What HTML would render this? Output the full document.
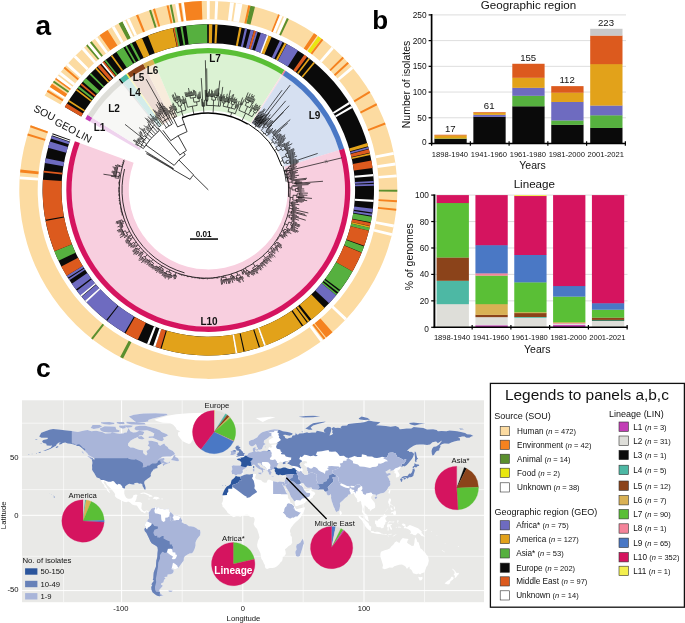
<!DOCTYPE html>
<html><head><meta charset="utf-8"><title>Figure</title>
<style>
html,body{margin:0;padding:0;background:#fff;}
svg{display:block;font-family:"Liberation Sans",sans-serif;will-change:transform;transform:translateZ(0);}
</style></head><body>
<svg width="685" height="623" viewBox="0 0 685 623">
<rect width="685" height="623" fill="#ffffff"/>
<g id="panel_a"><path d="M89.65,121.4A137,137 0 0 1 91.99,117.51L140.81,147.89A79.5,79.5 0 0 0 139.45,150.15Z" fill="#efd3ee" />
<path d="M91.93,117.61A137,137 0 0 1 122.08,83.43L158.27,128.12A79.5,79.5 0 0 0 140.77,147.95Z" fill="#f7f7f5" />
<path d="M121.99,83.51A137,137 0 0 1 123.23,82.51L158.94,127.58A79.5,79.5 0 0 0 158.22,128.16Z" fill="#e6e6e6" />
<path d="M123.14,82.58A137,137 0 0 1 129.13,78.09L162.36,125.02A79.5,79.5 0 0 0 158.88,127.62Z" fill="#d3ecea" />
<path d="M129.03,78.16A137,137 0 0 1 130.34,77.25L163.06,124.53A79.5,79.5 0 0 0 162.3,125.06Z" fill="#fbf9c4" />
<path d="M130.24,77.32A137,137 0 0 1 145.48,68.15L171.85,119.25A79.5,79.5 0 0 0 163,124.57Z" fill="#ecdcd5" />
<path d="M145.38,68.21A137,137 0 0 1 154.82,63.77L177.26,116.71A79.5,79.5 0 0 0 171.79,119.28Z" fill="#f8ecdc" />
<path d="M154.71,63.82A137,137 0 0 1 281.87,74.33L250.99,122.84A79.5,79.5 0 0 0 177.2,116.74Z" fill="#dbf2d3" />
<path d="M281.77,74.26A137,137 0 0 1 283.11,75.13L251.71,123.3A79.5,79.5 0 0 0 250.93,122.8Z" fill="#fbe0e4" />
<path d="M283.01,75.06A137,137 0 0 1 339.42,150.18L284.39,166.85A79.5,79.5 0 0 0 251.65,123.26Z" fill="#d6e0f1" />
<path d="M339.38,150.07A137,137 0 1 1 79.6,142.93L133.62,162.64A79.5,79.5 0 1 0 284.37,166.79Z" fill="#f8cfdf" />
<path d="M85.32,118.9A142,142 0 0 1 87.74,114.86L92.24,117.67A136.7,136.7 0 0 0 89.91,121.55Z" fill="#c23db5" />
<path d="M87.68,114.97A142,142 0 0 1 118.94,79.54L122.27,83.66A136.7,136.7 0 0 0 92.18,117.77Z" fill="#deded9" />
<path d="M118.84,79.62A142,142 0 0 1 120.13,78.59L123.42,82.74A136.7,136.7 0 0 0 122.18,83.74Z" fill="#0a0a0a" />
<path d="M120.03,78.67A142,142 0 0 1 126.24,74.01L129.3,78.34A136.7,136.7 0 0 0 123.33,82.82Z" fill="#4db8a4" />
<path d="M126.14,74.08A142,142 0 0 1 127.49,73.14L130.51,77.49A136.7,136.7 0 0 0 129.21,78.41Z" fill="#f3ef4e" />
<path d="M127.39,73.21A142,142 0 0 1 143.19,63.71L145.62,68.42A136.7,136.7 0 0 0 130.41,77.56Z" fill="#8b431a" />
<path d="M143.08,63.76A142,142 0 0 1 152.87,59.17L154.94,64.05A136.7,136.7 0 0 0 145.51,68.47Z" fill="#d9b154" />
<path d="M152.75,59.22A142,142 0 0 1 284.55,70.11L281.71,74.58A136.7,136.7 0 0 0 154.83,64.09Z" fill="#5abf36" />
<path d="M284.45,70.04A142,142 0 0 1 285.84,70.94L282.94,75.38A136.7,136.7 0 0 0 281.61,74.52Z" fill="#f4849a" />
<path d="M285.73,70.87A142,142 0 0 1 344.2,148.74L339.13,150.27A136.7,136.7 0 0 0 282.84,75.31Z" fill="#4a78c5" />
<path d="M344.17,148.62A142,142 0 1 1 74.91,141.22L79.88,143.03A136.7,136.7 0 1 0 339.1,150.16Z" fill="#d5145f" />
<path d="M64.8,107.05A165.7,165.7 0 1 1 52.59,133.23L70.35,139.69A146.8,146.8 0 1 0 81.17,116.5Z" fill="#0a0a0a" /><path d="M64.8,107.05A165.7,165.7 0 0 1 66.87,103.57L83,113.42A146.8,146.8 0 0 0 81.17,116.5Z" fill="#dc5a1e" /><path d="M68.15,101.5A165.7,165.7 0 0 1 69.11,99.99L84.99,110.25A146.8,146.8 0 0 0 84.13,111.59Z" fill="#e2a21a" /><path d="M75.86,90.32A165.7,165.7 0 0 1 76.95,88.89L91.93,100.41A146.8,146.8 0 0 0 90.97,101.68Z" fill="#e2a21a" /><path d="M77.73,87.88A165.7,165.7 0 0 1 78.98,86.3L93.73,98.11A146.8,146.8 0 0 0 92.62,99.52Z" fill="#56b03f" /><path d="M80.33,84.64A165.7,165.7 0 0 1 81.48,83.26L95.94,95.42A146.8,146.8 0 0 0 94.93,96.64Z" fill="#dc5a1e" /><path d="M82.87,81.63A165.7,165.7 0 0 1 85.94,78.17L99.89,90.91A146.8,146.8 0 0 0 97.17,93.98Z" fill="#56b03f" /><path d="M89.49,74.4A165.7,165.7 0 0 1 90.74,73.12L104.15,86.44A146.8,146.8 0 0 0 103.04,87.57Z" fill="#56b03f" /><path d="M95.17,68.83A165.7,165.7 0 0 1 96.48,67.62L109.24,81.56A146.8,146.8 0 0 0 108.07,82.64Z" fill="#e2a21a" /><path d="M97.43,66.76A165.7,165.7 0 0 1 100.03,64.47L112.38,78.77A146.8,146.8 0 0 0 110.07,80.81Z" fill="#dc5a1e" /><path d="M101.15,63.51A165.7,165.7 0 0 1 102.88,62.06L114.9,76.64A146.8,146.8 0 0 0 113.37,77.92Z" fill="#ffffff" /><path d="M102.55,62.34A165.7,165.7 0 0 1 103.93,61.2L115.84,75.88A146.8,146.8 0 0 0 114.61,76.89Z" fill="#dc5a1e" /><path d="M104.45,60.78A165.7,165.7 0 0 1 105.85,59.67L117.54,74.52A146.8,146.8 0 0 0 116.29,75.51Z" fill="#56b03f" /><path d="M110.76,55.95A165.7,165.7 0 0 1 112.22,54.9L123.18,70.3A146.8,146.8 0 0 0 121.89,71.23Z" fill="#e2a21a" /><path d="M116.36,52.05A165.7,165.7 0 0 1 123.45,47.57L133.13,63.8A146.8,146.8 0 0 0 126.85,67.77Z" fill="#56b03f" /><path d="M125.17,46.56A165.7,165.7 0 0 1 126.73,45.67L136.03,62.12A146.8,146.8 0 0 0 134.66,62.91Z" fill="#56b03f" /><path d="M129.74,44A165.7,165.7 0 0 1 131.79,42.92L140.52,59.69A146.8,146.8 0 0 0 138.7,60.65Z" fill="#56b03f" /><path d="M135.4,41.1A165.7,165.7 0 0 1 141.96,38.06L149.53,55.38A146.8,146.8 0 0 0 143.72,58.07Z" fill="#e2a21a" /><path d="M147.84,35.62A165.7,165.7 0 0 1 172.72,28.07L176.78,46.52A146.8,146.8 0 0 0 154.74,53.22Z" fill="#e2a21a" /><path d="M173.11,27.98A165.7,165.7 0 0 1 174.87,27.61L178.68,46.12A146.8,146.8 0 0 0 177.13,46.45Z" fill="#dc5a1e" /><path d="M174.53,27.68A165.7,165.7 0 0 1 176.29,27.32L179.94,45.87A146.8,146.8 0 0 0 178.38,46.18Z" fill="#56b03f" /><path d="M180.38,26.57A165.7,165.7 0 0 1 182.38,26.24L185.34,44.91A146.8,146.8 0 0 0 183.57,45.2Z" fill="#56b03f" /><path d="M186.1,25.69A165.7,165.7 0 0 1 207.14,24.2L207.28,43.1A146.8,146.8 0 0 0 188.63,44.42Z" fill="#56b03f" /><path d="M208.88,24.2A165.7,165.7 0 0 1 212.35,24.25L211.89,43.14A146.8,146.8 0 0 0 208.81,43.1Z" fill="#e2a21a" /><path d="M215.24,24.35A165.7,165.7 0 0 1 217.55,24.46L216.49,43.33A146.8,146.8 0 0 0 214.45,43.23Z" fill="#e2a21a" /><path d="M239.35,27.14A165.7,165.7 0 0 1 241.62,27.58L237.82,46.1A146.8,146.8 0 0 0 235.81,45.7Z" fill="#e2a21a" /><path d="M245.01,28.32A165.7,165.7 0 0 1 247.26,28.85L242.82,47.22A146.8,146.8 0 0 0 240.82,46.75Z" fill="#6e6bc0" /><path d="M250.63,29.7A165.7,165.7 0 0 1 253.97,30.62L248.76,48.79A146.8,146.8 0 0 0 245.8,47.97Z" fill="#6e6bc0" /><path d="M253.97,30.62A165.7,165.7 0 0 1 256.19,31.27L250.73,49.37A146.8,146.8 0 0 0 248.76,48.79Z" fill="#dc5a1e" /><path d="M256.03,31.22A165.7,165.7 0 0 1 257.74,31.75L252.1,49.79A146.8,146.8 0 0 0 250.58,49.32Z" fill="#6e6bc0" /><path d="M260.88,32.76A165.7,165.7 0 0 1 267.68,35.21L260.91,52.85A146.8,146.8 0 0 0 254.88,50.69Z" fill="#6e6bc0" /><path d="M267.03,34.96A165.7,165.7 0 0 1 269.14,35.77L262.2,53.35A146.8,146.8 0 0 0 260.33,52.63Z" fill="#ffffff" /><path d="M268.49,35.52A165.7,165.7 0 0 1 271.71,36.81L264.48,54.27A146.8,146.8 0 0 0 261.63,53.13Z" fill="#e2a21a" /><path d="M279.9,40.47A165.7,165.7 0 0 1 282.75,41.87L274.26,58.75A146.8,146.8 0 0 0 271.73,57.51Z" fill="#6e6bc0" /><path d="M284.56,42.79A165.7,165.7 0 0 1 286.6,43.87L277.67,60.52A146.8,146.8 0 0 0 275.86,59.57Z" fill="#e2a21a" /><path d="M286.86,44A165.7,165.7 0 0 1 298.06,50.62L287.82,66.5A146.8,146.8 0 0 0 277.9,60.65Z" fill="#6e6bc0" /><path d="M304.29,54.83A165.7,165.7 0 0 1 307.09,56.87L295.83,72.05A146.8,146.8 0 0 0 293.34,70.24Z" fill="#dc5a1e" /><path d="M308.57,57.98A165.7,165.7 0 0 1 310,59.08L298.4,74A146.8,146.8 0 0 0 297.14,73.03Z" fill="#e2a21a" /><path d="M313.56,61.93A165.7,165.7 0 0 1 314.94,63.08L302.78,77.54A146.8,146.8 0 0 0 301.56,76.53Z" fill="#e2a21a" /><path d="M348.84,102.12A165.7,165.7 0 0 1 350.02,104.04L333.85,113.83A146.8,146.8 0 0 0 332.81,112.13Z" fill="#ffffff" /><path d="M351.23,106.08A165.7,165.7 0 0 1 352.36,108.03L335.93,117.37A146.8,146.8 0 0 0 334.93,115.64Z" fill="#ffffff" /><path d="M367.26,143.12A165.7,165.7 0 0 1 368.13,146.18L349.9,151.16A146.8,146.8 0 0 0 349.13,148.45Z" fill="#e2a21a" /><path d="M368.35,146.99A165.7,165.7 0 0 1 368.8,148.72L350.49,153.42A146.8,146.8 0 0 0 350.09,151.88Z" fill="#6e6bc0" /><path d="M368.94,149.25A165.7,165.7 0 0 1 369.75,152.63L351.34,156.88A146.8,146.8 0 0 0 350.61,153.89Z" fill="#dc5a1e" /><path d="M369.91,153.3A165.7,165.7 0 0 1 370.29,155.05L351.82,159.03A146.8,146.8 0 0 0 351.47,157.48Z" fill="#e2a21a" /><path d="M371.38,160.56A165.7,165.7 0 0 1 372.54,167.99L353.81,170.48A146.8,146.8 0 0 0 352.78,163.9Z" fill="#dc5a1e" /><path d="M373.23,173.9A165.7,165.7 0 0 1 373.43,176.15L354.59,177.72A146.8,146.8 0 0 0 354.41,175.73Z" fill="#ffffff" /><path d="M373.76,181.05A165.7,165.7 0 0 1 373.85,182.85L354.97,183.65A146.8,146.8 0 0 0 354.89,182.06Z" fill="#6e6bc0" /><path d="M373.89,183.94A165.7,165.7 0 0 1 373.95,185.74L355.05,186.21A146.8,146.8 0 0 0 355.01,184.62Z" fill="#6e6bc0" /><path d="M373.71,199.76A165.7,165.7 0 0 1 373.56,202.01L354.71,200.63A146.8,146.8 0 0 0 354.84,198.63Z" fill="#ffffff" /><path d="M372.93,208.66A165.7,165.7 0 0 1 372.47,212.39L353.74,209.82A146.8,146.8 0 0 0 354.16,206.52Z" fill="#6e6bc0" /><path d="M372.26,213.82A165.7,165.7 0 0 1 371.96,215.82L353.29,212.86A146.8,146.8 0 0 0 353.56,211.09Z" fill="#6e6bc0" /><path d="M371.82,216.68A165.7,165.7 0 0 1 370.79,222.37L352.25,218.66A146.8,146.8 0 0 0 353.17,213.62Z" fill="#56b03f" /><path d="M370.67,222.94A165.7,165.7 0 0 1 370.01,226.05L351.56,221.92A146.8,146.8 0 0 0 352.15,219.17Z" fill="#dc5a1e" /><path d="M369.98,226.16A165.7,165.7 0 0 1 369.58,227.91L351.19,223.57A146.8,146.8 0 0 0 351.54,222.02Z" fill="#e2a21a" /><path d="M369.62,227.74A165.7,165.7 0 0 1 368.87,230.83L350.55,226.16A146.8,146.8 0 0 0 351.22,223.42Z" fill="#56b03f" /><path d="M368.87,230.83A165.7,165.7 0 0 1 364.3,245.76L346.51,239.39A146.8,146.8 0 0 0 350.55,226.16Z" fill="#dc5a1e" /><path d="M364.01,246.57A165.7,165.7 0 0 1 361.72,252.51L344.22,245.37A146.8,146.8 0 0 0 346.25,240.11Z" fill="#56b03f" /><path d="M361.61,252.78A165.7,165.7 0 0 1 352.52,271.49L336.07,262.19A146.8,146.8 0 0 0 344.12,245.6Z" fill="#dc5a1e" /><path d="M352.52,271.49A165.7,165.7 0 0 1 340.29,290.08L325.23,278.66A146.8,146.8 0 0 0 336.07,262.19Z" fill="#56b03f" /><path d="M339.42,291.21A165.7,165.7 0 0 1 338.32,292.62L323.49,280.9A146.8,146.8 0 0 0 324.47,279.65Z" fill="#56b03f" /><path d="M337.27,293.93A165.7,165.7 0 0 1 336.14,295.32L321.56,283.3A146.8,146.8 0 0 0 322.56,282.07Z" fill="#56b03f" /><path d="M336.16,295.3A165.7,165.7 0 0 1 329.09,303.33L315.31,290.39A146.8,146.8 0 0 0 321.57,283.28Z" fill="#6e6bc0" /><path d="M324.65,307.88A165.7,165.7 0 0 1 311.45,319.58L299.69,304.79A146.8,146.8 0 0 0 311.38,294.43Z" fill="#e2a21a" /><path d="M309.63,321.01A165.7,165.7 0 0 1 308.02,322.23L296.65,307.14A146.8,146.8 0 0 0 298.07,306.05Z" fill="#e2a21a" /><path d="M307.09,322.93A165.7,165.7 0 0 1 303.34,325.63L292.5,310.15A146.8,146.8 0 0 0 295.83,307.75Z" fill="#e2a21a" /><path d="M302.15,326.46A165.7,165.7 0 0 1 265.52,345.41L258.99,327.67A146.8,146.8 0 0 0 291.45,310.88Z" fill="#e2a21a" /><path d="M265.9,345.27A165.7,165.7 0 0 1 263.78,346.04L257.45,328.23A146.8,146.8 0 0 0 259.33,327.55Z" fill="#ffffff" /><path d="M264.16,345.9A165.7,165.7 0 0 1 260.05,347.31L254.15,329.36A146.8,146.8 0 0 0 257.79,328.11Z" fill="#e2a21a" /><path d="M258.95,347.67A165.7,165.7 0 0 1 244.73,351.55L240.57,333.11A146.8,146.8 0 0 0 253.18,329.67Z" fill="#e2a21a" /><path d="M243.6,351.8A165.7,165.7 0 0 1 236.79,353.13L233.54,334.51A146.8,146.8 0 0 0 239.57,333.33Z" fill="#e2a21a" /><path d="M237.33,353.04A165.7,165.7 0 0 1 235.11,353.42L232.05,334.77A146.8,146.8 0 0 0 234.02,334.43Z" fill="#ffffff" /><path d="M235.65,353.33A165.7,165.7 0 0 1 161.52,348.86L166.85,330.73A146.8,146.8 0 0 0 232.53,334.69Z" fill="#e2a21a" /><path d="M160.41,348.53A165.7,165.7 0 0 1 155.17,346.85L161.23,328.95A146.8,146.8 0 0 0 165.87,330.43Z" fill="#dc5a1e" /><path d="M155.28,346.89A165.7,165.7 0 0 1 153.15,346.15L159.44,328.33A146.8,146.8 0 0 0 161.33,328.98Z" fill="#ffffff" /><path d="M149.16,344.69A165.7,165.7 0 0 1 147.06,343.87L154.04,326.31A146.8,146.8 0 0 0 155.91,327.03Z" fill="#ffffff" /><path d="M137.75,339.83A165.7,165.7 0 0 1 125.45,333.4L134.9,317.03A146.8,146.8 0 0 0 145.8,322.73Z" fill="#dc5a1e" /><path d="M124.45,332.82A165.7,165.7 0 0 1 106.97,321.01L118.53,306.05A146.8,146.8 0 0 0 134.01,316.52Z" fill="#6e6bc0" /><path d="M106.06,320.3A165.7,165.7 0 0 1 86.13,301.85L100.07,289.08A146.8,146.8 0 0 0 117.72,305.42Z" fill="#6e6bc0" /><path d="M86.41,302.14A165.7,165.7 0 0 1 84.89,300.47L98.97,287.86A146.8,146.8 0 0 0 100.31,289.34Z" fill="#ffffff" /><path d="M85.16,300.77A165.7,165.7 0 0 1 81.74,296.85L96.17,284.65A146.8,146.8 0 0 0 99.21,288.13Z" fill="#6e6bc0" /><path d="M81.44,296.5A165.7,165.7 0 0 1 80,294.76L94.64,282.8A146.8,146.8 0 0 0 95.91,284.34Z" fill="#ffffff" /><path d="M80.44,295.3A165.7,165.7 0 0 1 76.84,290.77L91.84,279.27A146.8,146.8 0 0 0 95.03,283.28Z" fill="#6e6bc0" /><path d="M75.97,289.62A165.7,165.7 0 0 1 71.74,283.75L87.32,273.05A146.8,146.8 0 0 0 91.06,278.25Z" fill="#6e6bc0" /><path d="M69.35,280.17A165.7,165.7 0 0 1 68.38,278.66L84.34,268.54A146.8,146.8 0 0 0 85.2,269.87Z" fill="#6e6bc0" /><path d="M67.78,277.71A165.7,165.7 0 0 1 66.57,275.74L82.73,265.95A146.8,146.8 0 0 0 83.81,267.69Z" fill="#6e6bc0" /><path d="M66.57,275.74A165.7,165.7 0 0 1 61.32,266.41L78.09,257.68A146.8,146.8 0 0 0 82.73,265.95Z" fill="#dc5a1e" /><path d="M58.49,260.71A165.7,165.7 0 0 1 54.34,251.17L71.9,244.18A146.8,146.8 0 0 0 75.58,252.64Z" fill="#56b03f" /><path d="M54.34,251.17A165.7,165.7 0 0 1 45.54,220.95L64.1,217.41A146.8,146.8 0 0 0 71.9,244.18Z" fill="#dc5a1e" /><path d="M45.32,219.81A165.7,165.7 0 0 1 42.91,179.78L61.77,180.94A146.8,146.8 0 0 0 63.91,216.4Z" fill="#dc5a1e" /><path d="M43.52,172.46A165.7,165.7 0 0 1 43.72,170.68L62.49,172.87A146.8,146.8 0 0 0 62.31,174.45Z" fill="#dc5a1e" /><path d="M44.78,163.12A165.7,165.7 0 0 1 45.64,158.28L64.2,161.89A146.8,146.8 0 0 0 63.43,166.18Z" fill="#6e6bc0" /><path d="M48.02,147.85A165.7,165.7 0 0 1 49.84,141.45L67.91,146.98A146.8,146.8 0 0 0 66.31,152.65Z" fill="#6e6bc0" /><path d="M50.8,138.42A165.7,165.7 0 0 1 51.63,135.95L69.5,142.11A146.8,146.8 0 0 0 68.76,144.29Z" fill="#6e6bc0" /><path d="M51.91,135.13A165.7,165.7 0 0 1 52.22,134.26L70.02,140.61A146.8,146.8 0 0 0 69.75,141.38Z" fill="#ffffff" />
<path d="M44.62,95.4A189,189 0 1 1 30.7,125.26L47.99,131.55A170.6,170.6 0 1 0 60.56,104.6Z" fill="#fcdba1" /><path d="M46.79,91.74A189,189 0 0 1 47.86,90L63.48,99.72A170.6,170.6 0 0 0 62.51,101.3Z" fill="#f5821f" /><path d="M48.55,88.91A189,189 0 0 1 50.15,86.41L65.55,96.49A170.6,170.6 0 0 0 64.1,98.74Z" fill="#ffffff" /><path d="M49.79,86.96A189,189 0 0 1 51.98,83.67L67.2,94.01A170.6,170.6 0 0 0 65.22,96.98Z" fill="#f5821f" /><path d="M52.9,82.33A189,189 0 0 1 54.07,80.66L69.08,91.29A170.6,170.6 0 0 0 68.03,92.81Z" fill="#5a8f2e" /><path d="M55.09,79.24A189,189 0 0 1 56.29,77.58L71.09,88.52A170.6,170.6 0 0 0 70,90.01Z" fill="#f5821f" /><path d="M56.08,77.88A189,189 0 0 1 57.86,75.5L72.5,86.64A170.6,170.6 0 0 0 70.9,88.78Z" fill="#ffffff" /><path d="M58.86,74.19A189,189 0 0 1 60.7,71.86L75.07,83.35A170.6,170.6 0 0 0 73.41,85.46Z" fill="#ffffff" /><path d="M63.6,68.31A189,189 0 0 1 64.93,66.75L78.88,78.74A170.6,170.6 0 0 0 77.69,80.15Z" fill="#f5821f" /><path d="M66.2,65.28A189,189 0 0 1 68.18,63.07L81.82,75.41A170.6,170.6 0 0 0 80.04,77.42Z" fill="#ffffff" /><path d="M73.61,57.31A189,189 0 0 1 75.71,55.21L88.62,68.32A170.6,170.6 0 0 0 86.72,70.22Z" fill="#ffffff" /><path d="M81.71,49.56A189,189 0 0 1 83.93,47.58L96.04,61.44A170.6,170.6 0 0 0 94.04,63.22Z" fill="#ffffff" /><path d="M86.16,45.67A189,189 0 0 1 87.73,44.36L99.46,58.53A170.6,170.6 0 0 0 98.05,59.71Z" fill="#5a8f2e" /><path d="M87.57,44.48A189,189 0 0 1 89.87,42.61L101.4,56.94A170.6,170.6 0 0 0 99.33,58.64Z" fill="#ffffff" /><path d="M89.97,42.52A189,189 0 0 1 91.58,41.25L102.94,55.72A170.6,170.6 0 0 0 101.49,56.87Z" fill="#5a8f2e" /><path d="M94.82,38.76A189,189 0 0 1 97.21,37L108.02,51.88A170.6,170.6 0 0 0 105.87,53.47Z" fill="#ffffff" /><path d="M99.62,35.27A189,189 0 0 1 107.59,29.97L117.39,45.54A170.6,170.6 0 0 0 110.2,50.32Z" fill="#f5821f" /><path d="M111.81,27.39A189,189 0 0 1 114.37,25.89L123.52,41.86A170.6,170.6 0 0 0 121.2,43.21Z" fill="#ffffff" /><path d="M118.7,23.49A189,189 0 0 1 122.5,21.5L130.85,37.89A170.6,170.6 0 0 0 127.42,39.69Z" fill="#5a8f2e" /><path d="M122.5,21.5A189,189 0 0 1 125.15,20.17L133.25,36.7A170.6,170.6 0 0 0 130.85,37.89Z" fill="#ffffff" /><path d="M126.64,19.45A189,189 0 0 1 129.32,18.19L137.01,34.91A170.6,170.6 0 0 0 134.59,36.05Z" fill="#ffffff" /><path d="M135.97,15.29A189,189 0 0 1 138.11,14.42L144.94,31.5A170.6,170.6 0 0 0 143.01,32.29Z" fill="#f5821f" /><path d="M149.08,10.42A189,189 0 0 1 151.03,9.79L156.6,27.32A170.6,170.6 0 0 0 154.85,27.89Z" fill="#5a8f2e" /><path d="M153.01,9.17A189,189 0 0 1 154.97,8.58L160.16,26.23A170.6,170.6 0 0 0 158.39,26.76Z" fill="#f5821f" /><path d="M166.56,5.57A189,189 0 0 1 168.55,5.13L172.42,23.12A170.6,170.6 0 0 0 170.62,23.51Z" fill="#f5821f" /><path d="M169.78,4.87A189,189 0 0 1 171.78,4.46L175.34,22.51A170.6,170.6 0 0 0 173.53,22.88Z" fill="#5a8f2e" /><path d="M175.16,3.83A189,189 0 0 1 178.08,3.33L181.02,21.49A170.6,170.6 0 0 0 178.38,21.94Z" fill="#ffffff" /><path d="M178.7,3.23A189,189 0 0 1 180.72,2.92L183.41,21.13A170.6,170.6 0 0 0 181.58,21.41Z" fill="#f5821f" /><path d="M181.67,2.79A189,189 0 0 1 184.61,2.39L186.92,20.65A170.6,170.6 0 0 0 184.26,21Z" fill="#ffffff" /><path d="M183.96,2.47A189,189 0 0 1 201.7,1.02L202.35,19.4A170.6,170.6 0 0 0 186.33,20.72Z" fill="#f5821f" /><path d="M206.82,0.91A189,189 0 0 1 209.78,0.91L209.64,19.31A170.6,170.6 0 0 0 206.96,19.31Z" fill="#ffffff" /><path d="M215.23,1.03A189,189 0 0 1 218.19,1.16L217.23,19.53A170.6,170.6 0 0 0 214.55,19.41Z" fill="#ffffff" /><path d="M230.02,2.15A189,189 0 0 1 233.95,2.65L231.45,20.88A170.6,170.6 0 0 0 227.91,20.43Z" fill="#ffffff" /><path d="M235.91,2.93A189,189 0 0 1 242.42,4L239.1,22.1A170.6,170.6 0 0 0 233.22,21.13Z" fill="#ffffff" /><path d="M248.24,5.17A189,189 0 0 1 250.49,5.67L246.39,23.61A170.6,170.6 0 0 0 244.35,23.15Z" fill="#f5821f" /><path d="M250.49,5.67A189,189 0 0 1 254.98,6.76L250.44,24.59A170.6,170.6 0 0 0 246.39,23.61Z" fill="#5a8f2e" /><path d="M278.18,14.29A189,189 0 0 1 280.32,15.16L273.31,32.17A170.6,170.6 0 0 0 271.38,31.39Z" fill="#f5821f" /><path d="M279.86,14.97A189,189 0 0 1 282.6,16.12L275.37,33.04A170.6,170.6 0 0 0 272.9,32Z" fill="#ffffff" /><path d="M283.97,16.71A189,189 0 0 1 286.68,17.92L279.05,34.66A170.6,170.6 0 0 0 276.6,33.57Z" fill="#ffffff" /><path d="M286.95,18.04A189,189 0 0 1 288.8,18.9L280.96,35.55A170.6,170.6 0 0 0 279.29,34.77Z" fill="#5a8f2e" /><path d="M313.99,33.21A189,189 0 0 1 317.25,35.46L306.64,50.5A170.6,170.6 0 0 0 303.7,48.47Z" fill="#f5821f" /><path d="M318.32,36.22A189,189 0 0 1 321.52,38.56L310.49,53.3A170.6,170.6 0 0 0 307.61,51.19Z" fill="#e9e70f" /><path d="M321.62,38.64A189,189 0 0 1 323.25,39.88L312.06,54.48A170.6,170.6 0 0 0 310.59,53.37Z" fill="#f5821f" /><path d="M331.67,46.72A189,189 0 0 1 333.91,48.68L321.68,62.42A170.6,170.6 0 0 0 319.66,60.66Z" fill="#ffffff" /><path d="M342.5,56.82A189,189 0 0 1 343.93,58.28L330.73,71.09A170.6,170.6 0 0 0 329.44,69.77Z" fill="#f5821f" /><path d="M347.51,62.07A189,189 0 0 1 348.89,63.58L335.2,75.88A170.6,170.6 0 0 0 333.96,74.51Z" fill="#f5821f" /><path d="M351.37,66.4A189,189 0 0 1 353.29,68.67L339.18,80.47A170.6,170.6 0 0 0 337.44,78.43Z" fill="#ffffff" /><path d="M369.35,90.98A189,189 0 0 1 370.41,92.73L354.62,102.19A170.6,170.6 0 0 0 353.67,100.61Z" fill="#f5821f" /><path d="M376.31,103.33A189,189 0 0 1 377.24,105.16L360.79,113.41A170.6,170.6 0 0 0 359.95,111.76Z" fill="#f5821f" /><path d="M384.91,122.6A189,189 0 0 1 385.63,124.51L368.37,130.88A170.6,170.6 0 0 0 367.72,129.15Z" fill="#f5821f" /><path d="M393.44,151.9A189,189 0 0 1 394.01,154.81L375.93,158.23A170.6,170.6 0 0 0 375.42,155.6Z" fill="#ffffff" /><path d="M395.32,162.62A189,189 0 0 1 395.73,165.56L377.48,167.93A170.6,170.6 0 0 0 377.11,165.27Z" fill="#ffffff" /><path d="M396.66,174.41A189,189 0 0 1 396.88,177.37L378.52,178.59A170.6,170.6 0 0 0 378.33,175.92Z" fill="#ffffff" /><path d="M397.3,189.7A189,189 0 0 1 397.29,191.75L378.89,191.57A170.6,170.6 0 0 0 378.9,189.72Z" fill="#5a8f2e" /><path d="M397.02,200.25A189,189 0 0 1 396.89,202.29L378.53,201.09A170.6,170.6 0 0 0 378.64,199.24Z" fill="#f5821f" /><path d="M396.35,208.8A189,189 0 0 1 396.14,210.84L377.85,208.8A170.6,170.6 0 0 0 378.04,206.96Z" fill="#f5821f" /><path d="M394.11,224.5A189,189 0 0 1 393.54,227.42L375.5,223.77A170.6,170.6 0 0 0 376.02,221.14Z" fill="#ffffff" /><path d="M392.27,233.22A189,189 0 0 1 391.57,236.1L373.72,231.61A170.6,170.6 0 0 0 374.36,229Z" fill="#ffffff" /><path d="M346.97,318.31A189,189 0 0 1 344.94,320.48L331.64,307.76A170.6,170.6 0 0 0 333.47,305.81Z" fill="#ffffff" /><path d="M332.54,332.32A189,189 0 0 1 326.21,337.61L314.73,323.23A170.6,170.6 0 0 0 320.45,318.46Z" fill="#f5821f" /><path d="M325.33,338.3A189,189 0 0 1 323.72,339.56L312.49,324.99A170.6,170.6 0 0 0 313.94,323.86Z" fill="#f5821f" /><path d="M322.96,340.14A189,189 0 0 1 320.59,341.93L309.66,327.13A170.6,170.6 0 0 0 311.8,325.52Z" fill="#ffffff" /><path d="M123.08,358.6A189,189 0 0 1 120.15,357.09L128.73,340.81A170.6,170.6 0 0 0 131.38,342.18Z" fill="#5a8f2e" /><path d="M92.75,339.46A189,189 0 0 1 91.14,338.2L102.54,323.76A170.6,170.6 0 0 0 104,324.9Z" fill="#5a8f2e" /><path d="M19.59,179.35A189,189 0 0 1 19.78,176.39L38.14,177.7A170.6,170.6 0 0 0 37.97,180.38Z" fill="#ffffff" /><path d="M20.11,172.44A189,189 0 0 1 20.41,169.49L38.7,171.48A170.6,170.6 0 0 0 38.43,174.14Z" fill="#f5821f" /><path d="M27.31,135.46A189,189 0 0 1 27.91,133.51L45.47,139A170.6,170.6 0 0 0 44.93,140.76Z" fill="#f5821f" /><path d="M30.02,127.15A189,189 0 0 1 30.71,125.23L48,131.52A170.6,170.6 0 0 0 47.38,133.26Z" fill="#f5821f" />
<path d="M172.69,169.59A41,41 0 0 1 173.36,168.45M172.9,169.21L146.19,153.59M173.13,168.83L147.47,153.46M173.36,168.45L145.31,151.24M137.62,145.46L135.18,143.93M138.1,144.71L135.99,143.35M137.62,145.46A83.49,83.49 0 0 1 138.1,144.71M140.7,146.9L137.86,145.08M136.9,142.84L133.03,140.29M137.41,142.07L133.93,139.73M136.9,142.84A85.52,85.52 0 0 1 137.41,142.07M139.07,143.74L137.15,142.46M139.83,142.62L136.57,140.38M139.07,143.74A83.21,83.21 0 0 1 139.83,142.62M141.69,144.7L139.45,143.18M139.65,141.4L137.16,139.65M140.18,140.67L137.6,138.81M139.65,141.4A84.05,84.05 0 0 1 140.18,140.67M141.66,142.29L139.91,141.04M139.76,139.24L138.28,138.14M140.31,138.5L139.27,137.72M139.76,139.24A85.23,85.23 0 0 1 140.31,138.5M140.67,139.35L140.03,138.87M141.49,138.26L140.46,137.46M140.67,139.35A84.44,84.44 0 0 1 141.49,138.26M141.85,139.39L141.08,138.8M142.82,138.15L139.92,135.86M141.85,139.39A83.46,83.46 0 0 1 142.82,138.15M143.57,139.72L142.33,138.77M141.66,142.29A81.9,81.9 0 0 1 143.57,139.72M143.17,141.42L142.6,141M141.14,135.64L139.57,134.38M141.09,134.4L138.75,132.47M140.68,132.82L139.83,132.1M141.3,132.1L140.03,131.01M140.68,132.82A88.49,88.49 0 0 1 141.3,132.1M142,133.32L140.99,132.46M141.09,134.4A87.16,87.16 0 0 1 142,133.32M142.18,134.39L141.54,133.86M141.14,135.64A86.33,86.33 0 0 1 142.18,134.39M143.82,136.79L141.66,135.01M145.64,134.66L143.45,132.73M143.82,136.79A83.54,83.54 0 0 1 145.64,134.66M145.86,136.69L144.72,135.72M144.87,132.76L139.04,127.5M144.01,130.72L141.61,128.51M144.02,129.44L143.37,128.82M144.68,128.75L143.99,128.09M144.02,129.44A88.25,88.25 0 0 1 144.68,128.75M144.98,129.69L144.35,129.09M144.01,130.72A87.38,87.38 0 0 1 144.98,129.69M145.96,131.58L144.49,130.2M144.87,132.76A85.37,85.37 0 0 1 145.96,131.58M147.36,133.95L145.41,132.16M148.41,131.08L146.12,128.84M149.04,130.44L144.02,125.4M148.41,131.08A83.94,83.94 0 0 1 149.04,130.44M149.25,131.29L148.72,130.76M148.31,128.39L146.28,126.31M148.97,127.75L147.53,126.25M148.31,128.39A85.92,85.92 0 0 1 148.97,127.75M149.65,129.12L148.64,128.07M149.39,126.85L147.76,125.1M150.07,126.22L148.07,124.02M149.39,126.85A86.29,86.29 0 0 1 150.07,126.22M150.97,127.88L149.73,126.53M149.65,129.12A84.46,84.46 0 0 1 150.97,127.88M150.86,129.08L150.31,128.5M149.94,124.68L147.44,121.89M149.04,122.22L145.11,117.73M149.77,121.58L147.07,118.43M149.04,122.22A89.96,89.96 0 0 1 149.77,121.58M151,123.75L149.4,121.9M149.94,124.68A87.52,87.52 0 0 1 151,123.75M152.66,126.7L150.47,124.21M152.58,123.44L150.15,120.53M153.3,122.84L148.11,116.51M152.58,123.44A86.73,86.73 0 0 1 153.3,122.84M154.31,124.79L152.94,123.14M143.33,148.57L140.7,146.9M144.58,146.66L141.69,144.7M146.53,143.92L143.17,141.42M149.69,139.96L145.86,136.69M151.58,137.83L147.36,133.95M153.65,135.65L149.25,131.29M155.43,133.92L150.86,129.08M157.42,132.11L152.66,126.7M159.15,130.63L154.31,124.79M145.43,140.43L125,124.35M152.88,120.83L150.86,118.31M153.63,120.24L151.82,117.93M152.88,120.83A88.55,88.55 0 0 1 153.63,120.24M154.01,121.48L153.25,120.53M155.12,120.61L150.05,114.01M154.01,121.48A87.35,87.35 0 0 1 155.12,120.61M156.62,123.68L154.56,121.04M156.09,120.34L152.82,115.99M156.45,119.25L154.86,117.09M157.21,118.7L155.06,115.7M156.45,119.25A87.63,87.63 0 0 1 157.21,118.7M157.22,119.51L156.83,118.98M156.09,120.34A86.97,86.97 0 0 1 157.22,119.51M158.42,122.32L156.65,119.92M159.08,126.83L156.62,123.68M160.79,125.53L158.42,122.32M162.36,124.4L155.47,114.58M159.96,119.37L153.05,109.3M158.89,116.13L155.04,110.38M159.69,115.6L157.48,112.23M158.89,116.13A88.79,88.79 0 0 1 159.69,115.6M161.1,118.6L159.29,115.86M159.96,119.37A85.5,85.5 0 0 1 161.1,118.6M162.49,121.89L160.53,118.99M160.23,114.67L157.97,111.14M161.04,114.16L158.34,109.83M160.23,114.67A89.28,89.28 0 0 1 161.04,114.16M162.82,117.88L160.63,114.41M161.97,113.84L156.14,104.27M162.79,113.35L159.15,107.22M161.97,113.84A89.05,89.05 0 0 1 162.79,113.35M164.38,116.92L162.38,113.6M162.82,117.88A85.18,85.18 0 0 1 164.38,116.92M165.27,120.1L163.6,117.4M163.02,111.83L157.3,101.97M163.86,111.35L159.17,103.05M163.02,111.83A90.25,90.25 0 0 1 163.86,111.35M165.67,115.48L163.44,111.59M166.87,114.8L161.92,105.81M165.67,115.48A85.77,85.77 0 0 1 166.87,114.8M168.12,118.42L166.27,115.14M168.68,116.22L161.35,102.58M169.48,115.79L164.36,106.02M168.68,116.22A83.66,83.66 0 0 1 169.48,115.79M169.86,117.47L169.08,116M166.4,127.7L162.49,121.89M168.94,126.06L165.27,120.1M171.55,124.52L168.12,118.42M173.14,123.65L169.86,117.47M167.19,116.65L146.15,79.15M168.86,112.6L166.46,107.9M169.69,112.18L168.63,110.05M168.86,112.6A86.78,86.78 0 0 1 169.69,112.18M169.99,113.82L169.27,112.39M171.22,113.21L169.69,110.03M169.99,113.82A85.18,85.18 0 0 1 171.22,113.21M171.13,114.57L170.61,113.51M171.41,111.44L169.22,106.79M171.37,109.12L170.41,107.02M172.24,108.73L170.69,105.24M171.37,109.12A88.82,88.82 0 0 1 172.24,108.73M172.68,110.86L171.81,108.93M171.41,111.44A86.7,86.7 0 0 1 172.68,110.86M173.17,113.6L172.04,111.15M175.03,112.77L172.01,105.77M172.9,118.16L171.13,114.57M174.84,117.23L173.17,113.6M176.61,116.44L175.03,112.77M174.99,110.35L172.46,104.31M175.85,110L172.9,102.73M176.71,109.66L175.28,106.02M174.99,110.35A86.24,86.24 0 0 1 176.71,109.66M177.04,112.94L175.85,110M174.44,101.11L172.18,95.17M175.4,100.75L172.97,94.17M176.36,100.4L175.29,97.4M174.44,101.11A95.03,95.03 0 0 1 176.36,100.4M176.15,102.78L175.4,100.75M177.3,99.98L174.73,92.52M178.27,99.65L176.93,95.64M177.3,99.98A95.12,95.12 0 0 1 178.27,99.65M178.51,101.95L177.78,99.81M176.15,102.78A92.86,92.86 0 0 1 178.51,101.95M178.75,106.39L177.33,102.36M180.02,101.77L178.11,95.82M180.97,101.47L179.28,96M180.02,101.77A92.55,92.55 0 0 1 180.97,101.47M181.69,105.41L180.5,101.62M178.75,106.39A88.58,88.58 0 0 1 181.69,105.41M181.97,111.12L180.22,105.89M182.67,103.68L181.37,99.33M183.6,103.41L182.46,99.42M184.53,103.15L182.57,96.01M185.46,102.9L184.52,99.32M182.67,103.68A89.95,89.95 0 0 1 185.46,102.9M185.91,109.91L184.06,103.28M177.04,112.94A83.07,83.07 0 0 1 185.91,109.91M183.3,116.75L181.44,111.3M187.55,107.26L185.12,97.57M185.95,96.65L184.92,92.36M186.96,96.41L185.96,92.06M187.96,96.19L187.16,92.49M188.97,95.98L188.1,91.75M189.98,95.77L188.48,88.06M191,95.58L190.23,91.43M192.01,95.4L191.24,90.92M193.03,95.23L192.55,92.26M194.05,95.07L193.25,89.76M185.95,96.65A95.89,95.89 0 0 1 194.05,95.07M190.46,98.23L189.98,95.77M195.17,95.62L194.4,90.15M196.18,95.49L195.63,91.2M195.17,95.62A95.19,95.19 0 0 1 196.18,95.49M195.91,97.34L195.67,95.55M190.46,98.23A93.39,93.39 0 0 1 195.91,97.34M193.91,102.21L193.18,97.75M197.56,98.47L197.19,95.28M198.54,98.36L198.07,93.86M199.53,98.26L198.97,92.36M200.52,98.17L199.94,91.44M197.56,98.47A92.06,92.06 0 0 1 200.52,98.17M199.36,101.49L199.04,98.31M193.91,102.21A88.86,88.86 0 0 1 199.36,101.49M197.11,105.43L196.63,101.81M187.55,107.26A85.21,85.21 0 0 1 197.11,105.43M193.79,113.97L192.3,106.21M202.11,106.25L201.56,98.87M203.01,106.19L202.71,101.57M203.91,106.14L203.71,102.39M204.81,106.09L204.55,99.88M202.11,106.25A83.88,83.88 0 0 1 204.81,106.09M203.84,112.73L203.46,106.16M205.53,100.37L205.21,89.98M206.42,96.3L206.29,89.83M207.42,96.28L207.39,93.13M208.43,96.28L208.44,91.48M209.44,96.29L209.52,89.11M206.42,96.3A93.62,93.62 0 0 1 209.44,96.29M207.94,100.33L207.93,96.28M205.53,100.37A89.57,89.57 0 0 1 207.94,100.33M206.83,105.44L206.74,100.34M210.44,96.47L210.51,93.45M211.44,96.5L211.67,89.76M212.45,96.54L212.7,90.87M213.45,96.59L213.64,93.26M210.44,96.47A93.46,93.46 0 0 1 213.45,96.59M211.81,99.98L211.95,96.52M214.41,97.36L214.87,90.43M215.54,95.59L216.02,89.36M216.56,95.67L217.19,88.47M217.57,95.77L218.31,88.25M218.58,95.87L218.93,92.66M215.54,95.59A94.59,94.59 0 0 1 218.58,95.87M216.89,97.55L217.07,95.72M214.41,97.36A92.74,92.74 0 0 1 216.89,97.55M215.43,100.2L215.65,97.45M211.81,99.98A89.99,89.99 0 0 1 215.43,100.2M213.3,105.57L213.62,100.07M218.39,106.03L219.56,96.31M220.02,100.58L220.86,94.17M220.98,100.71L221.49,97.08M221.94,100.86L222.76,95.49M220.02,100.58A90.08,90.08 0 0 1 221.94,100.86M220.19,106.26L220.98,100.71M206.83,105.44A84.48,84.48 0 0 1 220.19,106.26M213.08,112.75L213.52,105.59M222.61,102.71L224.03,94.09M223.83,101.26L224.76,95.98M224.78,101.43L225.4,98.11M225.73,101.62L227.28,93.79M226.68,101.81L227.69,96.98M223.83,101.26A89.99,89.99 0 0 1 226.68,101.81M224.95,103.12L225.26,101.52M222.61,102.71A88.36,88.36 0 0 1 224.95,103.12M223.19,106.25L223.78,102.91M227.58,102.24L228.3,98.95M228.52,102.45L230.04,95.89M229.46,102.68L230.59,98.01M227.58,102.24A89.75,89.75 0 0 1 229.46,102.68M227.44,107.12L228.52,102.45M230.87,101.04L232.48,94.72M231.83,101.28L233.75,94.05M232.78,101.54L233.61,98.53M230.87,101.04A91.69,91.69 0 0 1 232.78,101.54M231.1,104.02L231.83,101.28M233.56,102.38L235.02,97.33M234.5,102.66L235.57,99.11M235.44,102.94L236.8,98.57M233.56,102.38A91.09,91.09 0 0 1 235.44,102.94M233.86,104.8L234.5,102.66M231.1,104.02A88.86,88.86 0 0 1 233.86,104.8M231.42,108.15L232.48,104.4M235.1,107.17L237.18,100.74M235.99,107.46L237.13,104.05M235.1,107.17A86.97,86.97 0 0 1 235.99,107.46M234.92,109.22L235.54,107.31M223.19,106.25A84.96,84.96 0 0 1 234.92,109.22M228.09,111.56L229.11,107.53M236.77,108.06L239.24,100.97M237.65,108.37L239.29,103.8M236.77,108.06A86.65,86.65 0 0 1 237.65,108.37M235.26,113.73L237.21,108.22M228.09,111.56A80.8,80.8 0 0 1 235.26,113.73M230.68,115.91L231.7,112.56M240.15,104.32L242.69,97.5M241.07,104.67L242.24,101.62M241.98,105.02L244.26,99.28M240.15,104.32A91.32,91.32 0 0 1 241.98,105.02M238.91,110.29L241.07,104.67M245.57,98.86L248.19,92.45M246.54,99.27L247.77,96.37M245.57,98.86A98.37,98.37 0 0 1 246.54,99.27M245.04,101.52L246.06,99.06M247.29,100.2L250.24,93.43M248.26,100.62L249.9,96.96M249.21,101.06L252.42,94.09M250.17,101.5L252.77,96.01M251.12,101.96L254.33,95.35M247.29,100.2A97.81,97.81 0 0 1 251.12,101.96M248.34,102.96L249.21,101.06M245.04,101.52A95.71,95.71 0 0 1 248.34,102.96M245.28,105.46L246.69,102.23M251.66,103.23L254.23,98.08M252.59,103.7L254.91,99.18M251.66,103.23A96.91,96.91 0 0 1 252.59,103.7M249.98,107.68L252.12,103.46M245.28,105.46A92.18,92.18 0 0 1 249.98,107.68M244.71,112.77L247.64,106.54M249.97,110.9L253.09,104.98M250.81,111.35L253.21,106.93M249.97,110.9A89.32,89.32 0 0 1 250.81,111.35M248.5,114.67L250.39,111.12M253.24,108.95L256.26,103.52M254.11,109.44L256.83,104.66M254.97,109.94L257.87,104.97M255.83,110.45L258.23,106.44M253.24,108.95A92.59,92.59 0 0 1 255.83,110.45M253.37,111.73L254.54,109.69M257.17,110.18L260.16,105.28M258.02,110.71L260.08,107.42M257.17,110.18A93.51,93.51 0 0 1 258.02,110.71M255.86,113.23L257.59,110.44M253.37,111.73A90.23,90.23 0 0 1 255.86,113.23M252.09,116.7L254.62,112.47M238.91,110.29A85.29,85.29 0 0 1 252.09,116.7M242.14,120.4L245.64,113.21M206.39,105.92L205.36,60.23M207.15,101.91L206.71,68.41M203.03,106.07L201.27,78.12M217.71,100.39L219.8,80.5M220.83,100.78L222.77,86.91M227.78,102.03L230.38,90.32M254.91,119.09L256.63,116.48M255.67,119.59L258.63,115.2M256.42,120.1L258.84,116.6M257.17,120.63L261.5,114.49M257.91,121.16L261.69,115.93M254.91,119.09A84.78,84.78 0 0 1 257.91,121.16M255.34,121.67L256.42,120.1M257.52,123.23L262.89,115.95M255.34,121.67A82.87,82.87 0 0 1 257.52,123.23M254.83,124.7L256.44,122.44M259.3,122.35L261.44,119.51M260.02,122.9L263.27,118.7M260.74,123.46L264.21,119.07M261.45,124.03L266.41,117.89M259.3,122.35A84.64,84.64 0 0 1 261.45,124.03M257.59,126.76L260.38,123.18M254.83,124.7A80.1,80.1 0 0 1 257.59,126.76M254.84,127.56L256.22,125.72M263.04,123.54L266.44,119.41M263.75,124.13L268.87,118.05M264.45,124.73L270.22,118.04M265.15,125.34L267.56,122.6M263.04,123.54A86.02,86.02 0 0 1 265.15,125.34M263.13,125.57L264.1,124.43M266.54,125.18L271.28,119.9M267.23,125.81L272.19,120.41M267.92,126.44L273.11,120.91M268.6,127.09L289.13,105.7M266.54,125.18A87.07,87.07 0 0 1 268.6,127.09M265.84,127.99L267.57,126.12M263.13,125.57A84.52,84.52 0 0 1 265.84,127.99M261.24,130.43L264.5,126.76M265.94,131.13L271.91,125.05M266.57,131.76L269.98,128.35M267.19,132.39L270.42,129.23M267.81,133.02L273,128.05M265.94,131.13A82.32,82.32 0 0 1 267.81,133.02M264.96,133.97L266.88,132.07M268.06,134L272.55,129.8M268.66,134.64L272.59,131.05M268.06,134A81.83,81.83 0 0 1 268.66,134.64M266.74,135.82L268.36,134.32M261.24,130.43A79.62,79.62 0 0 1 266.74,135.82M262.78,134.36L264.05,133.06M272.18,132.67L275.83,129.4M272.79,133.36L276.14,130.43M273.39,134.06L290.27,119.58M273.99,134.76L287.69,123.26M274.58,135.47L281,130.2M275.16,136.19L277.88,134M275.74,136.91L280.1,133.48M276.3,137.64L281.03,134.01M272.18,132.67A85.76,85.76 0 0 1 276.3,137.64M272.7,136.43L274.29,135.12M275.21,139.61L281.7,134.74M272.7,136.43A83.71,83.71 0 0 1 275.21,139.61M271.7,139.8L273.98,138M277.44,139.09L282.3,135.52M277.98,139.84L285.14,134.69M278.52,140.59L285,136.04M277.44,139.09A85.8,85.8 0 0 1 278.52,140.59M275.56,141.57L277.98,139.84M278.19,141.93L284.42,137.65M278.7,142.69L285.94,137.84M278.19,141.93A84.77,84.77 0 0 1 278.7,142.69M276.84,143.4L278.45,142.31M275.56,141.57A82.82,82.82 0 0 1 276.84,143.4M274.55,143.64L276.21,142.48M271.7,139.8A80.8,80.8 0 0 1 274.55,143.64M270.74,143.49L273.15,141.7M277.91,144.29L284.99,139.66M278.4,145.04L283.93,141.5M278.88,145.8L281.7,144.04M279.35,146.56L284.96,143.14M277.91,144.29A83.22,83.22 0 0 1 279.35,146.56M275.72,147.27L278.64,145.42M282.36,145.81L289.56,141.52M282.83,146.61L289.22,142.9M282.36,145.81A86.18,86.18 0 0 1 282.83,146.61M280.62,147.37L282.59,146.21M284.22,146.89L288.55,144.43M284.68,147.71L292.22,143.54M285.13,148.53L287.94,147.02M285.57,149.36L290.24,146.91M286,150.19L290.45,147.92M286.43,151.03L289.13,149.69M284.22,146.89A87.26,87.26 0 0 1 286.43,151.03M282.38,150.52L285.35,148.94M280.62,147.37A83.9,83.9 0 0 1 282.38,150.52M277.91,150.95L281.52,148.94M275.72,147.27A79.77,79.77 0 0 1 277.91,150.95M275.15,150.1L276.84,149.1M286.9,151.84L293.75,148.52M287.31,152.69L294.38,149.35M287.7,153.54L294.28,150.53M288.09,154.4L293.8,151.86M286.9,151.84A87.33,87.33 0 0 1 288.09,154.4M285.46,154.07L287.51,153.11M288.36,155.3L295.18,152.36M288.73,156.16L294.99,153.54M289.09,157.03L295.34,154.49M289.44,157.9L294.32,155.97M289.78,158.78L297.08,155.99M288.36,155.3A87.22,87.22 0 0 1 289.78,158.78M287.1,157.84L289.09,157.03M285.46,154.07A85.07,85.07 0 0 1 287.1,157.84M281.81,157.9L286.3,155.94M285.93,161.2L293.74,158.31M289.45,160.89L295.76,158.63M289.76,161.76L296.65,159.38M290.05,162.64L317.67,153.43M290.34,163.52L298.43,160.92M290.62,164.4L298.89,161.84M289.45,160.89A86.18,86.18 0 0 1 290.62,164.4M286.81,163.72L290.05,162.64M285.93,161.2A82.76,82.76 0 0 1 286.81,163.72M283.94,163.31L286.38,162.46M281.81,157.9A80.18,80.18 0 0 1 283.94,163.31M280.71,161.45L282.93,160.58M252.28,123.08L259.78,111.69M253,123.55L261.56,110.84M253.71,124.04L264.33,108.65M254.42,124.53L265.18,109.27M255.12,125.03L263.72,113.11M255.81,125.54L263.98,114.47M256.5,126.05L265.55,114.07M257.19,126.57L266.63,114.34M257.86,127.1L269.32,112.58M258.54,127.64L266.88,117.3M259.2,128.18L270.41,114.59M258.78,125.28L290.18,85.09M257.08,123.98L282.06,90.22M262.1,128.01L285.71,100.84M266.65,129.48L283.32,112.21M290.15,165.51L297.53,163.31M290.4,166.39L296.24,164.72M290.65,167.28L294.47,166.23M290.15,165.51A85.4,85.4 0 0 1 290.65,167.28M288.56,166.92L290.4,166.39M291.25,168.07L296.95,166.57M291.48,168.96L295.33,167.99M291.25,168.07A85.78,85.78 0 0 1 291.48,168.96M289.14,169.09L291.37,168.51M288.56,166.92A83.48,83.48 0 0 1 289.14,169.09M286.84,168.55L288.86,168M287.44,170.88L292.49,169.67M286.84,168.55A81.39,81.39 0 0 1 287.44,170.88M284.31,170.44L287.15,169.71M289.63,171.28L293.33,170.43M289.83,172.15L297.98,170.38M290.01,173.03L296.11,171.77M290.19,173.91L297.61,172.46M289.63,171.28A83.43,83.43 0 0 1 290.19,173.91M288.03,172.99L289.92,172.59M288.45,175.14L295.25,173.89M288.03,172.99A81.5,81.5 0 0 1 288.45,175.14M286.05,174.5L288.25,174.07M290.59,175.66L294.94,174.91M290.74,176.55L299.08,175.2M290.59,175.66A83.52,83.52 0 0 1 290.74,176.55M288.73,176.43L290.67,176.11M290.58,177.48L295.04,176.81M290.71,178.37L296.81,177.51M290.83,179.25L294.4,178.79M290.94,180.14L307.01,178.24M290.58,177.48A83.21,83.21 0 0 1 290.94,180.14M289.12,179.03L290.77,178.81M288.73,176.43A81.55,81.55 0 0 1 289.12,179.03M287.46,177.95L288.94,177.73M291.96,180.93L306.08,179.42M295.6,181.49L299.75,181.09M295.69,182.43L301.74,181.91M295.76,183.37L302.36,182.88M295.83,184.31L310.26,183.39M295.6,181.49A87.71,87.71 0 0 1 295.83,184.31M292.17,183.19L295.73,182.9M291.96,180.93A84.14,84.14 0 0 1 292.17,183.19M288.8,182.36L292.07,182.06M293.51,185.38L308.61,184.58M293.55,186.3L302.03,185.94M293.51,185.38A85.33,85.33 0 0 1 293.55,186.3M291.92,185.91L293.53,185.84M297.87,187.08L301.98,186.95M297.9,188.04L302.12,187.95M297.91,189.01L304.2,188.94M297.92,189.97L301.53,189.97M297.87,187.08A89.62,89.62 0 0 1 297.92,189.97M295.55,188.56L297.91,188.52M297.66,190.93L304.49,191.01M297.64,191.89L301.62,191.98M297.66,190.93A89.36,89.36 0 0 1 297.64,191.89M295.55,191.37L297.65,191.41M295.55,188.56A87.26,87.26 0 0 1 295.55,191.37M292.01,189.96L295.56,189.97M291.92,185.91A83.71,83.71 0 0 1 292.01,189.96M290.07,187.98L291.99,187.94M299.64,192.92L307.94,193.19M299.61,193.9L302.71,194.04M299.56,194.88L307.36,195.31M299.64,192.92A91.39,91.39 0 0 1 299.56,194.88M297.12,193.79L299.61,193.9M298.79,195.82L304.21,196.17M298.72,196.79L304.31,197.22M298.64,197.76L302.31,198.08M298.55,198.73L304.99,199.36M298.79,195.82A90.68,90.68 0 0 1 298.55,198.73M296.91,197.13L298.68,197.28M297.12,193.79A88.9,88.9 0 0 1 296.91,197.13M293.15,195.22L297.03,195.46M296.23,199.46L307.17,200.65M296.13,200.41L303.91,201.34M296.01,201.35L302.39,202.18M296.23,199.46A88.45,88.45 0 0 1 296.01,201.35M292.72,200L296.13,200.41M293.15,195.22A85.02,85.02 0 0 1 292.72,200M290.31,197.37L292.97,197.61M291.85,201.72L297.92,202.58M291.72,202.62L295.33,203.17M291.58,203.52L299.3,204.78M291.42,204.41L295.55,205.13M291.85,201.72A84.38,84.38 0 0 1 291.42,204.41M289.96,202.8L291.65,203.07M291.89,205.42L295.15,206.03M291.72,206.32L296.95,207.35M291.89,205.42A85.02,85.02 0 0 1 291.72,206.32M289.64,205.46L291.81,205.87M292.59,207.43L299.17,208.8M292.39,208.34L296.47,209.23M292.19,209.24L308.34,212.97M291.98,210.14L295.81,211.07M292.59,207.43A86.09,86.09 0 0 1 291.98,210.14M289.23,208.1L292.29,208.79M291.62,211.01L305.13,214.43M291.38,211.9L306.72,215.96M291.14,212.79L294.71,213.78M290.89,213.68L296.95,215.43M291.62,211.01A85.95,85.95 0 0 1 290.89,213.68M288.55,211.61L291.26,212.35M292.31,215.07L298.97,217.07M292.04,215.98L305.72,220.24M292.31,215.07A87.7,87.7 0 0 1 292.04,215.98M289.72,214.78L292.17,215.53M291.9,216.92L296.1,218.28M291.61,217.82L298.89,220.26M291.3,218.72L295.15,220.05M290.99,219.61L294.41,220.84M291.9,216.92A87.86,87.86 0 0 1 290.99,219.61M288.88,217.39L291.45,218.27M289.72,214.78A85.14,85.14 0 0 1 288.88,217.39M287.63,215.54L289.31,216.09M292.21,221.07L296.77,222.77M293.39,222.56L300.23,225.18M293.04,223.47L300.02,226.24M292.67,224.38L299.07,226.99M292.3,225.28L295.2,226.51M291.91,226.18L298.04,228.85M291.52,227.08L294.86,228.57M291.11,227.97L298.67,231.45M290.7,228.86L297.81,232.23M293.39,222.56A91.14,91.14 0 0 1 290.7,228.86M290.61,225.09L292.1,225.73M292.21,221.07A89.52,89.52 0 0 1 290.61,225.09M288.86,222.06L291.44,223.09M286.31,227.82L295.79,232.43M288.86,222.06A86.74,86.74 0 0 1 286.31,227.82M284.89,223.75L287.64,224.97M287.54,229.48L290.19,230.8M287.11,230.33L289.34,231.47M286.67,231.17L291.29,233.61M287.54,229.48A88.58,88.58 0 0 1 286.67,231.17M284.63,229.05L287.11,230.33M285.11,231.41L288.43,233.2M284.66,232.24L286.52,233.27M284.2,233.05L286.43,234.32M283.73,233.87L287.51,236.07M283.25,234.68L285.48,236M285.11,231.41A87.31,87.31 0 0 1 283.25,234.68M282.87,232.3L284.2,233.05M284.63,229.05A85.78,85.78 0 0 1 282.87,232.3M282.33,229.91L283.77,230.69M281.25,234.55L285.52,237.16M280.76,235.33L283.8,237.24M280.27,236.11L283.98,238.49M281.25,234.55A85.53,85.53 0 0 1 280.27,236.11M279.81,234.74L280.76,235.33M279.01,236.38L279.75,236.87M278.5,237.14L279.03,237.49M277.99,237.89L278.88,238.5M277.47,238.63L277.87,238.92M276.94,239.38L277.99,240.13M276.41,240.11L277.08,240.61M278.16,242.58L281.84,245.35M277.59,243.32L281.45,246.3M278.16,242.58A87.49,87.49 0 0 1 277.59,243.32M276.8,242.13L277.88,242.95M277.74,244.64L282.01,248.01M277.15,245.38L280.51,248.09M276.55,246.12L278.09,247.39M275.94,246.85L277.87,248.47M275.32,247.57L277.98,249.87M274.7,248.29L278.55,251.68M277.74,244.64A88.42,88.42 0 0 1 274.7,248.29M274.49,245.03L276.24,246.49M276.8,242.13A86.14,86.14 0 0 1 274.49,245.03M274.72,242.84L275.66,243.59M272.51,247.6L275.67,250.44M273.14,249.45L275.2,251.33M272.5,250.14L275.46,252.92M271.85,250.83L274.87,253.72M271.19,251.51L272.96,253.24M273.14,249.45A88.04,88.04 0 0 1 271.19,251.51M270.93,249.31L272.18,250.49M272.51,247.6A86.32,86.32 0 0 1 270.93,249.31M270.91,247.7L271.72,248.46M270.17,251.83L275.35,257.01M270.76,253.78L272.81,255.87M270.07,254.45L273.02,257.52M269.37,255.11L271.58,257.46M268.67,255.76L271.07,258.38M270.76,253.78A89.34,89.34 0 0 1 268.67,255.76M268.48,253.47L269.72,254.78M270.17,251.83A87.54,87.54 0 0 1 268.48,253.47M267.85,251.13L269.33,252.65M267.74,256.16L269.88,258.55M267.89,257.79L271.32,261.69M267.16,258.43L269.86,261.57M266.42,259.06L268.15,261.12M265.67,259.68L268.1,262.62M264.92,260.29L267.59,263.62M264.16,260.9L266.72,264.15M263.39,261.49L264.75,263.25M262.62,262.08L265.91,266.46M261.84,262.66L264.02,265.62M261.05,263.23L262.99,265.92M260.26,263.8L263.25,268.04M267.89,257.79A90.34,90.34 0 0 1 260.26,263.8M263.34,259.86L264.16,260.9M267.74,256.16A89.02,89.02 0 0 1 263.34,259.86M263.48,255.55L265.57,258.05M259.96,265.06L261.17,266.82M259.14,265.62L261.72,269.45M258.33,266.16L261.05,270.3M257.5,266.69L259.09,269.16M256.68,267.22L258.55,270.21M259.96,265.06A91.2,91.2 0 0 1 256.68,267.22M257.52,264.93L258.33,266.16M256.14,268.23L257.67,270.73M255.3,268.74L258.05,273.36M254.45,269.24L257,273.63M253.59,269.73L255.03,272.26M252.73,270.21L254.96,274.24M251.87,270.69L254.05,274.75M250.99,271.15L253.36,275.65M256.14,268.23A91.78,91.78 0 0 1 250.99,271.15M252.58,267.95L253.59,269.73M257.52,264.93A89.74,89.74 0 0 1 252.58,267.95M253.26,263.5L255.08,266.48M250.06,271.5L251.82,274.93M249.18,271.94L250.12,273.82M248.3,272.38L249.53,274.92M247.41,272.8L249.44,277.11M250.06,271.5A91.67,91.67 0 0 1 247.41,272.8M247.88,270.42L248.74,272.16M245.71,271.45L248.27,277.04M247.88,270.42A89.72,89.72 0 0 1 245.71,271.45M245.46,268.12L246.8,270.94M244.13,270.28L246.26,275.08M243.26,270.66L244.25,272.95M244.13,270.28A88,88 0 0 1 243.26,270.66M243.18,269.31L243.69,270.47M242.94,272.34L243.77,274.32M242.05,272.71L242.87,274.71M242.94,272.34A89.43,89.43 0 0 1 242.05,272.71M241.5,270.12L242.5,272.53M242.54,276.57L243.36,278.64M241.61,276.93L243.47,281.79M240.67,277.29L241.49,279.51M239.73,277.63L240.53,279.88M238.78,277.96L240.41,282.66M242.54,276.57A93.19,93.19 0 0 1 238.78,277.96M239.7,274.68L240.67,277.29M237.67,277.8L239.22,282.43M236.72,278.11L237.65,280.97M235.77,278.41L236.47,280.65M237.67,277.8A92.67,92.67 0 0 1 235.77,278.41M236.03,275.95L236.72,278.11M239.7,274.68A90.41,90.41 0 0 1 236.03,275.95M236.76,272.13L237.87,275.33M234.1,276.3L234.93,279.07M233.17,276.57L234.41,280.9M232.24,276.83L233.07,279.84M234.1,276.3A90.17,90.17 0 0 1 232.24,276.83M232.88,275.57L233.17,276.57M231.55,278.02L232.82,282.83M230.6,278.26L231.12,280.31M231.55,278.02A91.13,91.13 0 0 1 230.6,278.26M230.57,276.2L231.07,278.14M232.88,275.57A89.13,89.13 0 0 1 230.57,276.2M231.25,274.11L231.73,275.89M229.67,278.61L230.58,282.38M228.72,278.83L229.84,283.72M227.76,279.04L228.8,283.8M226.8,279.25L227.21,281.21M225.84,279.44L226.74,284.02M224.88,279.63L225.24,281.61M223.91,279.8L224.55,283.46M222.94,279.96L223.37,282.57M229.67,278.61A91.24,91.24 0 0 1 222.94,279.96M225.84,276.98L226.32,279.35M221.87,279.41L222.6,284.26M220.9,279.55L221.64,284.8M221.87,279.41A90.53,90.53 0 0 1 220.9,279.55M221.14,277.8L221.38,279.48M225.84,276.98A88.83,88.83 0 0 1 221.14,277.8M223.28,276.2L223.5,277.43M219.6,277.06L219.66,277.52M218.66,277.18L218.71,277.56M217.72,277.29L217.85,278.51M216.78,277.38L216.88,278.42M215.84,277.47L215.9,278.21M214.91,277.71L214.95,278.3M213.96,277.77L214.01,278.41M213.02,277.83L213.05,278.46M212.08,278L212.12,278.91M211.13,278.03L211.15,278.64M210.18,278.06L210.19,278.59M209.24,278.24L209.24,278.99M208.29,278.24L208.29,278.86M207.34,278.24L207.32,279.41M206.39,278.22L206.38,278.68M205.44,278.2L205.41,278.9M204.49,278.16L204.45,278.94M203.54,278.11L203.48,279.14M202.59,278.06L202.52,279.08M201.64,277.99L201.57,278.9M200.7,277.92L200.64,278.5M199.74,277.94L199.63,279.09M198.79,277.84L198.72,278.53M197.85,277.73L197.75,278.54M196.9,277.62L196.83,278.17M195.96,277.49L195.86,278.19M195.02,277.35L194.87,278.3M194.08,277.2L194,277.68M193.14,277.05L193.06,277.49M192.19,276.97L191.97,278.13M191.25,276.8L191.16,277.25M190.32,276.61L190.23,277.01M189.39,276.41L189.27,276.93M188.46,276.2L188.24,277.15M187.53,275.98L187.27,277.08M186.61,275.75L186.51,276.11M185.68,275.52L185.59,275.88M184.74,275.34L184.51,276.18M183.82,275.09L183.66,275.65M182.91,274.82L182.78,275.26M182,274.54L181.63,275.74M181.09,274.25L180.94,274.71M180.17,274L179.88,274.88M179.27,273.69L179.13,274.09M178.37,273.38L178.24,273.72M176.47,275.75L175.25,279.05M175.55,275.4L174.03,279.35M174.63,275.04L173.63,277.58M173.72,274.68L172.92,276.64M176.47,275.75A91.56,91.56 0 0 1 173.72,274.68M176.12,272.58L175.09,275.22M172.25,275.62L171.29,277.92M171.33,275.23L169.98,278.36M170.42,274.82L168.31,279.55M169.51,274.41L167.83,278.05M168.6,273.99L167.12,277.13M172.25,275.62A92.99,92.99 0 0 1 168.6,273.99M171.2,273.06L170.42,274.82M167.47,274.02L165.25,278.59M166.57,273.58L164.58,277.56M165.67,273.13L163.68,277.02M164.78,272.66L163.11,275.84M163.89,272.19L161.9,275.88M167.47,274.02A93.51,93.51 0 0 1 163.89,272.19M166.79,270.95L165.67,273.13M171.2,273.06A91.06,91.06 0 0 1 166.79,270.95M169.95,270.01L168.98,272.04M163.53,270.77L161.84,273.82M162.66,270.28L160.6,273.91M161.8,269.79L159.6,273.56M163.53,270.77A92.44,92.44 0 0 1 161.8,269.79M163.4,268.98L162.66,270.28M161.01,269.17L158.81,272.85M160.16,268.65L158.41,271.52M159.32,268.13L156.45,272.72M158.48,267.6L156.37,270.89M157.65,267.06L155.05,271.02M156.82,266.51L154.69,269.68M156,265.95L153.73,269.26M161.01,269.17A92.3,92.3 0 0 1 156,265.95M159.22,266.45L158.48,267.6M163.4,268.98A90.94,90.94 0 0 1 159.22,266.45M162.33,266.03L161.29,267.74M154.41,266.48L152.44,269.29M153.59,265.9L151.99,268.12M152.78,265.31L150.78,268.02M151.97,264.7L150.51,266.64M151.17,264.09L149.19,266.66M150.37,263.48L148.54,265.8M154.41,266.48A93.64,93.64 0 0 1 150.37,263.48M153.59,263.37L152.37,265.01M150.22,262.06L148.05,264.76M149.45,261.43L146.63,264.86M148.69,260.79L146.8,263.03M147.93,260.15L144.93,263.63M147.17,259.49L144.64,262.38M146.43,258.83L143.22,262.41M150.22,262.06A92.62,92.62 0 0 1 146.43,258.83M148.97,259.69L148.31,260.47M153.59,263.37A91.6,91.6 0 0 1 148.97,259.69M152.87,259.53L151.25,261.56M145.9,257.94L141.27,262.98M143.72,258.81L141.81,260.85M142.98,258.12L140.74,260.45M142.25,257.41L138.85,260.89M141.53,256.69L138.95,259.27M143.72,258.81A94.45,94.45 0 0 1 141.53,256.69M144.09,256.24L142.61,257.76M145.9,257.94A92.32,92.32 0 0 1 144.09,256.24M147.27,254.68L144.99,257.09M143.15,253.68L139.76,257M142.47,252.98L139.24,256.07M141.79,252.27L137.83,255.99M141.13,251.55L138.41,254.04M143.15,253.68A91.17,91.17 0 0 1 141.13,251.55M143.71,251.13L142.13,252.62M138.67,252.44L136.06,254.78M138,251.69L134.76,254.53M137.34,250.93L133.36,254.35M138.67,252.44A93.6,93.6 0 0 1 137.34,250.93M139.47,250.39L138,251.69M137.33,249.62L133.58,252.77M136.69,248.85L133.03,251.87M136.06,248.08L132.24,251.16M137.33,249.62A92.75,92.75 0 0 1 136.06,248.08M137.55,248.14L136.69,248.85M139.47,250.39A91.64,91.64 0 0 1 137.55,248.14M140.51,247.57L138.5,249.28M137.19,245.92L135.42,247.31M136.59,245.15L133.32,247.67M137.19,245.92A90.52,90.52 0 0 1 136.59,245.15M138.09,244.6L136.89,245.54M134.39,245.59L131.66,247.65M133.79,244.8L130.46,247.25M134.39,245.59A92.55,92.55 0 0 1 133.79,244.8M135.22,244.35L134.09,245.2M131.96,244.89L130.08,246.24M131.37,244.07L128.17,246.32M130.79,243.24L128.29,244.96M131.96,244.89A94.08,94.08 0 0 1 130.79,243.24M133.79,242.36L131.37,244.07M135.22,244.35A91.13,91.13 0 0 1 133.79,242.36M136.22,242.11L134.5,243.36M130.13,242.46L128.13,243.81M129.57,241.62L126.67,243.52M129.02,240.77L125.94,242.74M128.48,239.91L125.34,241.87M130.13,242.46A94.2,94.2 0 0 1 128.48,239.91M131.26,239.92L129.29,241.19M129.94,237.83L125.45,240.58M131.26,239.92A91.85,91.85 0 0 1 129.94,237.83M133.01,237.36L130.59,238.88M130.33,236.44L126.53,238.72M129.84,235.6L127.21,237.13M130.33,236.44A90.8,90.8 0 0 1 129.84,235.6M131.64,235.11L130.09,236.02M126.78,236.22L123.94,237.83M126.28,235.34L124.47,236.34M126.78,236.22A93.76,93.76 0 0 1 126.28,235.34M127.72,235.11L126.53,235.78M124.82,234.98L119.98,237.59M124.34,234.08L122.28,235.17M123.87,233.18L119.73,235.3M123.41,232.27L120.95,233.49M122.96,231.35L120.76,232.42M122.52,230.43L118.62,232.27M122.09,229.51L117.79,231.48M121.67,228.58L116.92,230.69M124.82,234.98A94.87,94.87 0 0 1 121.67,228.58M125.4,230.72L123.18,231.81M127.72,235.11A92.4,92.4 0 0 1 125.4,230.72M129.54,231.35L126.53,232.93M123.01,226.88L120.03,228.17M122.62,225.96L119.7,227.19M122.23,225.04L117.55,226.95M121.86,224.11L119.34,225.11M121.5,223.18L119.25,224.04M121.15,222.24L116.93,223.81M120.8,221.31L115.72,223.13M123.01,226.88A92.96,92.96 0 0 1 120.8,221.31M123.33,223.53L121.86,224.11M121.96,219.85L115.92,221.94M123.33,223.53A91.39,91.39 0 0 1 121.96,219.85M124.86,220.87L122.62,221.7M123.91,218.16L123.66,218.24M123.61,217.25L123.1,217.41M123.32,216.34L123.12,216.4M123.04,215.42L122.65,215.54M122.77,214.5L121.6,214.84M122.51,213.58L121.67,213.81M122.26,212.66L121.37,212.89M122.02,211.73L120.98,211.99M121.79,210.8L120.62,211.08M121.57,209.87L120.72,210.07M121.36,208.94L120.42,209.14M121.16,208L120.32,208.17M120.97,207.06L120.04,207.24M120.79,206.12L120.36,206.2M120.62,205.18L120.24,205.25M120.46,204.24L119.54,204.39M120.31,203.29L119.17,203.46M120.17,202.34L119.52,202.44M120.05,201.39L119.74,201.43M119.93,200.45L118.71,200.59M119.82,199.49L119.61,199.52M119.72,198.54L118.57,198.65M119.63,197.59L119.28,197.62M119.56,196.63L119.02,196.68M119.49,195.68L118.51,195.74M119.43,194.72L118.28,194.79M119.38,193.77L118.83,193.79M119.35,192.81L118.67,192.83M119.32,191.86L118.42,191.88M119.31,190.9L118.08,190.91M119.3,189.94L118.53,189.94M119.3,188.98L118.2,188.97M119.32,188.03L118.11,188M119.35,187.07L118.65,187.05M119.38,186.11L119.17,186.1M119.43,185.16L118.8,185.12M119.48,184.2L118.63,184.15M119.55,183.25L118.32,183.16M119.63,182.29L118.35,182.18M119.71,181.34L118.99,181.27M119.81,180.39L119.16,180.32M119.92,179.44L119.61,179.4M118.67,178.31L114.81,177.81M115.85,176.93L110.9,176.24M116,175.94L113.6,175.58M116.15,174.95L113.23,174.47M116.32,173.96L112.79,173.35M116.5,172.97L111.35,172.02M116.68,171.98L112.15,171.1M116.88,171L114.43,170.49M117.09,170.02L114.13,169.37M117.31,169.04L113.66,168.2M117.54,168.06L112.56,166.86M117.78,167.08L115.66,166.55M115.85,176.93A93.35,93.35 0 0 1 117.78,167.08M119.6,172.55L116.68,171.98M118.67,178.31A90.38,90.38 0 0 1 119.6,172.55M120.45,175.65L119.09,175.42M119.7,166.55L115,165.31M119.95,165.6L116.98,164.78M119.7,166.55A91.63,91.63 0 0 1 119.95,165.6M122.36,166.76L119.82,166.08M122.75,165.38L121.67,165.07M123.01,164.46L122.18,164.21M123.29,163.54L122.77,163.38M123.58,162.63L122.4,162.25M123.88,161.72L123.52,161.6M124.19,160.81L122.99,160.4M124.5,159.91L124.2,159.8M285.12,171.46L342,157.8M294.06,183.45L322.98,181.28M296,197.11L311.95,198.42M119.29,176.6L103.46,174.23" fill="none" stroke="#0d0d0d" stroke-width="0.7" stroke-linecap="butt"/><path d="M208.3,189.9L193.35,175.15M190.08,179.46A21,21 0 0 1 193.35,175.15M190.11,179.4L172.79,169.4M193.58,174.92L178.86,159.94M174.19,165.39A42,42 0 0 1 185.18,154.84M174.19,165.39L145.77,144.97M185.18,154.84L183.53,152.33M179.68,155.18A45,45 0 0 1 186.28,150.66M179.98,154.93L157.95,127.73M186.41,150.58L178.15,135.73M170.47,140.78A62,62 0 0 1 187.09,131.64M170.73,140.58L162.85,130.24M165.28,128.46A75,75 0 0 1 172.17,124.18M187.09,131.64L182.14,118.01M177.61,126.98A70,70 0 0 1 184.36,124.12M177.61,126.98L173.23,118M140.7,146.9A80.12,80.12 0 0 1 142.01,144.92M142.01,144.92L141.69,144.7M141.69,144.7A80.5,80.5 0 0 1 143.72,141.83M143.72,141.83L143.17,141.42M143.17,141.42A81.19,81.19 0 0 1 146.5,137.24M146.5,137.24L145.86,136.69M145.86,136.69A82.04,82.04 0 0 1 147.87,134.42M147.87,134.42L147.36,133.95M147.36,133.95A82.74,82.74 0 0 1 149.58,131.61M149.58,131.61L149.25,131.29M149.25,131.29A83.2,83.2 0 0 1 151.18,129.41M151.18,129.41L150.86,129.08M150.86,129.08A83.66,83.66 0 0 1 153.02,127.11M153.02,127.11L152.66,126.7M152.66,126.7A84.2,84.2 0 0 1 154.56,125.09M154.56,125.09L154.31,124.79M143.33,148.57A77,77 0 0 1 159.15,130.63M156.62,123.68A84,84 0 0 1 158.42,122.32M159.08,126.83A80,80 0 0 1 160.79,125.53M162.49,121.89A82,82 0 0 1 165.27,120.1M165.27,120.1A82,82 0 0 1 168.12,118.42M168.12,118.42A82,82 0 0 1 169.86,117.47M171.13,114.57A84,84 0 0 1 173.17,113.6M173.17,113.6A84,84 0 0 1 175.03,112.77M172.9,118.16A80,80 0 0 1 176.61,116.44M284.31,170.44A78.46,78.46 0 0 1 285.26,174.66M285.26,174.66L286.05,174.5M286.05,174.5A79.26,79.26 0 0 1 286.67,178.07M286.67,178.07L287.46,177.95M287.46,177.95A80.05,80.05 0 0 1 288,182.44M288,182.44L288.8,182.36M288.8,182.36A80.85,80.85 0 0 1 289.13,188.01M289.13,188.01L290.07,187.98M290.07,187.98A81.79,81.79 0 0 1 289.76,197.32M289.76,197.32L290.31,197.37M290.31,197.37A82.35,82.35 0 0 1 289.64,202.75M289.64,202.75L289.96,202.8M289.96,202.8A82.67,82.67 0 0 1 289.5,205.43M289.5,205.43L289.64,205.46M289.64,205.46A82.81,82.81 0 0 1 289.09,208.07M289.09,208.07L289.23,208.1M289.23,208.1A82.95,82.95 0 0 1 288.37,211.57M288.37,211.57L288.55,211.61M288.55,211.61A83.14,83.14 0 0 1 287.41,215.47M287.41,215.47L287.63,215.54M287.63,215.54A83.37,83.37 0 0 1 284.55,223.6M284.55,223.6L284.89,223.75M284.89,223.75A83.74,83.74 0 0 1 281.97,229.71M281.97,229.71L282.33,229.91M282.33,229.91A84.15,84.15 0 0 1 279.6,234.6M279.6,234.6L279.81,234.74M279.81,234.74A84.41,84.41 0 0 1 277.56,238.14M277.56,238.14L277.73,238.26M277.73,238.26A84.61,84.61 0 0 1 274.47,242.64M274.47,242.64L274.72,242.84M274.72,242.84A84.94,84.94 0 0 1 270.71,247.52M270.71,247.52L270.91,247.7M270.91,247.7A85.21,85.21 0 0 1 267.71,250.98M267.71,250.98L267.85,251.13M267.85,251.13A85.41,85.41 0 0 1 263.25,255.29M263.25,255.29L263.48,255.55M263.48,255.55A85.76,85.76 0 0 1 253,263.09M253,263.09L253.26,263.5M253.26,263.5A86.25,86.25 0 0 1 245.31,267.8M245.31,267.8L245.46,268.12M245.46,268.12A86.59,86.59 0 0 1 243.13,269.18M243.13,269.18L243.18,269.31M243.18,269.31A86.73,86.73 0 0 1 241.47,270.04M241.47,270.04L241.5,270.12M241.5,270.12A86.82,86.82 0 0 1 236.7,271.94M236.7,271.94L236.76,272.13M236.76,272.13A87.02,87.02 0 0 1 231.18,273.86M231.18,273.86L231.25,274.11M231.25,274.11A87.28,87.28 0 0 1 223.23,275.9M223.23,275.9L223.28,276.2M223.28,276.2A87.59,87.59 0 0 1 217.69,276.98M217.69,276.98L217.72,277.29M217.72,277.29A87.89,87.89 0 0 1 213.95,277.61M213.95,277.61L213.96,277.77M213.96,277.77A88.06,88.06 0 0 1 211.13,277.91M211.13,277.91L211.13,278.03M211.13,278.03A88.18,88.18 0 0 1 204.97,278.02M204.97,278.02L204.96,278.18M204.96,278.18A88.34,88.34 0 0 1 196.45,277.44M196.45,277.44L196.43,277.55M196.43,277.55A88.45,88.45 0 0 1 188.94,276.21M188.94,276.21L188.92,276.31M188.92,276.31A88.55,88.55 0 0 1 182.93,274.74M182.93,274.74L182.91,274.82M182.91,274.82A88.63,88.63 0 0 1 179.28,273.65M179.27,273.69A88.68,88.68 0 0 1 176.13,272.54M176.12,272.58A88.73,88.73 0 0 1 169.99,269.93M169.99,269.93L169.95,270.01M169.95,270.01A88.81,88.81 0 0 1 162.39,265.93M162.39,265.93L162.33,266.03M162.33,266.03A88.93,88.93 0 0 1 152.91,259.48M152.91,259.48L152.87,259.53M152.87,259.53A89,89 0 0 1 147.27,254.68M147.27,254.68A89,89 0 0 1 143.71,251.13M143.71,251.13A89,89 0 0 1 140.51,247.57M140.51,247.57A89,89 0 0 1 138.09,244.6M138.09,244.6A89,89 0 0 1 136.22,242.11M136.22,242.11A89,89 0 0 1 133.01,237.36M133.01,237.36A89,89 0 0 1 131.64,235.11M131.64,235.11A89,89 0 0 1 129.54,231.35M129.54,231.35A89,89 0 0 1 124.86,220.87M124.86,220.87A89,89 0 0 1 122.64,214.04M122.64,214.04A89,89 0 0 1 121.06,207.53M121.06,207.53A89,89 0 0 1 119.87,199.97M119.87,199.97A89,89 0 0 1 119.33,192.33M119.33,192.33A89,89 0 0 1 119.3,189.46M119.3,189.46A89,89 0 0 1 119.51,183.72M119.51,183.72A89,89 0 0 1 120.45,175.65M120.45,175.65A89,89 0 0 1 122.36,166.76M122.36,166.76A89,89 0 0 1 123.15,164M123.15,164A89,89 0 0 1 124.19,160.81M282.77,165.7A78.3,78.3 0 0 1 286.17,181.72M286.41,170.43A80.5,80.5 0 0 1 288.49,196.92M184.51,272.86A86.3,86.3 0 0 1 124.56,169.02M284.27,170.96L286.41,170.43" fill="none" stroke="#0a0a0a" stroke-width="0.8" stroke-linecap="butt"/><path d="M248.06,123.73A77.2,77.2 0 0 1 281.72,166.04" fill="none" stroke="#000" stroke-width="1.0" stroke-linecap="butt"/><path d="M182.03,117.73A76.8,76.8 0 0 1 247.85,124.07" fill="none" stroke="#000" stroke-width="1.5" stroke-linecap="butt"/><path d="M325.06,160.05l0.9,3.2M326.46,159.75l0.9,3.2" stroke="#555" stroke-width="0.5" fill="none"/>
<text x="99.5" y="131" font-size="10" text-anchor="middle" font-weight="bold" fill="#111" >L1</text>
<text x="114" y="112" font-size="10" text-anchor="middle" font-weight="bold" fill="#111" >L2</text>
<text x="135" y="95.5" font-size="10" text-anchor="middle" font-weight="bold" fill="#111" >L4</text>
<text x="138.5" y="81" font-size="10" text-anchor="middle" font-weight="bold" fill="#111" >L5</text>
<text x="152.5" y="74" font-size="10" text-anchor="middle" font-weight="bold" fill="#111" >L6</text>
<text x="215" y="62.3" font-size="10" text-anchor="middle" font-weight="bold" fill="#111" >L7</text>
<text x="314.6" y="118.5" font-size="10" text-anchor="middle" font-weight="bold" fill="#111" >L9</text>
<text x="209" y="324.8" font-size="10" text-anchor="middle" font-weight="bold" fill="#111" >L10</text>
<text transform="translate(44.3,113.2) rotate(27)" font-size="10.4" text-anchor="middle" fill="#111" dy="3.1">SOU</text>
<text transform="translate(65.4,126.6) rotate(27)" font-size="10.4" text-anchor="middle" fill="#111" dy="3.1">GEO</text>
<text transform="translate(83.7,136.6) rotate(27)" font-size="10.4" text-anchor="middle" fill="#111" dy="3.1">LIN</text>
<line x1="190" y1="239.05" x2="218" y2="239.05" stroke="#111" stroke-width="1.6"/>
<text x="203.7" y="236.7" font-size="8.2" text-anchor="middle" font-weight="bold" fill="#111" >0.01</text>
<text x="35.6" y="34.8" font-size="28" text-anchor="start" font-weight="bold" fill="#000" >a</text></g>
<g id="panel_b"><line x1="431.6" y1="117.78" x2="626" y2="117.78" stroke="#d4d4d4" stroke-width="0.8"/>
<line x1="431.6" y1="92.06" x2="626" y2="92.06" stroke="#d4d4d4" stroke-width="0.8"/>
<line x1="431.6" y1="66.34" x2="626" y2="66.34" stroke="#d4d4d4" stroke-width="0.8"/>
<line x1="431.6" y1="40.62" x2="626" y2="40.62" stroke="#d4d4d4" stroke-width="0.8"/>
<line x1="431.6" y1="14.9" x2="626" y2="14.9" stroke="#d4d4d4" stroke-width="0.8"/>
<rect x="434.4" y="138.87" width="32.3" height="4.78" fill="#0a0a0a"/>
<rect x="434.4" y="138.36" width="32.3" height="0.66" fill="#56b03f"/>
<rect x="434.4" y="135.27" width="32.3" height="3.24" fill="#e2a21a"/>
<rect x="434.4" y="134.76" width="32.3" height="0.66" fill="#dc5a1e"/>
<text x="450.25" y="131.76" font-size="9.6" text-anchor="middle" font-weight="normal" fill="#111" >17</text>
<rect x="473.35" y="116.75" width="32.3" height="26.9" fill="#0a0a0a"/>
<rect x="473.35" y="114.69" width="32.3" height="2.21" fill="#6e6bc0"/>
<rect x="473.35" y="112.64" width="32.3" height="2.21" fill="#e2a21a"/>
<rect x="473.35" y="112.12" width="32.3" height="0.66" fill="#dc5a1e"/>
<text x="489.2" y="109.12" font-size="9.6" text-anchor="middle" font-weight="normal" fill="#111" >61</text>
<rect x="512.3" y="106.21" width="32.3" height="37.44" fill="#0a0a0a"/>
<rect x="512.3" y="95.66" width="32.3" height="10.7" fill="#56b03f"/>
<rect x="512.3" y="87.69" width="32.3" height="8.12" fill="#6e6bc0"/>
<rect x="512.3" y="77.66" width="32.3" height="10.18" fill="#e2a21a"/>
<rect x="512.3" y="63.77" width="32.3" height="14.04" fill="#dc5a1e"/>
<text x="528.15" y="60.77" font-size="9.6" text-anchor="middle" font-weight="normal" fill="#111" >155</text>
<rect x="551.25" y="124.72" width="32.3" height="18.93" fill="#0a0a0a"/>
<rect x="551.25" y="120.35" width="32.3" height="4.52" fill="#56b03f"/>
<rect x="551.25" y="101.83" width="32.3" height="18.67" fill="#6e6bc0"/>
<rect x="551.25" y="92.57" width="32.3" height="9.41" fill="#e2a21a"/>
<rect x="551.25" y="86.14" width="32.3" height="6.58" fill="#dc5a1e"/>
<text x="567.1" y="83.14" font-size="9.6" text-anchor="middle" font-weight="normal" fill="#111" >112</text>
<rect x="590.2" y="127.81" width="32.3" height="15.84" fill="#0a0a0a"/>
<rect x="590.2" y="115.21" width="32.3" height="12.75" fill="#56b03f"/>
<rect x="590.2" y="105.43" width="32.3" height="9.92" fill="#6e6bc0"/>
<rect x="590.2" y="64.03" width="32.3" height="41.56" fill="#e2a21a"/>
<rect x="590.2" y="35.48" width="32.3" height="28.7" fill="#dc5a1e"/>
<rect x="590.2" y="28.79" width="32.3" height="6.84" fill="#c9c9c9"/>
<text x="606.05" y="25.79" font-size="9.6" text-anchor="middle" font-weight="normal" fill="#111" >223</text>
<line x1="431.6" y1="14" x2="431.6" y2="144.3" stroke="#000" stroke-width="1.7"/>
<line x1="430.8" y1="143.5" x2="626" y2="143.5" stroke="#000" stroke-width="1.6"/>
<line x1="428.6" y1="143.5" x2="431.6" y2="143.5" stroke="#000" stroke-width="1.2"/>
<text x="426.6" y="144.9" font-size="8.3" text-anchor="end" font-weight="normal" fill="#111" >0</text>
<line x1="428.6" y1="117.78" x2="431.6" y2="117.78" stroke="#000" stroke-width="1.2"/>
<text x="426.6" y="120.78" font-size="8.3" text-anchor="end" font-weight="normal" fill="#111" >50</text>
<line x1="428.6" y1="92.06" x2="431.6" y2="92.06" stroke="#000" stroke-width="1.2"/>
<text x="426.6" y="95.06" font-size="8.3" text-anchor="end" font-weight="normal" fill="#111" >100</text>
<line x1="428.6" y1="66.34" x2="431.6" y2="66.34" stroke="#000" stroke-width="1.2"/>
<text x="426.6" y="69.34" font-size="8.3" text-anchor="end" font-weight="normal" fill="#111" >150</text>
<line x1="428.6" y1="40.62" x2="431.6" y2="40.62" stroke="#000" stroke-width="1.2"/>
<text x="426.6" y="43.62" font-size="8.3" text-anchor="end" font-weight="normal" fill="#111" >200</text>
<line x1="428.6" y1="14.9" x2="431.6" y2="14.9" stroke="#000" stroke-width="1.2"/>
<text x="426.6" y="17.9" font-size="8.3" text-anchor="end" font-weight="normal" fill="#111" >250</text>
<line x1="431.6" y1="141.3" x2="431.6" y2="145.7" stroke="#000" stroke-width="1.2"/>
<line x1="470.35" y1="141.3" x2="470.35" y2="145.7" stroke="#000" stroke-width="1.2"/>
<line x1="509.1" y1="141.3" x2="509.1" y2="145.7" stroke="#000" stroke-width="1.2"/>
<line x1="547.85" y1="141.3" x2="547.85" y2="145.7" stroke="#000" stroke-width="1.2"/>
<line x1="586.6" y1="141.3" x2="586.6" y2="145.7" stroke="#000" stroke-width="1.2"/>
<line x1="625.35" y1="141.3" x2="625.35" y2="145.7" stroke="#000" stroke-width="1.2"/>
<text x="449.95" y="156.6" font-size="7.6" text-anchor="middle" font-weight="normal" fill="#111" >1898-1940</text>
<text x="488.9" y="156.6" font-size="7.6" text-anchor="middle" font-weight="normal" fill="#111" >1941-1960</text>
<text x="527.85" y="156.6" font-size="7.6" text-anchor="middle" font-weight="normal" fill="#111" >1961-1980</text>
<text x="566.8" y="156.6" font-size="7.6" text-anchor="middle" font-weight="normal" fill="#111" >1981-2000</text>
<text x="605.75" y="156.6" font-size="7.6" text-anchor="middle" font-weight="normal" fill="#111" >2001-2021</text>
<text x="528.5" y="8.8" font-size="11.6" text-anchor="middle" font-weight="normal" fill="#111" >Geographic region</text>
<text x="532.5" y="169.3" font-size="10.5" text-anchor="middle" font-weight="normal" fill="#111" >Years</text>
<text transform="translate(410.3,84.5) rotate(-90)" font-size="10.5" text-anchor="middle" fill="#111">Number of isolates</text>
<line x1="434.4" y1="300.86" x2="627.5" y2="300.86" stroke="#d4d4d4" stroke-width="0.8"/>
<line x1="434.4" y1="274.42" x2="627.5" y2="274.42" stroke="#d4d4d4" stroke-width="0.8"/>
<line x1="434.4" y1="247.98" x2="627.5" y2="247.98" stroke="#d4d4d4" stroke-width="0.8"/>
<line x1="434.4" y1="221.54" x2="627.5" y2="221.54" stroke="#d4d4d4" stroke-width="0.8"/>
<line x1="434.4" y1="195.1" x2="627.5" y2="195.1" stroke="#d4d4d4" stroke-width="0.8"/>
<rect x="436.6" y="304.03" width="32.3" height="23.42" fill="#deded9"/>
<rect x="436.6" y="280.63" width="32.3" height="23.55" fill="#4db8a4"/>
<rect x="436.6" y="257.37" width="32.3" height="23.42" fill="#8b431a"/>
<rect x="436.6" y="202.9" width="32.3" height="54.62" fill="#5abf36"/>
<rect x="436.6" y="195.1" width="32.3" height="7.95" fill="#d5145f"/>
<rect x="475.43" y="325.18" width="32.3" height="2.27" fill="#c23db5"/>
<rect x="475.43" y="316.99" width="32.3" height="8.35" fill="#deded9"/>
<rect x="475.43" y="314.74" width="32.3" height="2.4" fill="#8b431a"/>
<rect x="475.43" y="304.03" width="32.3" height="10.86" fill="#d9b154"/>
<rect x="475.43" y="275.48" width="32.3" height="28.71" fill="#5abf36"/>
<rect x="475.43" y="273.23" width="32.3" height="2.4" fill="#f4849a"/>
<rect x="475.43" y="245.07" width="32.3" height="28.31" fill="#4a78c5"/>
<rect x="475.43" y="195.1" width="32.3" height="50.12" fill="#d5145f"/>
<rect x="514.26" y="317.65" width="32.3" height="9.8" fill="#deded9"/>
<rect x="514.26" y="316.86" width="32.3" height="0.94" fill="#4db8a4"/>
<rect x="514.26" y="313.02" width="32.3" height="3.98" fill="#8b431a"/>
<rect x="514.26" y="312.1" width="32.3" height="1.08" fill="#d9b154"/>
<rect x="514.26" y="282.22" width="32.3" height="30.03" fill="#5abf36"/>
<rect x="514.26" y="254.85" width="32.3" height="27.52" fill="#4a78c5"/>
<rect x="514.26" y="195.89" width="32.3" height="59.11" fill="#d5145f"/>
<rect x="514.26" y="195.1" width="32.3" height="0.94" fill="#f3ef4e"/>
<rect x="553.09" y="324.92" width="32.3" height="2.53" fill="#c23db5"/>
<rect x="553.09" y="323.6" width="32.3" height="1.47" fill="#deded9"/>
<rect x="553.09" y="322.94" width="32.3" height="0.81" fill="#f4849a"/>
<rect x="553.09" y="322.14" width="32.3" height="0.94" fill="#d9b154"/>
<rect x="553.09" y="296.5" width="32.3" height="25.8" fill="#5abf36"/>
<rect x="553.09" y="285.92" width="32.3" height="10.73" fill="#4a78c5"/>
<rect x="553.09" y="195.1" width="32.3" height="90.97" fill="#d5145f"/>
<rect x="591.92" y="320.82" width="32.3" height="6.63" fill="#deded9"/>
<rect x="591.92" y="319.76" width="32.3" height="1.21" fill="#3e7a60"/>
<rect x="591.92" y="317.52" width="32.3" height="2.4" fill="#8b431a"/>
<rect x="591.92" y="309.59" width="32.3" height="8.08" fill="#5abf36"/>
<rect x="591.92" y="303.11" width="32.3" height="6.63" fill="#4a78c5"/>
<rect x="591.92" y="195.1" width="32.3" height="108.16" fill="#d5145f"/>
<line x1="434.4" y1="194.4" x2="434.4" y2="328.1" stroke="#000" stroke-width="1.9"/>
<line x1="433.5" y1="327.3" x2="627.5" y2="327.3" stroke="#000" stroke-width="1.6"/>
<line x1="431.2" y1="327.3" x2="434.4" y2="327.3" stroke="#000" stroke-width="1.2"/>
<text x="428.9" y="332.3" font-size="8.3" text-anchor="end" font-weight="normal" fill="#111" >0</text>
<line x1="431.2" y1="300.86" x2="434.4" y2="300.86" stroke="#000" stroke-width="1.2"/>
<text x="428.9" y="303.86" font-size="8.3" text-anchor="end" font-weight="normal" fill="#111" >20</text>
<line x1="431.2" y1="274.42" x2="434.4" y2="274.42" stroke="#000" stroke-width="1.2"/>
<text x="428.9" y="277.42" font-size="8.3" text-anchor="end" font-weight="normal" fill="#111" >40</text>
<line x1="431.2" y1="247.98" x2="434.4" y2="247.98" stroke="#000" stroke-width="1.2"/>
<text x="428.9" y="250.98" font-size="8.3" text-anchor="end" font-weight="normal" fill="#111" >60</text>
<line x1="431.2" y1="221.54" x2="434.4" y2="221.54" stroke="#000" stroke-width="1.2"/>
<text x="428.9" y="224.54" font-size="8.3" text-anchor="end" font-weight="normal" fill="#111" >80</text>
<line x1="431.2" y1="195.1" x2="434.4" y2="195.1" stroke="#000" stroke-width="1.2"/>
<text x="428.9" y="198.1" font-size="8.3" text-anchor="end" font-weight="normal" fill="#111" >100</text>
<line x1="472.15" y1="325.1" x2="472.15" y2="329.5" stroke="#000" stroke-width="1.2"/>
<line x1="510.9" y1="325.1" x2="510.9" y2="329.5" stroke="#000" stroke-width="1.2"/>
<line x1="549.65" y1="325.1" x2="549.65" y2="329.5" stroke="#000" stroke-width="1.2"/>
<line x1="588.4" y1="325.1" x2="588.4" y2="329.5" stroke="#000" stroke-width="1.2"/>
<line x1="627.15" y1="325.1" x2="627.15" y2="329.5" stroke="#000" stroke-width="1.2"/>
<text x="452.05" y="340.2" font-size="7.6" text-anchor="middle" font-weight="normal" fill="#111" >1898-1940</text>
<text x="490.88" y="340.2" font-size="7.6" text-anchor="middle" font-weight="normal" fill="#111" >1941-1960</text>
<text x="529.71" y="340.2" font-size="7.6" text-anchor="middle" font-weight="normal" fill="#111" >1961-1980</text>
<text x="568.54" y="340.2" font-size="7.6" text-anchor="middle" font-weight="normal" fill="#111" >1981-2000</text>
<text x="607.37" y="340.2" font-size="7.6" text-anchor="middle" font-weight="normal" fill="#111" >2001-2021</text>
<text x="534.3" y="188" font-size="11.6" text-anchor="middle" font-weight="normal" fill="#111" >Lineage</text>
<text x="537.3" y="352.8" font-size="10.5" text-anchor="middle" font-weight="normal" fill="#111" >Years</text>
<text transform="translate(412.9,256.8) rotate(-90)" font-size="10.5" text-anchor="middle" fill="#111">% of genomes</text>
<text x="372.2" y="28.9" font-size="26" text-anchor="start" font-weight="bold" fill="#000" >b</text></g>
<g id="panel_c"><defs>
<clipPath id="clip_nam"><path d="M39.18,436.41L41.24,432.84L45.24,431.26L50.09,429.54L53.12,428.88L58.58,429.54L64.64,430.34L71.91,431L77.97,432.05L84.03,430.6L87.66,430.07L91.3,431.13L96.15,430.86L102.21,432.05L105.24,433.5L110.69,433.37L111.9,432.45L116.15,433.24L119.78,433.64L124.02,433.37L124.63,432.45L126.69,432.45L128.51,428.09L130.33,431.13L133.11,432.58L136.14,432.18L139.17,430.86L143.42,431.52L144.26,432.58L142.81,435.09L139.17,435.48L137.36,437.2L134.33,438.52L130.69,440.5L128.14,443.54L128.02,445.52L130.33,447.5L133.11,447.5L136.75,449.08L139.78,450L143.05,450.27L143.17,453.04L144.26,454.1L146.08,455.42L147.42,453.96L146.45,451.06L149.48,449.08L149.84,447.1L147.66,445.38L148.87,443.8L148.26,440.76L151.29,440.76L154.93,441.56L157.96,442.48L158.57,445.12L160.38,445.78L162.2,444.46L164.26,443.4L165.47,445.38L167.66,447.1L168.87,449.08L172.5,450.66L173.72,452.12L175.17,454.1L173.11,455.15L170.69,456.6L166.44,456.6L162.44,456.74L159.78,458.45L157.35,460.7L160.38,458.58L164.02,458.06L164.75,459.38L163.41,460.04L164.26,461.62L166.2,462.41L168.38,462.81L170.08,461.22L169.84,462.68L166.44,464L163.17,465.58L162.81,464L164.63,462.94L161.6,463.47L159.17,464.66L157.6,465.58L156.99,467.16L157.96,467.96L156.14,468.35L153.48,469.01L155.29,469.01L153.11,469.54L152.75,470.86L151.54,472.05L150.69,474.16L150.93,476.01L149.84,477.2L148.26,478.25L146.69,479.44L144.63,481.02L144.14,483L145.11,485.64L145.72,488.02L145.36,489.74L144.26,489.21L143.42,487.62L142.45,486.04L142.45,484.59L140.99,483.4L139.17,483.66L137.36,482.87L135.05,483L134.2,483.27L134.57,484.59L132.51,484.46L129.11,483.8L127.42,484.72L125.24,486.17L124.87,488.68L124.27,491.32L124.27,493.56L124.99,495.81L126.21,497.79L127.9,498.84L130.08,498.71L132.02,498.32L132.99,496.73L133.36,495.28L135.9,494.49L137.6,494.88L136.75,496.86L136.39,498.98L135.78,500.16L135.05,502.01L136.51,502.01L138.69,501.88L140.63,502.14L141.96,503.2L141.6,505.84L141.36,508.48L142.2,509.8L143.17,510.99L144.63,511.38L146.2,510.46L147.29,510.59L148.99,511.65L149.11,512.7L147.9,513.5L147.78,512.04L146.45,511.25L145.48,512.18L145.6,513.36L144.39,513.23L143.17,512.18L141.48,511.65L139.9,510.06L138.81,508.61L137.36,506.37L136.63,505.58L134.33,505.18L132.14,504.52L130.08,502.54L128.27,501.62L126.21,502.28L124.02,501.75L121.24,500.56L119.18,499.37L116.99,498.18L115.3,496.86L114.81,495.41L115.18,494.22L113.96,492.24L111.9,489.74L110.21,488.02L109,486.7L106.93,484.85L105.84,482.34L103.9,481.16L103.78,482.87L105.6,485.25L106.69,487.1L108.27,489.47L109,491.06L110.09,492.38L109.24,492.64L107.06,490.4L106.69,488.55L104.39,487.1L104.27,484.98L102.57,483.4L101.36,481.29L100.75,479.84L99.3,478.25L96.75,477.46L95.54,475.48L94.45,473.5L92.75,471.12L92.15,469.67L92.27,467.56L92.03,465.58L92.51,463.6L92.51,461.88L91.66,459.24L93.97,459.38L94.33,460.56L94.57,458.32L92.51,457.4L90.69,456.34L88.51,455.28L87.66,453.7L85.6,451.72L84.63,450.4L83.06,449.08L81,447.36L79.18,446.04L77.36,446.04L75.54,445.12L73.12,444.2L70.09,443.8L67.67,443.54L65.24,442.48L62.82,443.01L61.61,444.06L59.18,444.72L59.42,442.88L61.24,442.08L58.58,442.74L56.76,444.33L55.91,445.78L53.73,447.1L50.7,448.82L48.27,449.87L45.49,450.8L43.06,451.06L45.24,450L47.91,448.95L50.7,447.63L52.15,445.52L50.09,445.65L46.7,445.52L46.21,443.8L43.43,443.01L42.09,441.69L42.82,440.24L44.27,439.71L47.67,439.05L47.67,437.73L45.24,437.86L41.37,437.73L39.18,436.41Z M145.23,425.72L150.08,426.9L155.54,428.49L159.78,430.2L161.6,431.92L166.44,434.03L168.26,435.22L165.23,436.94L162.81,437.46L164.02,439.31L162.2,441.16L158.57,440.5L156.14,439.18L152.51,437.86L148.51,438.12L148.87,436.54L153.48,436.28L154.32,433.5L150.69,431.52L147.05,430.2L140.99,430.73L136.14,430.2L134.33,428.88L135.54,426.38L139.78,425.72L145.23,425.72Z M99.78,428.62L104.63,426.24L111.9,426.38L115.54,426.64L116.15,429.28L119.78,430.6L119.18,432.05L114.33,432.58L108.27,432.45L102.81,431.66L100.39,430.34L99.78,428.62Z M90.69,427.96L92.51,424.92L99.78,425.06L102.21,426.38L98.57,428.36L93.72,429.02L90.69,427.96Z M128.87,416.48L136.14,422.15L143.42,422.15L148.26,421.62L148.26,420.04L151.9,418.72L160.38,416.74L167.66,415.02L166.44,413.84L155.54,413.31L143.42,413.57L133.72,414.76L128.87,416.48Z M126.45,421.76L133.72,422.02L144.63,422.94L145.84,424.53L138.57,424.79L131.3,424.53L126.45,423.34L126.45,421.76Z M101,422.28L109.48,422.02L114.33,422.68L114.33,424L109.48,424.79L104.63,424.13L101,423.34L101,422.28Z M116.75,422.02L124.02,421.89L124.63,424L120.39,424.13L116.75,423.34L116.75,422.02Z M119.18,425.58L125.24,425.58L125.84,427.96L122.81,428.75L119.18,427.17L119.18,425.58Z M124.02,425.32L130.08,425.19L133.11,425.72L131.3,427.3L127.05,427.7L124.02,425.32Z M137.36,436.41L141.6,435.88L144.63,438.52L142.2,439.44L138.57,438.78L137.36,436.41Z M170.93,459.9L172.5,458.06L173.96,455.28L175.53,454.89L175.17,457L177.35,457.66L178.56,458.98L178.93,460.96L177.35,461.36L174.93,460.83L170.93,459.9Z M87.3,455.94L90.09,456.47L93,458.58L93.12,459.24L90.69,458.58L88.27,457L87.3,455.94Z M81.6,451.46L83.18,451.72L83.79,453.96L82.45,452.78L81.6,451.46Z M55.55,446.97L58.21,446.04L58.21,447.23L56.15,448.02L55.55,446.97Z M38.58,452.25L40.64,451.72L41,452.38L38.82,452.91Z M35.55,453.44L37,453.17L37,453.7Z M31.18,453.96L32.52,453.83L32.4,454.36Z M28.03,454.49L29.25,454.36L29.12,454.89Z M34.7,439.05L37.97,439.31L36.15,439.84Z M40.03,443.54L41.97,443.54L41.24,444.06Z M139.9,494.09L141.96,492.64L144.63,492.38L146.69,493.17L148.87,494.22L151.29,495.28L152.87,496.34L151.29,496.73L148.63,496.73L149.23,495.81L147.66,495.28L145.84,494.36L143.42,493.43L141.11,493.96L139.9,494.09Z M152.63,498.71L154.32,496.73L155.9,496.86L157.96,497L159.9,498.45L158.32,498.84L156.26,499.64L155.17,498.98L152.63,498.71Z M147.9,498.71L150.32,498.84L150.08,499.37L148.02,499.24Z M161.35,498.58L163.17,498.71L162.93,499.24L161.35,499.24Z M53.73,496.34L54.94,496.73L54.21,497.92L53.73,497.13Z M52.88,495.28L53.73,495.41L53.24,495.81Z M51.06,494.49L51.67,494.62L51.3,494.88Z M49.24,493.7L49.73,493.83L49.49,494.09Z"/></clipPath>
<clipPath id="clip_grn"><path d="M154.32,419.78L160.38,417.66L167.66,415.68L176.14,414.36L188.26,413.31L204.02,412.65L216.14,413.97L222.2,415.68L220.38,418.06L219.17,421.36L218.56,424L216.74,425.98L215.53,428.62L213.71,430.34L210.68,432.32L204.02,433.24L199.77,435.88L195.53,436.54L193.11,439.18L190.68,443.14L188.87,443.93L185.84,442.74L182.81,441.16L180.38,438.52L177.96,435.22L177.96,432.58L180.38,431.26L176.75,429.68L175.53,427.3L173.11,424.66L170.08,422.94L162.81,422.68L159.17,421.76L156.75,420.96L154.32,419.78Z M213.35,436.54L215.53,435.35L218.2,436.14L220.98,435.48L224.01,435.48L226.32,436.8L224.86,438.12L221.59,439.05L218.56,439.18L215.41,438.65L216.14,437.73L213.71,437.33L215.77,436.8L213.35,436.54Z"/></clipPath>
<clipPath id="clip_sam"><path d="M148.99,511.65L149.72,511.38L151.17,508.88L152.14,508.35L154.32,507.95L155.9,506.63L156.51,507.42L155.78,508.61L156.38,509.4L157.72,507.82L158.2,507.03L160.02,508.74L162.81,509.01L164.63,509.54L167.05,508.88L168.87,510.06L169.11,511.65L171.29,512.7L173.47,515.08L176.14,515.21L177.96,515.74L180.02,517.06L180.99,518.38L182.2,520.62L181.59,522.34L182.81,522.74L184.14,523.79L186.44,524.32L188.87,526.17L190.68,526.3L193.71,526.7L196.14,528.02L197.96,529.47L200.02,530L200.5,532.5L200.14,535.14L197.96,537.78L196.38,540.16L195.53,542.54L195.53,545.44L194.68,548.74L193.11,551.91L191.9,553.36L189.47,553.49L187.65,554.55L184.87,556.26L183.9,557.98L183.78,560.49L182.2,562.6L180.62,564.71L179.17,566.82L177.96,568.14L176.14,569.07L174.08,568.94L172.26,568.14L172.02,568.67L173.47,569.86L173.72,571.31L172.87,573.29L170.69,574.22L167.66,574.48L167.29,576.86L164.26,576.99L165.6,578.7L164.02,579.76L163.54,582.14L161.11,583.46L160.99,584.51L162.93,585.7L160.99,587.94L159.17,590.06L159.9,592.04L160.14,593.22L162.2,594.94L163.66,595.47L161.84,595.86L159.17,596.13L156.75,595.47L154.93,594.15L152.51,592.3L151.54,589.66L151.29,587.02L152.51,584.78L151.29,584.38L153.11,581.74L154.32,580.82L152.75,580.02L153.35,578.18L153.48,575.54L153.72,572.5L154.69,569.86L155.9,566.82L156.14,563.26L156.38,560.62L157.35,556.66L157.48,553.36L157.84,550.06L157.48,547.29L156.26,545.97L153.72,544.52L151.66,543.2L150.32,541.22L149.23,538.84L147.9,535.94L146.45,532.9L144.75,530.92L144.39,528.94L145.48,527.49L145.84,526.3L144.75,525.77L145.23,523.79L145.84,522.47L147.17,521.28L147.66,519.7L149.11,518.38L148.87,515.74L148.99,513.76L148.39,513.36L148.99,511.65Z M168.5,590.45L172.75,590.85L171.29,592.04L168.87,591.64Z M167.78,508.74L168.99,508.74L168.87,509.67L167.78,509.67Z"/></clipPath>
<clipPath id="clip_afr"><path d="M235.65,475.74L237.35,476.54L240.13,476.67L242.8,475.61L244.62,474.82L246.68,474.29L249.47,474.42L251.89,474.03L254.68,473.76L256.13,474.16L255.53,475.88L255.04,477.72L256.25,479.18L257.95,479.57L261.22,480.36L262.8,481.95L264.86,482.74L266.8,482.61L267.28,480.5L268.86,479.57L270.92,480.36L273.1,481.16L275.89,481.68L277.95,482.21L279.52,481.42L281.58,481.68L283.52,481.95L284.37,481.68L285.1,484.06L284.49,486.17L283.52,485.64L282.8,484.32L282.31,483.4L282.07,484.06L283.04,485.78L283.89,487.36L285.46,490.66L286.07,492.64L287.52,493.96L287.89,495.94L288.01,498.18L289.46,499.24L290.55,502.8L292.25,503.6L294.19,506.24L295.28,507.69L296.49,509.27L298.55,508.74L301.58,508.08L304.85,507.29L304.61,509.14L303.76,511.52L302.43,514.16L300.98,517.06L298.55,519.83L296.13,521.68L293.7,524.19L292.37,526.04L291.4,527.36L290.31,529.34L289.83,531.58L290.67,533.16L290.43,535.28L291.89,536.99L291.89,539.9L292.25,542.54L291.04,544.78L288.61,546.1L286.67,547.95L284.98,549.27L285.58,551.38L285.83,554.02L284.61,555.87L282.67,557.19L282.67,558.64L282.07,560.88L280.61,562.34L279.16,564.32L276.98,566.3L274.92,567.62L272.49,568.01L269.83,568.01L267.04,568.94L265.59,568.14L264.98,566.96L264.86,564.98L263.77,563.26L262.8,560.75L261.34,558.64L260.86,556L260.37,553.1L259.04,550.46L257.34,547.02L257.1,544.78L257.95,540.82L259.53,537.52L258.8,534.22L257.71,531.05L257.1,528.94L254.92,526.7L253.59,524.06L254.31,521.68L254.68,519.04L253.47,517.06L251.28,517.19L249.47,516.4L248.01,514.68L245.83,514.68L244.01,515.21L242.19,515.87L240.38,516.66L238.56,516.14L236.13,516.27L233.71,517.19L231.89,516.27L229.71,514.16L227.65,512.97L226.68,511.12L225.1,509.14L224.01,507.82L222.56,506.63L222.44,505.05L221.59,503.6L222.56,501.88L223.04,499.9L223.29,497.92L222.32,495.28L223.04,492.9L224.01,490.66L225.1,488.68L226.8,486.44L228.86,485.38L230.68,484.06L231.04,482.08L231.65,480.1L233.71,478.52L235.16,476.93L235.65,475.74Z M302.55,538.84L303.52,541.08L303.88,543.46L303.04,545.18L302.55,547.42L301.58,550.72L300.49,554.02L299.76,556L297.95,556.79L296.13,556L295.4,553.36L295.4,551.38L296.61,549.4L296.13,546.76L296.73,544.38L298.55,543.86L300.37,542.54L301.34,540.82L302.55,538.84Z M222.32,485.51L223.29,485.38L222.68,486.04Z M225.47,485.12L226.07,485.25L225.59,485.91Z"/></clipPath>
<clipPath id="clip_oce"><path d="M380.97,551.78L380.36,554.02L380.36,556.66L381.21,559.3L382.18,562.6L383.03,565.24L382.3,568.14L384.6,569.2L387.03,568.41L389.45,567.62L392.48,567.75L394.3,566.3L396.72,565.5L399.15,564.71L401.94,564.58L404,565.5L405.45,566.56L407.03,568.94L407.63,567.88L409.45,566.56L409.81,569.46L410.66,568.94L411.87,570.52L413.09,573.16L414.9,573.69L416.72,574.22L418.54,573.42L420.12,574.61L421.57,573.16L424.6,572.37L425.57,569.2L426.3,567.09L427.63,565.24L428.24,563.26L428.84,560.62L428.36,557.98L427.99,556.26L426.42,554.68L425.33,552.7L423.75,551.38L422.18,549.4L420.36,548.21L419.75,546.1L419.02,544.12L418.78,542.54L417.33,541.88L416.84,540.16L415.87,537.52L415.03,537.92L414.54,540.16L414.42,542.8L413.69,545.84L411.87,546.1L410.06,544.78L408.24,543.72L407.03,542.54L407.63,540.56L408.6,539.1L407.03,538.84L404.6,538.44L402.78,538.05L401.57,539.24L400.36,540.82L399.75,542.67L398.3,542.54L396.72,541.35L394.91,542.14L393.45,544.38L392.12,545.7L390.91,546.76L390.06,548.34L387.63,549.4L384.6,550.32L382.79,551.12L380.97,551.78Z M418.18,576.72L420.36,577.25L422.42,576.86L422.54,578.7L421.33,580.29L419.75,580.42L418.9,578.97L418.18,576.72Z M452.11,568.41L453.69,569.6L455.38,571.31L456.11,572.63L457.93,573.03L459.14,572.76L458.29,574.74L457.32,575.4L456.35,577.12L455.14,577.91L454.54,577.38L455.14,575.8L453.57,575.01L454.54,573.42L454.54,571.84L453.69,570.78L452.48,569.46L452.11,568.41Z M452.11,576.46L453.93,577.91L452.72,579.76L451.26,580.82L450.42,581.61L449.81,583.59L448.23,584.51L446.05,584.12L444.6,583.46L445.81,582.14L447.39,580.95L449.45,579.76L450.42,578.7L451.26,576.99L452.11,576.46Z M401.57,524.06L403.39,523.53L405.33,524.19L405.57,526.3L406.66,527.36L408.24,526.04L409.81,524.98L411.87,525.77L413.69,526.43L416.12,527.49L418.06,528.15L419.51,529.6L420.96,530.79L421.93,531.71L421.33,532.9L422.42,533.82L423.99,535.67L425.45,536.86L423.39,536.6L421.21,535.8L419.75,533.96L417.93,533.03L416.72,533.96L415.75,535.14L413.69,535.01L411.87,533.69L410.06,533.96L411.03,532.24L410.3,530.39L408,529.07L405.81,528.28L404,528.28L403.75,526.83L405.21,526.04L403.15,525.9L401.57,524.06Z M422.78,530.39L425.21,530.26L427.39,528.68L427.02,530.13L425.21,531.18L422.78,530.39Z M430.66,530.66L431.87,531.58L431.39,532.11Z M436.36,535.14L437.69,535.94L436.72,536.07Z M444.72,542.8L445.57,543.72L444.96,543.72Z M441.57,549.66L444.6,551.78L444.96,552.44L442.17,550.85Z M457.69,546.1L459.26,546.36L458.54,547.02Z"/></clipPath>
<clipPath id="clip_eur"><path d="M231.89,474.16L233.71,474.03L235.16,475.08L236.38,475.35L237.47,474.56L240.13,474.56L241.95,473.37L243.04,471.92L242.44,470.86L243.65,469.14L245.47,468.35L246.68,467.16L246.56,466.11L247.89,465.58L249.47,465.98L251.04,465.84L252.13,465.18L253.47,464.39L255.04,464.92L255.53,466.37L257.1,467.56L258.31,468.48L259.77,469.14L261.59,470.07L262.19,471.52L261.83,472.84L262.8,472.58L263.53,471.52L262.92,470.46L263.4,469.54L265.1,470.33L264.98,469.41L263.16,468.48L262.07,467.69L260.37,467.16L259.28,465.58L257.95,464.66L257.71,463.2L259.28,462.68L259.4,463.73L260.5,463.34L261.22,464.66L262.8,465.58L264.37,466.5L265.83,467.56L266.43,468.48L266.31,469.8L267.4,470.99L268.49,472.31L269.1,474.42L270.07,474.82L270.92,474.82L270.92,473.24L272.01,473.1L271.28,472.18L270.43,470.86L270.55,469.67L271.65,470.33L272.37,469.28L274.31,469.01L275.28,469.54L274.55,470.07L274.68,471.26L275.52,472.31L275.89,473.9L276.98,474.56L278.55,475.22L280.01,474.42L282.19,475.35L284.01,475.08L285.95,474.69L286.67,474.56L286.31,476.54L286.31,477.46L285.34,479.31L284.86,481.02L284.37,481.68L285.1,484.06L285.34,486.04L287.04,488.68L287.89,490.26L289.46,492.64L290.19,494.88L291.28,497.26L293.1,499.5L294.55,501.88L294.79,503.86L295.4,506.24L297.34,506.1L299.76,505.05L301.95,504.52L304.61,502.94L306.19,501.22L308.25,500.56L309.94,499.5L311.52,498.18L312.85,497.52L313.1,495.94L314.91,494.62L315.28,493.3L313.82,491.85L311.88,491.32L311.16,490L311.16,488.28L310.43,489.34L308.85,490.92L306.43,491.19L305.34,490.92L305.34,488.94L304.61,488.68L304.37,490.26L303.64,489.21L303.52,487.76L302.19,486.44L301.22,484.72L300.73,483.4L301.95,483L303.4,483.14L304.37,484.85L305.82,486.44L307.64,487.76L309.46,487.76L311.28,487.23L312.25,489.21L314.31,489.47L317.34,489.74L319.76,489.6L322.19,489.47L323.64,489.6L324.37,491.06L325.46,491.85L327.03,492.9L326.43,493.7L328,495.54L330.06,495.02L330.79,493.7L331.15,495.94L331.03,497.92L331.76,501.22L332.73,503.86L333.58,506.5L334.67,508.48L335.4,510.86L336.73,512.31L337.58,511.25L338.79,510.72L339.52,509.14L340.12,505.84L339.88,502.94L341.58,501.48L342.79,500.56L345.21,497.92L347.64,496.34L348.24,494.75L350.06,494.36L351.88,493.96L353.46,492.9L354.3,494.88L355.03,496.6L356.73,498.58L357.33,500.56L357.09,502.01L358.55,502.14L360.36,500.82L361.21,501.88L361.33,503.86L362.18,506.5L362.3,509.14L361.94,511.78L362.42,512.7L364.24,514.42L364.48,516.4L365.58,519.17L367.03,520.36L368.24,521.15L369.09,521.02L368.24,519.3L368.12,517.32L367.03,515.34L366.06,514.02L364.61,513.36L364,511.78L363.15,510.72L363.03,508.74L363.88,507.16L364.24,505.31L365.21,505.44L366.42,506.63L367.51,507.56L368.36,509.01L369.94,509.54L369.82,511.38L370.67,510.86L372.12,509.27L373.45,508.74L375.03,507.69L375.27,505.84L374.79,502.94L373.33,500.96L371.88,499.37L371.03,497.92L371.27,496.6L372.48,495.28L373.94,494.49L375.51,494.62L375.88,496.07L376.6,496.07L376.73,494.88L378.54,494.22L380.36,493.56L381.57,493.17L384,492.64L385.57,491.32L387.39,489.34L388.24,487.36L390.06,485.38L390.54,483.66L389.69,482.74L390.54,482.08L389.45,480.36L388.6,478.12L387.39,476.8L388.6,475.48L391.15,474.29L390.91,473.63L389.21,473.1L387.03,473.76L385.82,472.44L385.57,471.52L387.27,470.86L389.45,469.14L390.91,469.8L389.69,471.65L391.27,470.86L393.45,470.33L394.66,471.12L394.3,473.1L396.12,473.76L395.88,476.14L395.88,477.46L397.33,477.2L399.39,476.54L399.63,474.42L398.54,472.44L397.33,470.86L398.3,470.2L400,469.01L400.12,467.82L401.57,466.9L403.39,465.98L404.6,466.5L406.78,464.92L408.6,462.94L410.42,460.7L411.87,458.98L413.09,457L414.06,454.1L413.09,452.64L411.27,451.72L409.45,451.98L408.84,451.06L407.03,450.8L408.84,449.08L411.27,447.36L413.69,445.65L416.12,444.72L419.75,444.59L423.39,444.46L427.02,445.12L430.05,444.46L432.48,442.22L436.11,441.42L437.93,443.14L440.36,441.42L442.17,440.5L440.6,442.48L439.14,444.46L436.11,446.44L433.69,446.84L432.24,448.42L431.51,451.06L431.87,453.96L432.72,455.68L434.3,454.62L435.02,453.04L436.72,451.06L439.14,450.4L439.51,448.42L440.6,446.7L440.11,445.38L442.17,443.93L444.6,443.54L448.84,443.8L451.26,442.48L454.29,441.42L457.32,440.63L460.11,440.5L459.75,438.12L457.93,437.6L460.35,437.07L462.17,436.54L464.6,436.41L466.41,437.86L469.44,437.86L471.26,436.54L473.44,435.88L470.66,434.56L467.02,434.16L465.2,432.98L460.96,431.92L457.32,431.13L452.48,430.73L449.45,430.47L446.42,431.26L441.57,431L437.93,431.26L436.72,429.94L433.08,429.28L427.02,429.41L423.39,427.96L418.54,427.43L413.69,427.04L411.27,428.62L406.42,428.62L402.78,429.02L399.75,429.28L398.54,427.3L395.51,425.98L390.66,426.64L385.82,425.98L380.36,425.58L376.12,425.32L379.15,423.34L380.36,422.28L373.7,421.62L368.85,420.44L365.21,421.89L360.36,422.68L354.3,423.34L348.24,424L347.03,425.45L342.18,425.85L340.37,427.3L341.58,428.36L337.94,427.7L335.52,427.96L333.7,426.9L331.28,428.62L332.49,430.6L332.12,432.58L333.09,433.5L331.88,434.82L329.46,435.48L330.67,432.58L331.28,429.94L330.67,427.04L327.64,426.64L325.22,428.62L323.76,429.94L324.25,431.92L325.82,432.84L322.79,432.05L320.97,431.52L316.73,430.86L315.88,432.45L311.88,432.45L308.85,432.98L307.04,432.18L303.4,433.24L299.16,433.5L297.95,434.82L296.37,433.9L295.89,432.58L295.16,435.22L292.49,435.62L291.64,437.46L288.86,438.12L287.28,438.65L285.22,437.99L284.61,436.14L282.8,434.96L285.22,434.82L289.46,435.75L292.13,434.82L292.73,433.5L290.07,432.58L286.43,431.66L282.8,431.26L280.37,430.2L277.95,429.41L274.31,429.28L271.28,429.81L268.25,430.6L265.22,431.13L262.19,432.18L260.37,433.5L258.56,435.22L257.34,437.2L255.53,438.26L253.47,439.44L250.68,440.37L248.86,441.42L248.86,443.8L249.47,445.12L251.04,446.31L252.86,446.18L254.68,445.12L255.77,444.06L256.37,445.12L256.86,446.44L257.95,448.42L258.43,449.74L260.01,449.74L261.95,448.95L262.8,447.1L263.4,445.52L265.59,444.06L263.77,442.74L264.01,440.5L266.43,439.05L268.49,437.46L269.83,436.14L272.49,436.14L273.46,437.2L271.28,438.52L268.86,440.1L268.86,442.48L270.07,443.8L273.1,443.54L276.13,443.14L278.55,443.8L277.1,444.33L274.31,444.46L271.28,444.86L271.4,445.78L272.49,447.1L270.68,447.76L269.22,446.97L268.25,448.42L268.25,450.14L266.8,451.19L265.34,450.8L263.4,450.8L260.13,451.72L257.95,451.19L256.13,451.72L254.92,451.06L255.89,449.34L255.4,448.42L255.65,446.97L253.71,447.63L252.74,448.42L252.74,450L253.34,451.72L251.53,452.25L249.47,452.64L248.5,453.17L247.41,454.89L245.83,455.55L244.74,455.94L244.62,456.87L243.04,457.53L241.35,457.79L240.62,457.53L240.98,458.72L239.16,458.58L237.1,458.98L237.47,459.9L239.53,460.43L240.38,461.22L241.35,462.28L241.35,464.13L240.74,465.71L238.56,465.58L235.53,465.45L233.1,465.32L231.65,466.24L232.13,467.82L232.26,469.54L231.41,471.26L231.53,472.18L232.13,472.84L231.89,474.16Z M236.01,456.87L237.35,456.6L238.8,456.21L240.62,456.08L243.16,455.94L244.5,455.42L243.53,455.02L244.86,453.57L243.28,453.04L242.92,452.25L242.07,451.06L240.98,450.14L240.25,449.08L238.92,448.95L240.01,447.76L240.5,446.97L238.19,446.84L239.04,445.65L236.74,445.65L235.77,446.97L235.29,448.16L236.38,449.21L236.74,450.53L238.56,450.53L239.16,451.72L239.04,452.51L237.47,452.64L237.83,453.57L236.5,454.62L238.68,455.15L237.59,455.55L236.01,456.87Z M235.41,454.1L235.41,452.64L236.01,451.06L235.29,450.14L233.59,450L232.5,450.8L230.68,451.46L231.16,452.64L230.8,454.1L230.44,454.76L232.5,454.89L234.32,454.23L235.41,454.1Z M253.22,466.37L254.31,466.37L254.19,468.22L253.34,467.82Z M252.74,469.01L254.44,468.75L254.44,471.26L253.1,471.52Z M257.95,472.84L261.59,472.58L261.22,474.42L258.56,473.63Z M271.4,476.14L274.55,476.54L272.86,476.93L271.4,476.54Z M281.95,476.8L284.61,476.01L283.64,477.06L282.19,477.2Z M245.71,470.73L246.8,470.46L246.44,471.12Z M256.01,449.48L257.95,449.08L257.83,450.4L256.13,450.4Z M264.86,446.57L265.83,446.7L264.98,447.76Z M255.89,417.93L259.77,417.66L264.62,417.27L270.68,416.87L275.52,417.4L271.89,418.32L268.25,419.25L265.22,420.7L262.8,421.89L260.37,420.7L257.34,419.12L255.89,417.93Z M298.55,416.74L305.82,416.08L313.1,415.68L320.37,416.34L313.1,417.27L303.4,417.4Z M305.22,428.62L307.64,426.9L310.07,424.92L313.1,423.34L319.16,422.28L325.82,421.49L324,422.55L317.94,424L313.1,425.58L310.67,427.56L312.49,429.68L308.85,429.68L305.22,428.62Z M358.55,418.46L361.58,416.48L367.64,418.06L370.06,419.64L364,420.04L359.76,419.38Z M408.84,422.94L413.69,422.42L419.75,423.34L425.21,423.6L419.75,424.26L414.9,425.58L410.66,424.4Z M459.14,428.62L462.78,428.75L463.99,429.28L460.35,429.54Z M301.58,431.26L303.4,431.92L301.95,432.32Z M414.9,451.32L416.12,452.78L416.48,455.02L417.09,457.66L418.18,458.32L416.36,460.3L416.72,461.49L415.75,462.28L414.9,460.96L415.03,458.32L414.66,455.02L414.42,453.3L414.9,451.32Z M412.48,468.22L412.84,466.5L414.18,465.84L414.54,463.07L416.12,464.26L418.9,464.52L419.27,465.84L417.33,466.37L416.36,467.56L414.3,466.9L413.69,467.96L412.48,468.22Z M414.18,468.35L414.9,470.46L414.3,472.44L413.69,474.16L413.45,475.74L412.24,476.67L410.9,477.2L408.84,477.33L408.6,477.72L407.39,478.78L406.42,477.72L405.21,477.33L403.39,478.12L401.57,478.25L401.57,477.33L403.51,476.27L405.45,476.01L407.39,476.01L408.48,474.42L409.21,473.5L410.66,473.76L411.87,472.18L412.48,470.46L412.48,469.14L414.18,468.35Z M400.36,478.65L401.57,478.25L402.66,479.18L402.06,481.42L401.09,481.95L400.6,480.5L400,479.31L400.36,478.65Z M403.27,478.52L404.84,477.72L406.06,478.12L405.57,479.04L404,479.7L403.27,478.52Z M390.06,489.74L390.54,490.53L389.69,492.9L389.21,493.96L388.36,492.64L389.21,490.53L390.06,489.74Z M374.54,497.52L375.88,496.6L377.33,496.86L376.6,498.58L375.27,498.98L374.54,497.52Z M339.76,510.2L341.21,511.52L341.94,513.36L341.21,514.82L340,515.08L339.52,513.1L339.76,510.2Z M388.97,498.58L390.91,498.71L391.03,500.82L390.18,502.14L390.42,504.26L391.88,504.65L393.09,506.1L392.24,505.84L390.66,504.78L389.45,504.92L388.97,503.99L388.36,503.2L388.12,501.48L388.72,500.16L388.97,498.58Z M390.54,507.42L392,507.82L391.88,509.8L391.27,510.46L390.66,509.01Z M392.24,509.14L393.09,508.22L393.21,509.54L392.36,510.33Z M393.45,506.5L394.66,506.5L395.15,508.48L394.3,509.8L394.06,508.08Z M388.6,505.31L390.06,505.44L389.69,506.76Z M390.66,513.76L391.03,512.57L392.48,511.65L394.06,511.52L394.91,510.06L395.88,511.38L396.12,513.5L395.63,514.68L394.78,515.48L394.3,514.68L393.09,514.42L392.85,512.97L391.63,513.36L390.66,513.76Z M384.85,511.91L386.42,510.46L387.76,508.08L387.39,509.4L385.82,511.38Z M374.91,521.02L375.76,520.36L377.57,521.02L377.94,519.7L379.76,518.78L380.97,517.06L382.66,516.4L384.36,513.76L385.45,514.68L387.27,516.14L385.82,517.32L385.21,518.38L385.82,520.1L386.91,521.68L385.57,522.08L385.21,523.92L384,525.38L383.76,527.62L381.82,528.41L380.36,527.36L378.3,527.36L376.36,526.56L376.12,524.72L375.03,523.4L374.91,521.02Z M358.3,515.74L360.36,516.14L361.58,517.46L363.64,518.78L364.97,520.1L366.79,521.68L368.36,523L369.45,525.38L371.27,526.7L371.03,528.94L371.03,530.66L369.58,530.52L368.24,529.47L366.67,528.02L365.21,526.3L364.36,524.32L362.91,522.6L362.3,520.76L360.73,519.3L359.15,517.72L358.3,515.74Z M370.3,531.98L371.51,530.92L373.45,531.32L374.54,531.98L376.73,531.84L377.94,531.84L379.39,532.24L381.45,533.16L381.45,534.35L379.15,534.09L376.73,533.69L374.3,533.3L371.88,532.77L370.3,531.98Z M381.57,533.82L383.03,533.82L382.79,534.62L381.7,534.48Z M383.39,533.96L384.24,534.09L383.88,534.75L383.27,534.62Z M384.36,534.22L386.91,533.96L387.03,534.48L384.6,534.88Z M388.12,534.22L391.63,533.82L391.63,534.48L388.24,534.75Z M387.03,535.54L389.21,535.94L388.48,536.46Z M392.48,536.6L394.3,534.88L396.97,534.09L394.91,535.54L393.09,536.46Z M387.51,530.39L387.76,527.62L386.79,526.56L387.39,524.58L388,522.74L389.21,521.28L391.88,521.81L393.69,521.42L394.54,520.89L393.69,522.47L391.88,522.34L389.45,522.34L388.48,523L388.36,524.19L390.06,524.19L392.24,524.06L391.75,524.72L390.3,525.51L391.15,527.22L392.12,528.81L391.39,530.13L390.42,529.34L390.06,528.28L389.33,526.56L388.6,526.83L388.72,529.2L388.72,530.39L387.51,530.39Z M397.33,520.62L397.94,520.1L398.78,521.02L397.94,522.34L398.54,523.79L397.69,523.26L397.33,521.68Z M397.94,526.83L400.36,526.83L401.33,527.75L399.75,527.62L397.94,527.49Z M395.51,527.22L396.97,527.36L396.36,528.02Z"/></clipPath>
<clipPath id="clip_map"><rect x="22" y="400.3" width="462" height="201.9"/></clipPath>
</defs>
<rect x="22" y="400.3" width="462" height="201.9" fill="#e9e9e7"/>
<line x1="63.6" y1="400.3" x2="63.6" y2="602.2" stroke="#fff" stroke-width="0.6"/>
<line x1="121.6" y1="400.3" x2="121.6" y2="602.2" stroke="#fff" stroke-width="1.0"/>
<line x1="182.2" y1="400.3" x2="182.2" y2="602.2" stroke="#fff" stroke-width="0.6"/>
<line x1="242.8" y1="400.3" x2="242.8" y2="602.2" stroke="#fff" stroke-width="1.0"/>
<line x1="303.2" y1="400.3" x2="303.2" y2="602.2" stroke="#fff" stroke-width="0.6"/>
<line x1="364" y1="400.3" x2="364" y2="602.2" stroke="#fff" stroke-width="1.0"/>
<line x1="424.5" y1="400.3" x2="424.5" y2="602.2" stroke="#fff" stroke-width="0.6"/>
<line x1="22" y1="423.2" x2="484" y2="423.2" stroke="#fff" stroke-width="0.6"/>
<line x1="22" y1="456.9" x2="484" y2="456.9" stroke="#fff" stroke-width="1.0"/>
<line x1="22" y1="489.6" x2="484" y2="489.6" stroke="#fff" stroke-width="0.6"/>
<line x1="22" y1="515.3" x2="484" y2="515.3" stroke="#fff" stroke-width="1.0"/>
<line x1="22" y1="556.3" x2="484" y2="556.3" stroke="#fff" stroke-width="0.6"/>
<line x1="22" y1="590.6" x2="484" y2="590.6" stroke="#fff" stroke-width="1.0"/>
<g clip-path="url(#clip_map)">
<path d="M39.18,436.41L41.24,432.84L45.24,431.26L50.09,429.54L53.12,428.88L58.58,429.54L64.64,430.34L71.91,431L77.97,432.05L84.03,430.6L87.66,430.07L91.3,431.13L96.15,430.86L102.21,432.05L105.24,433.5L110.69,433.37L111.9,432.45L116.15,433.24L119.78,433.64L124.02,433.37L124.63,432.45L126.69,432.45L128.51,428.09L130.33,431.13L133.11,432.58L136.14,432.18L139.17,430.86L143.42,431.52L144.26,432.58L142.81,435.09L139.17,435.48L137.36,437.2L134.33,438.52L130.69,440.5L128.14,443.54L128.02,445.52L130.33,447.5L133.11,447.5L136.75,449.08L139.78,450L143.05,450.27L143.17,453.04L144.26,454.1L146.08,455.42L147.42,453.96L146.45,451.06L149.48,449.08L149.84,447.1L147.66,445.38L148.87,443.8L148.26,440.76L151.29,440.76L154.93,441.56L157.96,442.48L158.57,445.12L160.38,445.78L162.2,444.46L164.26,443.4L165.47,445.38L167.66,447.1L168.87,449.08L172.5,450.66L173.72,452.12L175.17,454.1L173.11,455.15L170.69,456.6L166.44,456.6L162.44,456.74L159.78,458.45L157.35,460.7L160.38,458.58L164.02,458.06L164.75,459.38L163.41,460.04L164.26,461.62L166.2,462.41L168.38,462.81L170.08,461.22L169.84,462.68L166.44,464L163.17,465.58L162.81,464L164.63,462.94L161.6,463.47L159.17,464.66L157.6,465.58L156.99,467.16L157.96,467.96L156.14,468.35L153.48,469.01L155.29,469.01L153.11,469.54L152.75,470.86L151.54,472.05L150.69,474.16L150.93,476.01L149.84,477.2L148.26,478.25L146.69,479.44L144.63,481.02L144.14,483L145.11,485.64L145.72,488.02L145.36,489.74L144.26,489.21L143.42,487.62L142.45,486.04L142.45,484.59L140.99,483.4L139.17,483.66L137.36,482.87L135.05,483L134.2,483.27L134.57,484.59L132.51,484.46L129.11,483.8L127.42,484.72L125.24,486.17L124.87,488.68L124.27,491.32L124.27,493.56L124.99,495.81L126.21,497.79L127.9,498.84L130.08,498.71L132.02,498.32L132.99,496.73L133.36,495.28L135.9,494.49L137.6,494.88L136.75,496.86L136.39,498.98L135.78,500.16L135.05,502.01L136.51,502.01L138.69,501.88L140.63,502.14L141.96,503.2L141.6,505.84L141.36,508.48L142.2,509.8L143.17,510.99L144.63,511.38L146.2,510.46L147.29,510.59L148.99,511.65L149.11,512.7L147.9,513.5L147.78,512.04L146.45,511.25L145.48,512.18L145.6,513.36L144.39,513.23L143.17,512.18L141.48,511.65L139.9,510.06L138.81,508.61L137.36,506.37L136.63,505.58L134.33,505.18L132.14,504.52L130.08,502.54L128.27,501.62L126.21,502.28L124.02,501.75L121.24,500.56L119.18,499.37L116.99,498.18L115.3,496.86L114.81,495.41L115.18,494.22L113.96,492.24L111.9,489.74L110.21,488.02L109,486.7L106.93,484.85L105.84,482.34L103.9,481.16L103.78,482.87L105.6,485.25L106.69,487.1L108.27,489.47L109,491.06L110.09,492.38L109.24,492.64L107.06,490.4L106.69,488.55L104.39,487.1L104.27,484.98L102.57,483.4L101.36,481.29L100.75,479.84L99.3,478.25L96.75,477.46L95.54,475.48L94.45,473.5L92.75,471.12L92.15,469.67L92.27,467.56L92.03,465.58L92.51,463.6L92.51,461.88L91.66,459.24L93.97,459.38L94.33,460.56L94.57,458.32L92.51,457.4L90.69,456.34L88.51,455.28L87.66,453.7L85.6,451.72L84.63,450.4L83.06,449.08L81,447.36L79.18,446.04L77.36,446.04L75.54,445.12L73.12,444.2L70.09,443.8L67.67,443.54L65.24,442.48L62.82,443.01L61.61,444.06L59.18,444.72L59.42,442.88L61.24,442.08L58.58,442.74L56.76,444.33L55.91,445.78L53.73,447.1L50.7,448.82L48.27,449.87L45.49,450.8L43.06,451.06L45.24,450L47.91,448.95L50.7,447.63L52.15,445.52L50.09,445.65L46.7,445.52L46.21,443.8L43.43,443.01L42.09,441.69L42.82,440.24L44.27,439.71L47.67,439.05L47.67,437.73L45.24,437.86L41.37,437.73L39.18,436.41Z M145.23,425.72L150.08,426.9L155.54,428.49L159.78,430.2L161.6,431.92L166.44,434.03L168.26,435.22L165.23,436.94L162.81,437.46L164.02,439.31L162.2,441.16L158.57,440.5L156.14,439.18L152.51,437.86L148.51,438.12L148.87,436.54L153.48,436.28L154.32,433.5L150.69,431.52L147.05,430.2L140.99,430.73L136.14,430.2L134.33,428.88L135.54,426.38L139.78,425.72L145.23,425.72Z M99.78,428.62L104.63,426.24L111.9,426.38L115.54,426.64L116.15,429.28L119.78,430.6L119.18,432.05L114.33,432.58L108.27,432.45L102.81,431.66L100.39,430.34L99.78,428.62Z M90.69,427.96L92.51,424.92L99.78,425.06L102.21,426.38L98.57,428.36L93.72,429.02L90.69,427.96Z M128.87,416.48L136.14,422.15L143.42,422.15L148.26,421.62L148.26,420.04L151.9,418.72L160.38,416.74L167.66,415.02L166.44,413.84L155.54,413.31L143.42,413.57L133.72,414.76L128.87,416.48Z M126.45,421.76L133.72,422.02L144.63,422.94L145.84,424.53L138.57,424.79L131.3,424.53L126.45,423.34L126.45,421.76Z M101,422.28L109.48,422.02L114.33,422.68L114.33,424L109.48,424.79L104.63,424.13L101,423.34L101,422.28Z M116.75,422.02L124.02,421.89L124.63,424L120.39,424.13L116.75,423.34L116.75,422.02Z M119.18,425.58L125.24,425.58L125.84,427.96L122.81,428.75L119.18,427.17L119.18,425.58Z M124.02,425.32L130.08,425.19L133.11,425.72L131.3,427.3L127.05,427.7L124.02,425.32Z M137.36,436.41L141.6,435.88L144.63,438.52L142.2,439.44L138.57,438.78L137.36,436.41Z M170.93,459.9L172.5,458.06L173.96,455.28L175.53,454.89L175.17,457L177.35,457.66L178.56,458.98L178.93,460.96L177.35,461.36L174.93,460.83L170.93,459.9Z M87.3,455.94L90.09,456.47L93,458.58L93.12,459.24L90.69,458.58L88.27,457L87.3,455.94Z M81.6,451.46L83.18,451.72L83.79,453.96L82.45,452.78L81.6,451.46Z M55.55,446.97L58.21,446.04L58.21,447.23L56.15,448.02L55.55,446.97Z M38.58,452.25L40.64,451.72L41,452.38L38.82,452.91Z M35.55,453.44L37,453.17L37,453.7Z M31.18,453.96L32.52,453.83L32.4,454.36Z M28.03,454.49L29.25,454.36L29.12,454.89Z M34.7,439.05L37.97,439.31L36.15,439.84Z M40.03,443.54L41.97,443.54L41.24,444.06Z M139.9,494.09L141.96,492.64L144.63,492.38L146.69,493.17L148.87,494.22L151.29,495.28L152.87,496.34L151.29,496.73L148.63,496.73L149.23,495.81L147.66,495.28L145.84,494.36L143.42,493.43L141.11,493.96L139.9,494.09Z M152.63,498.71L154.32,496.73L155.9,496.86L157.96,497L159.9,498.45L158.32,498.84L156.26,499.64L155.17,498.98L152.63,498.71Z M147.9,498.71L150.32,498.84L150.08,499.37L148.02,499.24Z M161.35,498.58L163.17,498.71L162.93,499.24L161.35,499.24Z M53.73,496.34L54.94,496.73L54.21,497.92L53.73,497.13Z M52.88,495.28L53.73,495.41L53.24,495.81Z M51.06,494.49L51.67,494.62L51.3,494.88Z M49.24,493.7L49.73,493.83L49.49,494.09Z" fill="#fff"/>
<path d="M154.32,419.78L160.38,417.66L167.66,415.68L176.14,414.36L188.26,413.31L204.02,412.65L216.14,413.97L222.2,415.68L220.38,418.06L219.17,421.36L218.56,424L216.74,425.98L215.53,428.62L213.71,430.34L210.68,432.32L204.02,433.24L199.77,435.88L195.53,436.54L193.11,439.18L190.68,443.14L188.87,443.93L185.84,442.74L182.81,441.16L180.38,438.52L177.96,435.22L177.96,432.58L180.38,431.26L176.75,429.68L175.53,427.3L173.11,424.66L170.08,422.94L162.81,422.68L159.17,421.76L156.75,420.96L154.32,419.78Z M213.35,436.54L215.53,435.35L218.2,436.14L220.98,435.48L224.01,435.48L226.32,436.8L224.86,438.12L221.59,439.05L218.56,439.18L215.41,438.65L216.14,437.73L213.71,437.33L215.77,436.8L213.35,436.54Z" fill="#fff"/>
<path d="M148.99,511.65L149.72,511.38L151.17,508.88L152.14,508.35L154.32,507.95L155.9,506.63L156.51,507.42L155.78,508.61L156.38,509.4L157.72,507.82L158.2,507.03L160.02,508.74L162.81,509.01L164.63,509.54L167.05,508.88L168.87,510.06L169.11,511.65L171.29,512.7L173.47,515.08L176.14,515.21L177.96,515.74L180.02,517.06L180.99,518.38L182.2,520.62L181.59,522.34L182.81,522.74L184.14,523.79L186.44,524.32L188.87,526.17L190.68,526.3L193.71,526.7L196.14,528.02L197.96,529.47L200.02,530L200.5,532.5L200.14,535.14L197.96,537.78L196.38,540.16L195.53,542.54L195.53,545.44L194.68,548.74L193.11,551.91L191.9,553.36L189.47,553.49L187.65,554.55L184.87,556.26L183.9,557.98L183.78,560.49L182.2,562.6L180.62,564.71L179.17,566.82L177.96,568.14L176.14,569.07L174.08,568.94L172.26,568.14L172.02,568.67L173.47,569.86L173.72,571.31L172.87,573.29L170.69,574.22L167.66,574.48L167.29,576.86L164.26,576.99L165.6,578.7L164.02,579.76L163.54,582.14L161.11,583.46L160.99,584.51L162.93,585.7L160.99,587.94L159.17,590.06L159.9,592.04L160.14,593.22L162.2,594.94L163.66,595.47L161.84,595.86L159.17,596.13L156.75,595.47L154.93,594.15L152.51,592.3L151.54,589.66L151.29,587.02L152.51,584.78L151.29,584.38L153.11,581.74L154.32,580.82L152.75,580.02L153.35,578.18L153.48,575.54L153.72,572.5L154.69,569.86L155.9,566.82L156.14,563.26L156.38,560.62L157.35,556.66L157.48,553.36L157.84,550.06L157.48,547.29L156.26,545.97L153.72,544.52L151.66,543.2L150.32,541.22L149.23,538.84L147.9,535.94L146.45,532.9L144.75,530.92L144.39,528.94L145.48,527.49L145.84,526.3L144.75,525.77L145.23,523.79L145.84,522.47L147.17,521.28L147.66,519.7L149.11,518.38L148.87,515.74L148.99,513.76L148.39,513.36L148.99,511.65Z M168.5,590.45L172.75,590.85L171.29,592.04L168.87,591.64Z M167.78,508.74L168.99,508.74L168.87,509.67L167.78,509.67Z" fill="#fff"/>
<path d="M235.65,475.74L237.35,476.54L240.13,476.67L242.8,475.61L244.62,474.82L246.68,474.29L249.47,474.42L251.89,474.03L254.68,473.76L256.13,474.16L255.53,475.88L255.04,477.72L256.25,479.18L257.95,479.57L261.22,480.36L262.8,481.95L264.86,482.74L266.8,482.61L267.28,480.5L268.86,479.57L270.92,480.36L273.1,481.16L275.89,481.68L277.95,482.21L279.52,481.42L281.58,481.68L283.52,481.95L284.37,481.68L285.1,484.06L284.49,486.17L283.52,485.64L282.8,484.32L282.31,483.4L282.07,484.06L283.04,485.78L283.89,487.36L285.46,490.66L286.07,492.64L287.52,493.96L287.89,495.94L288.01,498.18L289.46,499.24L290.55,502.8L292.25,503.6L294.19,506.24L295.28,507.69L296.49,509.27L298.55,508.74L301.58,508.08L304.85,507.29L304.61,509.14L303.76,511.52L302.43,514.16L300.98,517.06L298.55,519.83L296.13,521.68L293.7,524.19L292.37,526.04L291.4,527.36L290.31,529.34L289.83,531.58L290.67,533.16L290.43,535.28L291.89,536.99L291.89,539.9L292.25,542.54L291.04,544.78L288.61,546.1L286.67,547.95L284.98,549.27L285.58,551.38L285.83,554.02L284.61,555.87L282.67,557.19L282.67,558.64L282.07,560.88L280.61,562.34L279.16,564.32L276.98,566.3L274.92,567.62L272.49,568.01L269.83,568.01L267.04,568.94L265.59,568.14L264.98,566.96L264.86,564.98L263.77,563.26L262.8,560.75L261.34,558.64L260.86,556L260.37,553.1L259.04,550.46L257.34,547.02L257.1,544.78L257.95,540.82L259.53,537.52L258.8,534.22L257.71,531.05L257.1,528.94L254.92,526.7L253.59,524.06L254.31,521.68L254.68,519.04L253.47,517.06L251.28,517.19L249.47,516.4L248.01,514.68L245.83,514.68L244.01,515.21L242.19,515.87L240.38,516.66L238.56,516.14L236.13,516.27L233.71,517.19L231.89,516.27L229.71,514.16L227.65,512.97L226.68,511.12L225.1,509.14L224.01,507.82L222.56,506.63L222.44,505.05L221.59,503.6L222.56,501.88L223.04,499.9L223.29,497.92L222.32,495.28L223.04,492.9L224.01,490.66L225.1,488.68L226.8,486.44L228.86,485.38L230.68,484.06L231.04,482.08L231.65,480.1L233.71,478.52L235.16,476.93L235.65,475.74Z M302.55,538.84L303.52,541.08L303.88,543.46L303.04,545.18L302.55,547.42L301.58,550.72L300.49,554.02L299.76,556L297.95,556.79L296.13,556L295.4,553.36L295.4,551.38L296.61,549.4L296.13,546.76L296.73,544.38L298.55,543.86L300.37,542.54L301.34,540.82L302.55,538.84Z M222.32,485.51L223.29,485.38L222.68,486.04Z M225.47,485.12L226.07,485.25L225.59,485.91Z" fill="#fff"/>
<path d="M380.97,551.78L380.36,554.02L380.36,556.66L381.21,559.3L382.18,562.6L383.03,565.24L382.3,568.14L384.6,569.2L387.03,568.41L389.45,567.62L392.48,567.75L394.3,566.3L396.72,565.5L399.15,564.71L401.94,564.58L404,565.5L405.45,566.56L407.03,568.94L407.63,567.88L409.45,566.56L409.81,569.46L410.66,568.94L411.87,570.52L413.09,573.16L414.9,573.69L416.72,574.22L418.54,573.42L420.12,574.61L421.57,573.16L424.6,572.37L425.57,569.2L426.3,567.09L427.63,565.24L428.24,563.26L428.84,560.62L428.36,557.98L427.99,556.26L426.42,554.68L425.33,552.7L423.75,551.38L422.18,549.4L420.36,548.21L419.75,546.1L419.02,544.12L418.78,542.54L417.33,541.88L416.84,540.16L415.87,537.52L415.03,537.92L414.54,540.16L414.42,542.8L413.69,545.84L411.87,546.1L410.06,544.78L408.24,543.72L407.03,542.54L407.63,540.56L408.6,539.1L407.03,538.84L404.6,538.44L402.78,538.05L401.57,539.24L400.36,540.82L399.75,542.67L398.3,542.54L396.72,541.35L394.91,542.14L393.45,544.38L392.12,545.7L390.91,546.76L390.06,548.34L387.63,549.4L384.6,550.32L382.79,551.12L380.97,551.78Z M418.18,576.72L420.36,577.25L422.42,576.86L422.54,578.7L421.33,580.29L419.75,580.42L418.9,578.97L418.18,576.72Z M452.11,568.41L453.69,569.6L455.38,571.31L456.11,572.63L457.93,573.03L459.14,572.76L458.29,574.74L457.32,575.4L456.35,577.12L455.14,577.91L454.54,577.38L455.14,575.8L453.57,575.01L454.54,573.42L454.54,571.84L453.69,570.78L452.48,569.46L452.11,568.41Z M452.11,576.46L453.93,577.91L452.72,579.76L451.26,580.82L450.42,581.61L449.81,583.59L448.23,584.51L446.05,584.12L444.6,583.46L445.81,582.14L447.39,580.95L449.45,579.76L450.42,578.7L451.26,576.99L452.11,576.46Z M401.57,524.06L403.39,523.53L405.33,524.19L405.57,526.3L406.66,527.36L408.24,526.04L409.81,524.98L411.87,525.77L413.69,526.43L416.12,527.49L418.06,528.15L419.51,529.6L420.96,530.79L421.93,531.71L421.33,532.9L422.42,533.82L423.99,535.67L425.45,536.86L423.39,536.6L421.21,535.8L419.75,533.96L417.93,533.03L416.72,533.96L415.75,535.14L413.69,535.01L411.87,533.69L410.06,533.96L411.03,532.24L410.3,530.39L408,529.07L405.81,528.28L404,528.28L403.75,526.83L405.21,526.04L403.15,525.9L401.57,524.06Z M422.78,530.39L425.21,530.26L427.39,528.68L427.02,530.13L425.21,531.18L422.78,530.39Z M430.66,530.66L431.87,531.58L431.39,532.11Z M436.36,535.14L437.69,535.94L436.72,536.07Z M444.72,542.8L445.57,543.72L444.96,543.72Z M441.57,549.66L444.6,551.78L444.96,552.44L442.17,550.85Z M457.69,546.1L459.26,546.36L458.54,547.02Z" fill="#fff"/>
<path d="M231.89,474.16L233.71,474.03L235.16,475.08L236.38,475.35L237.47,474.56L240.13,474.56L241.95,473.37L243.04,471.92L242.44,470.86L243.65,469.14L245.47,468.35L246.68,467.16L246.56,466.11L247.89,465.58L249.47,465.98L251.04,465.84L252.13,465.18L253.47,464.39L255.04,464.92L255.53,466.37L257.1,467.56L258.31,468.48L259.77,469.14L261.59,470.07L262.19,471.52L261.83,472.84L262.8,472.58L263.53,471.52L262.92,470.46L263.4,469.54L265.1,470.33L264.98,469.41L263.16,468.48L262.07,467.69L260.37,467.16L259.28,465.58L257.95,464.66L257.71,463.2L259.28,462.68L259.4,463.73L260.5,463.34L261.22,464.66L262.8,465.58L264.37,466.5L265.83,467.56L266.43,468.48L266.31,469.8L267.4,470.99L268.49,472.31L269.1,474.42L270.07,474.82L270.92,474.82L270.92,473.24L272.01,473.1L271.28,472.18L270.43,470.86L270.55,469.67L271.65,470.33L272.37,469.28L274.31,469.01L275.28,469.54L274.55,470.07L274.68,471.26L275.52,472.31L275.89,473.9L276.98,474.56L278.55,475.22L280.01,474.42L282.19,475.35L284.01,475.08L285.95,474.69L286.67,474.56L286.31,476.54L286.31,477.46L285.34,479.31L284.86,481.02L284.37,481.68L285.1,484.06L285.34,486.04L287.04,488.68L287.89,490.26L289.46,492.64L290.19,494.88L291.28,497.26L293.1,499.5L294.55,501.88L294.79,503.86L295.4,506.24L297.34,506.1L299.76,505.05L301.95,504.52L304.61,502.94L306.19,501.22L308.25,500.56L309.94,499.5L311.52,498.18L312.85,497.52L313.1,495.94L314.91,494.62L315.28,493.3L313.82,491.85L311.88,491.32L311.16,490L311.16,488.28L310.43,489.34L308.85,490.92L306.43,491.19L305.34,490.92L305.34,488.94L304.61,488.68L304.37,490.26L303.64,489.21L303.52,487.76L302.19,486.44L301.22,484.72L300.73,483.4L301.95,483L303.4,483.14L304.37,484.85L305.82,486.44L307.64,487.76L309.46,487.76L311.28,487.23L312.25,489.21L314.31,489.47L317.34,489.74L319.76,489.6L322.19,489.47L323.64,489.6L324.37,491.06L325.46,491.85L327.03,492.9L326.43,493.7L328,495.54L330.06,495.02L330.79,493.7L331.15,495.94L331.03,497.92L331.76,501.22L332.73,503.86L333.58,506.5L334.67,508.48L335.4,510.86L336.73,512.31L337.58,511.25L338.79,510.72L339.52,509.14L340.12,505.84L339.88,502.94L341.58,501.48L342.79,500.56L345.21,497.92L347.64,496.34L348.24,494.75L350.06,494.36L351.88,493.96L353.46,492.9L354.3,494.88L355.03,496.6L356.73,498.58L357.33,500.56L357.09,502.01L358.55,502.14L360.36,500.82L361.21,501.88L361.33,503.86L362.18,506.5L362.3,509.14L361.94,511.78L362.42,512.7L364.24,514.42L364.48,516.4L365.58,519.17L367.03,520.36L368.24,521.15L369.09,521.02L368.24,519.3L368.12,517.32L367.03,515.34L366.06,514.02L364.61,513.36L364,511.78L363.15,510.72L363.03,508.74L363.88,507.16L364.24,505.31L365.21,505.44L366.42,506.63L367.51,507.56L368.36,509.01L369.94,509.54L369.82,511.38L370.67,510.86L372.12,509.27L373.45,508.74L375.03,507.69L375.27,505.84L374.79,502.94L373.33,500.96L371.88,499.37L371.03,497.92L371.27,496.6L372.48,495.28L373.94,494.49L375.51,494.62L375.88,496.07L376.6,496.07L376.73,494.88L378.54,494.22L380.36,493.56L381.57,493.17L384,492.64L385.57,491.32L387.39,489.34L388.24,487.36L390.06,485.38L390.54,483.66L389.69,482.74L390.54,482.08L389.45,480.36L388.6,478.12L387.39,476.8L388.6,475.48L391.15,474.29L390.91,473.63L389.21,473.1L387.03,473.76L385.82,472.44L385.57,471.52L387.27,470.86L389.45,469.14L390.91,469.8L389.69,471.65L391.27,470.86L393.45,470.33L394.66,471.12L394.3,473.1L396.12,473.76L395.88,476.14L395.88,477.46L397.33,477.2L399.39,476.54L399.63,474.42L398.54,472.44L397.33,470.86L398.3,470.2L400,469.01L400.12,467.82L401.57,466.9L403.39,465.98L404.6,466.5L406.78,464.92L408.6,462.94L410.42,460.7L411.87,458.98L413.09,457L414.06,454.1L413.09,452.64L411.27,451.72L409.45,451.98L408.84,451.06L407.03,450.8L408.84,449.08L411.27,447.36L413.69,445.65L416.12,444.72L419.75,444.59L423.39,444.46L427.02,445.12L430.05,444.46L432.48,442.22L436.11,441.42L437.93,443.14L440.36,441.42L442.17,440.5L440.6,442.48L439.14,444.46L436.11,446.44L433.69,446.84L432.24,448.42L431.51,451.06L431.87,453.96L432.72,455.68L434.3,454.62L435.02,453.04L436.72,451.06L439.14,450.4L439.51,448.42L440.6,446.7L440.11,445.38L442.17,443.93L444.6,443.54L448.84,443.8L451.26,442.48L454.29,441.42L457.32,440.63L460.11,440.5L459.75,438.12L457.93,437.6L460.35,437.07L462.17,436.54L464.6,436.41L466.41,437.86L469.44,437.86L471.26,436.54L473.44,435.88L470.66,434.56L467.02,434.16L465.2,432.98L460.96,431.92L457.32,431.13L452.48,430.73L449.45,430.47L446.42,431.26L441.57,431L437.93,431.26L436.72,429.94L433.08,429.28L427.02,429.41L423.39,427.96L418.54,427.43L413.69,427.04L411.27,428.62L406.42,428.62L402.78,429.02L399.75,429.28L398.54,427.3L395.51,425.98L390.66,426.64L385.82,425.98L380.36,425.58L376.12,425.32L379.15,423.34L380.36,422.28L373.7,421.62L368.85,420.44L365.21,421.89L360.36,422.68L354.3,423.34L348.24,424L347.03,425.45L342.18,425.85L340.37,427.3L341.58,428.36L337.94,427.7L335.52,427.96L333.7,426.9L331.28,428.62L332.49,430.6L332.12,432.58L333.09,433.5L331.88,434.82L329.46,435.48L330.67,432.58L331.28,429.94L330.67,427.04L327.64,426.64L325.22,428.62L323.76,429.94L324.25,431.92L325.82,432.84L322.79,432.05L320.97,431.52L316.73,430.86L315.88,432.45L311.88,432.45L308.85,432.98L307.04,432.18L303.4,433.24L299.16,433.5L297.95,434.82L296.37,433.9L295.89,432.58L295.16,435.22L292.49,435.62L291.64,437.46L288.86,438.12L287.28,438.65L285.22,437.99L284.61,436.14L282.8,434.96L285.22,434.82L289.46,435.75L292.13,434.82L292.73,433.5L290.07,432.58L286.43,431.66L282.8,431.26L280.37,430.2L277.95,429.41L274.31,429.28L271.28,429.81L268.25,430.6L265.22,431.13L262.19,432.18L260.37,433.5L258.56,435.22L257.34,437.2L255.53,438.26L253.47,439.44L250.68,440.37L248.86,441.42L248.86,443.8L249.47,445.12L251.04,446.31L252.86,446.18L254.68,445.12L255.77,444.06L256.37,445.12L256.86,446.44L257.95,448.42L258.43,449.74L260.01,449.74L261.95,448.95L262.8,447.1L263.4,445.52L265.59,444.06L263.77,442.74L264.01,440.5L266.43,439.05L268.49,437.46L269.83,436.14L272.49,436.14L273.46,437.2L271.28,438.52L268.86,440.1L268.86,442.48L270.07,443.8L273.1,443.54L276.13,443.14L278.55,443.8L277.1,444.33L274.31,444.46L271.28,444.86L271.4,445.78L272.49,447.1L270.68,447.76L269.22,446.97L268.25,448.42L268.25,450.14L266.8,451.19L265.34,450.8L263.4,450.8L260.13,451.72L257.95,451.19L256.13,451.72L254.92,451.06L255.89,449.34L255.4,448.42L255.65,446.97L253.71,447.63L252.74,448.42L252.74,450L253.34,451.72L251.53,452.25L249.47,452.64L248.5,453.17L247.41,454.89L245.83,455.55L244.74,455.94L244.62,456.87L243.04,457.53L241.35,457.79L240.62,457.53L240.98,458.72L239.16,458.58L237.1,458.98L237.47,459.9L239.53,460.43L240.38,461.22L241.35,462.28L241.35,464.13L240.74,465.71L238.56,465.58L235.53,465.45L233.1,465.32L231.65,466.24L232.13,467.82L232.26,469.54L231.41,471.26L231.53,472.18L232.13,472.84L231.89,474.16Z M236.01,456.87L237.35,456.6L238.8,456.21L240.62,456.08L243.16,455.94L244.5,455.42L243.53,455.02L244.86,453.57L243.28,453.04L242.92,452.25L242.07,451.06L240.98,450.14L240.25,449.08L238.92,448.95L240.01,447.76L240.5,446.97L238.19,446.84L239.04,445.65L236.74,445.65L235.77,446.97L235.29,448.16L236.38,449.21L236.74,450.53L238.56,450.53L239.16,451.72L239.04,452.51L237.47,452.64L237.83,453.57L236.5,454.62L238.68,455.15L237.59,455.55L236.01,456.87Z M235.41,454.1L235.41,452.64L236.01,451.06L235.29,450.14L233.59,450L232.5,450.8L230.68,451.46L231.16,452.64L230.8,454.1L230.44,454.76L232.5,454.89L234.32,454.23L235.41,454.1Z M253.22,466.37L254.31,466.37L254.19,468.22L253.34,467.82Z M252.74,469.01L254.44,468.75L254.44,471.26L253.1,471.52Z M257.95,472.84L261.59,472.58L261.22,474.42L258.56,473.63Z M271.4,476.14L274.55,476.54L272.86,476.93L271.4,476.54Z M281.95,476.8L284.61,476.01L283.64,477.06L282.19,477.2Z M245.71,470.73L246.8,470.46L246.44,471.12Z M256.01,449.48L257.95,449.08L257.83,450.4L256.13,450.4Z M264.86,446.57L265.83,446.7L264.98,447.76Z M255.89,417.93L259.77,417.66L264.62,417.27L270.68,416.87L275.52,417.4L271.89,418.32L268.25,419.25L265.22,420.7L262.8,421.89L260.37,420.7L257.34,419.12L255.89,417.93Z M298.55,416.74L305.82,416.08L313.1,415.68L320.37,416.34L313.1,417.27L303.4,417.4Z M305.22,428.62L307.64,426.9L310.07,424.92L313.1,423.34L319.16,422.28L325.82,421.49L324,422.55L317.94,424L313.1,425.58L310.67,427.56L312.49,429.68L308.85,429.68L305.22,428.62Z M358.55,418.46L361.58,416.48L367.64,418.06L370.06,419.64L364,420.04L359.76,419.38Z M408.84,422.94L413.69,422.42L419.75,423.34L425.21,423.6L419.75,424.26L414.9,425.58L410.66,424.4Z M459.14,428.62L462.78,428.75L463.99,429.28L460.35,429.54Z M301.58,431.26L303.4,431.92L301.95,432.32Z M414.9,451.32L416.12,452.78L416.48,455.02L417.09,457.66L418.18,458.32L416.36,460.3L416.72,461.49L415.75,462.28L414.9,460.96L415.03,458.32L414.66,455.02L414.42,453.3L414.9,451.32Z M412.48,468.22L412.84,466.5L414.18,465.84L414.54,463.07L416.12,464.26L418.9,464.52L419.27,465.84L417.33,466.37L416.36,467.56L414.3,466.9L413.69,467.96L412.48,468.22Z M414.18,468.35L414.9,470.46L414.3,472.44L413.69,474.16L413.45,475.74L412.24,476.67L410.9,477.2L408.84,477.33L408.6,477.72L407.39,478.78L406.42,477.72L405.21,477.33L403.39,478.12L401.57,478.25L401.57,477.33L403.51,476.27L405.45,476.01L407.39,476.01L408.48,474.42L409.21,473.5L410.66,473.76L411.87,472.18L412.48,470.46L412.48,469.14L414.18,468.35Z M400.36,478.65L401.57,478.25L402.66,479.18L402.06,481.42L401.09,481.95L400.6,480.5L400,479.31L400.36,478.65Z M403.27,478.52L404.84,477.72L406.06,478.12L405.57,479.04L404,479.7L403.27,478.52Z M390.06,489.74L390.54,490.53L389.69,492.9L389.21,493.96L388.36,492.64L389.21,490.53L390.06,489.74Z M374.54,497.52L375.88,496.6L377.33,496.86L376.6,498.58L375.27,498.98L374.54,497.52Z M339.76,510.2L341.21,511.52L341.94,513.36L341.21,514.82L340,515.08L339.52,513.1L339.76,510.2Z M388.97,498.58L390.91,498.71L391.03,500.82L390.18,502.14L390.42,504.26L391.88,504.65L393.09,506.1L392.24,505.84L390.66,504.78L389.45,504.92L388.97,503.99L388.36,503.2L388.12,501.48L388.72,500.16L388.97,498.58Z M390.54,507.42L392,507.82L391.88,509.8L391.27,510.46L390.66,509.01Z M392.24,509.14L393.09,508.22L393.21,509.54L392.36,510.33Z M393.45,506.5L394.66,506.5L395.15,508.48L394.3,509.8L394.06,508.08Z M388.6,505.31L390.06,505.44L389.69,506.76Z M390.66,513.76L391.03,512.57L392.48,511.65L394.06,511.52L394.91,510.06L395.88,511.38L396.12,513.5L395.63,514.68L394.78,515.48L394.3,514.68L393.09,514.42L392.85,512.97L391.63,513.36L390.66,513.76Z M384.85,511.91L386.42,510.46L387.76,508.08L387.39,509.4L385.82,511.38Z M374.91,521.02L375.76,520.36L377.57,521.02L377.94,519.7L379.76,518.78L380.97,517.06L382.66,516.4L384.36,513.76L385.45,514.68L387.27,516.14L385.82,517.32L385.21,518.38L385.82,520.1L386.91,521.68L385.57,522.08L385.21,523.92L384,525.38L383.76,527.62L381.82,528.41L380.36,527.36L378.3,527.36L376.36,526.56L376.12,524.72L375.03,523.4L374.91,521.02Z M358.3,515.74L360.36,516.14L361.58,517.46L363.64,518.78L364.97,520.1L366.79,521.68L368.36,523L369.45,525.38L371.27,526.7L371.03,528.94L371.03,530.66L369.58,530.52L368.24,529.47L366.67,528.02L365.21,526.3L364.36,524.32L362.91,522.6L362.3,520.76L360.73,519.3L359.15,517.72L358.3,515.74Z M370.3,531.98L371.51,530.92L373.45,531.32L374.54,531.98L376.73,531.84L377.94,531.84L379.39,532.24L381.45,533.16L381.45,534.35L379.15,534.09L376.73,533.69L374.3,533.3L371.88,532.77L370.3,531.98Z M381.57,533.82L383.03,533.82L382.79,534.62L381.7,534.48Z M383.39,533.96L384.24,534.09L383.88,534.75L383.27,534.62Z M384.36,534.22L386.91,533.96L387.03,534.48L384.6,534.88Z M388.12,534.22L391.63,533.82L391.63,534.48L388.24,534.75Z M387.03,535.54L389.21,535.94L388.48,536.46Z M392.48,536.6L394.3,534.88L396.97,534.09L394.91,535.54L393.09,536.46Z M387.51,530.39L387.76,527.62L386.79,526.56L387.39,524.58L388,522.74L389.21,521.28L391.88,521.81L393.69,521.42L394.54,520.89L393.69,522.47L391.88,522.34L389.45,522.34L388.48,523L388.36,524.19L390.06,524.19L392.24,524.06L391.75,524.72L390.3,525.51L391.15,527.22L392.12,528.81L391.39,530.13L390.42,529.34L390.06,528.28L389.33,526.56L388.6,526.83L388.72,529.2L388.72,530.39L387.51,530.39Z M397.33,520.62L397.94,520.1L398.78,521.02L397.94,522.34L398.54,523.79L397.69,523.26L397.33,521.68Z M397.94,526.83L400.36,526.83L401.33,527.75L399.75,527.62L397.94,527.49Z M395.51,527.22L396.97,527.36L396.36,528.02Z" fill="#fff"/>
<g clip-path="url(#clip_nam)">
<path d="M71.91,409.48L182.2,409.48L182.2,470.2L71.91,470.2Z" fill="#a9b5d9"/>
<path d="M87.66,458.32L93.36,458.32L127.42,458.32L128.02,457.79L128.27,458.72L131.3,459.38L134.33,459.64L135.78,459.24L140.02,461.22L141.6,462.28L142.81,463.2L143.17,465.58L142.45,467.56L144.63,467.3L147.05,466.5L147.05,465.71L149.72,465.45L150.32,464.66L152.26,463.6L156.14,463.6L157.6,462.41L157.96,461.36L158.93,460.43L160.14,460.56L160.63,462.54L161.6,463.86L165.23,466.24L165.23,491.32L147.05,491.58L142.2,490.92L133.72,487.36L125.11,488.81L122.57,488.02L122.21,486.57L120.63,484.46L118.57,483.66L117.72,484.72L116.15,483.93L113.84,481.16L111.66,481.02L111.66,481.68L108.27,481.68L103.66,480.1L100.87,480.1L96.15,482.08L87.66,470.2Z" fill="#6781b8"/>
<path d="M71.91,427.96L71.91,443.4L74.09,443.67L76.15,445.25L77.6,444.46L79.18,444.33L81,445.78L82.82,447.76L85.24,449.08L85,450.8L81.6,451.19L73.12,449.08L48.88,457L22.22,458.32L22.22,427.96Z" fill="#6781b8"/>
<path d="M47.67,492.64L56.15,492.64L56.15,499.24L47.67,499.24Z" fill="#6781b8"/>
</g>
<g clip-path="url(#clip_sam)">
<path d="M139.78,504.52L206.44,504.52L206.44,599.56L139.78,599.56Z" fill="#a9b5d9"/>
<path d="M153.96,506.1L155.17,508.35L154.32,510.72L155.05,513.23L157.84,513.76L160.99,514.82L161.23,518.51L161.6,520.62L163.41,521.94L165.23,521.02L165.23,517.72L167.66,517.59L169.23,516.14L170.08,516.27L170.32,517.19L170.2,519.96L171.41,521.28L173.72,520.36L174.93,520.49L176.62,519.96L178.93,520.1L180.14,517.59L182.2,514.42L174.93,511.12L170.08,505.84L153.96,505.18Z" fill="#ffffff"/>
<path d="M166.93,552.3L167.41,550.06L167.9,548.87L171.17,548.48L172.26,549.53L172.63,552.17L175.29,552.44L175.66,554.68L176.99,554.81L176.62,556.79L175.17,559.04L173.72,559.17L171.78,558.9L172.99,556.53L170.08,554.68L166.93,552.3Z" fill="#ffffff"/>
<path d="M172.99,562.86L174.93,563.66L176.75,565.24L178.08,567.48L178.56,569.86L171.53,569.2L172.26,565.9Z" fill="#ffffff"/>
<path d="M145.36,527.49L147.05,529.6L147.66,527.75L149.72,526.56L151.29,524.98L151.66,523.13L153.11,524.32L154.32,526.04L157.84,526.56L157.96,528.54L154.45,529.86L153.35,532.64L154.32,535.14L155.17,536.07L157.23,535.67L157.23,537.52L158.57,537.39L159.54,537.65L162.08,536.07L163.66,535.94L163.54,538.44L165.84,539.63L167.9,540.82L169.6,541.22L169.84,544.38L172.14,544.52L172.02,545.84L173.11,547.02L172.26,549.53L171.17,548.48L167.9,548.87L167.41,550.06L166.93,552.3L164.87,553.1L163.78,552.17L162.44,551.78L161.35,553.1L159.9,555.34L160.02,558.51L158.2,562.86L157.96,566.96L157.35,570.52L156.75,574.22L155.9,578.44L156.14,582.14L154.93,587.02L155.17,589.92L156.14,591.64L159.9,592.04L159.66,595.47L162.2,596L161.6,598.24L145.84,598.24L145.84,549.4L140.99,538.84L140.99,529.6L143.42,526.96Z" fill="#6781b8"/>
<path d="M146.45,520.89L149.48,522.47L151.66,523.13L151.29,524.98L149.72,526.56L147.66,527.75L147.05,529.6L145.36,527.49L142.81,526.96L142.81,521.02Z" fill="#ffffff"/>
<path d="M170.08,511.38L169.23,516.14L170.08,516.27L170.32,517.19L170.2,519.96L171.41,521.28L173.72,520.36L173.35,518.51L172.5,517.72L173.47,516.14L173.59,514.68L171.9,512.44Z" fill="#a9b5d9"/>
</g>
<g clip-path="url(#clip_afr)">
<path d="M220.38,495.54L227.04,494.88L227.04,492.9L228.26,492.11L228.26,488.68L232.26,488.68L232.26,485.12L235.53,483.93L238.44,482.48L239.29,480.63L241.35,480.5L240.74,478.78L240.13,476.67L240.38,474.16L230.68,474.16L219.77,486.04Z" fill="#2b559c"/>
<path d="M232.26,486.83L232.26,485.12L235.53,483.93L238.44,482.48L239.29,480.63L241.35,480.5L240.74,478.78L240.13,476.67L240.38,472.84L253.34,472.84L252.86,474.82L252.86,477.06L251.89,478.12L253.71,480.63L254.31,483.14L254.8,486.04L254.31,488.28L257.22,491.98L252.5,495.02L249.83,497.26L246.68,497.92L246.68,496.86L244.25,495.54L236.98,490L232.26,486.83Z" fill="#6781b8"/>
<path d="M273.1,480.1L273.1,493.96L280.86,493.96L280.86,494.22L288.25,494.22L285.83,486.3L286.43,484.06L285.1,484.06L284.25,481.68L284.61,480.1Z" fill="#a9b5d9"/>
<path d="M282.8,512.44L284.13,511.52L284.37,509.01L285.22,507.29L286.55,506.24L287.04,504.12L288.73,503.33L290.19,503.73L291.52,503.99L293.34,505.44L294.19,506.63L293.46,508.48L294.79,508.61L294.55,509.54L295.64,510.72L299.64,512.44L300.85,512.44L297.34,516.4L295.52,516.53L293.58,517.85L292.13,517.46L290.67,518.51L288.98,518.25L287.52,517.19L286.31,516.93L286.19,516L284.86,514.29L283.77,513.23L282.8,512.44Z" fill="#a9b5d9"/>
<path d="M293.7,537.52L305.82,537.52L305.82,558.64L293.7,558.64Z" fill="#a9b5d9"/>
</g>
<g clip-path="url(#clip_eur)">
<path d="M280.37,427.3L277.95,430.86L274.31,430.73L274.07,431.92L271.28,432.32L267.77,431.79L271.52,433.37L271.28,435.62L272.01,436.14L268.25,439.84L266.56,443.4L267.28,447.76L266.43,450.93L270.43,451.19L271.28,451.85L271.77,453.44L271.4,455.02L271.89,455.94L270.31,457.66L269.71,459.11L270.68,459.64L272.98,460.04L275.04,459.24L276.86,461.49L276.98,462.94L278.8,463.34L278.19,465.58L277.1,467.56L274.8,467.82L274.68,468.88L274.31,469.41L273.95,478.12L228.26,478.12L228.26,426.64Z" fill="#a9b5d9"/>
<path d="M262.19,461.88L265.83,462.02L268.25,462.15L270.07,464.13L270.55,465.98L269.95,467.16L270.68,468.48L268.25,469.14L267.77,470.6L266.07,470.46L265.59,467.16L262.8,465.84L261.71,463.73L262.19,461.88Z" fill="#ffffff"/>
<path d="M233.71,457.66L245.83,457.66L245.1,455.61L245.95,454.89L246.44,442.48L231.89,442.48L236.38,450.8L235.89,452.38L236.01,454.36Z" fill="#6781b8"/>
<path d="M229.47,455.68L235.89,454.62L235.77,452.38L236.13,451.19L235.16,451.59L233.95,451.46L232.98,451.06L233.95,450.27L234.32,449.61L229.47,449.61Z" fill="#a9b5d9"/>
<path d="M235.53,451.72L235.16,451.59L233.95,451.46L232.98,451.06L233.95,450.27L234.32,449.74L236.5,449.87L236.38,451.19Z" fill="#6781b8"/>
<path d="M236.13,458.45L240.38,457L244.74,455.48L245.95,455.55L247.89,457L249.83,457.66L252.74,458.32L252.01,460.17L251.16,460.56L250.19,461.88L251.28,462.41L251.04,464.52L252.01,465.18L251.89,466.37L246.68,467.1L244.86,466.9L242.07,466.5L240.62,465.78L239.65,464.92L235.77,460.96Z" fill="#2b559c"/>
<path d="M252.98,466.11L254.56,466.11L254.56,468.48L252.98,468.48Z" fill="#2b559c"/>
<path d="M280.37,427.3L277.95,430.86L277.34,432.58L279.16,433.77L278.07,434.82L279.28,436.28L278.8,437.46L279.77,438.52L280.98,439.97L278.55,441.82L276.49,443.14L276.86,444.59L276.01,446.97L276.61,448.02L276.98,448.82L280.25,449.61L280.74,451.46L282.43,452.51L280.86,452.91L281.34,454.23L284.49,454.62L285.83,456.47L288.98,457.13L291.28,457.53L291.04,459.77L289.1,460.83L286.19,461.36L283.4,462.02L282.07,463.2L283.4,464.52L286.43,463.73L288.86,464.52L291.16,465.71L294.31,465.98L297.58,466.77L299.28,467.82L300.73,468.62L301.7,467.82L300.37,466.24L300.37,465.18L299.52,464.26L300.37,462.81L302.19,461.75L301.46,461.49L302.19,461.09L300.98,459.9L299.89,459.38L299.16,458.98L300.37,456.47L301.7,457.13L304.37,454.76L306.43,455.02L308.85,455.68L310.31,456.21L313.7,455.55L315.04,456.21L317.22,455.94L317.46,455.28L315.76,454.49L316.73,453.04L316.97,451.85L319.4,451.46L321.82,451.32L325.46,450.4L328.61,450L329.09,451.59L331.76,451.85L335.52,451.46L337.21,452.64L339.76,455.94L343.88,455.68L346.18,457.53L348.61,458.06L351.4,457.13L354.55,455.94L357.46,457L361.58,457L361.94,454.36L366.55,455.15L366.79,456.21L369.45,456.6L372.12,456.6L374.3,457.79L376.97,458.06L379.88,457.4L382.06,456.74L384.24,457.26L385.57,457.66L387.39,456.74L388.36,453.57L389.45,452.64L392.48,452.38L395.39,453.17L397.33,457L399.75,457.79L401.09,458.58L403.39,460.04L406.18,459.11L406.06,460.56L404.12,463.47L401.81,463.86L401.57,466.24L401.09,467.03L402.18,468.22L408.84,464.92L412.48,462.02L414.9,462.54L420.12,465.32L424.6,464.92L479.14,464.92L479.14,409.48L280.37,409.48Z" fill="#6781b8"/>
<path d="M266.43,451.32L270.43,451.19L270.31,450.27L268.25,449.87L266.43,450.4Z" fill="#6781b8"/>
<path d="M396.72,483.4L420.96,483.4L420.96,465.45L419.27,465.05L416.12,462.54L413.45,462.54L411.27,467.56L406.42,472.84L399.75,476.4L398.3,478.78Z" fill="#6781b8"/>
<path d="M274.31,467.3L276.13,467.43L277.34,467.16L282.8,466.77L286.43,467.3L288.86,468.35L293.1,468.09L294.43,468.22L295.52,468.75L295.76,470.07L297.1,470.6L296.37,471.52L296.61,472.84L297.1,473.9L294.19,474.03L292.25,474.03L289.46,474.42L287.28,474.56L287.16,475.22L286.67,475.74L285.83,476.01L274.31,476.01Z" fill="#2b559c"/>
<path d="M285.83,474.16L287.28,474.56L289.46,474.42L292.25,474.03L294.19,474.03L292.86,474.95L292.49,477.59L289.83,478.91L290.31,480.5L287.64,481.42L288.86,482.74L288.25,483.4L286.43,484.46L285.1,484.06L283.77,481.42L284.61,478.12L285.83,474.16Z" fill="#a9b5d9"/>
<path d="M284.61,484.32L285.1,484.19L286.43,484.46L288.25,483.4L288.86,482.74L287.64,481.42L290.31,480.5L293.7,481.82L296.98,484.46L299.16,484.59L300.61,485.38L301.58,485.38L303.76,488.28L304.37,490.4L305.22,490.66L305.34,491.32L306.55,492.77L309.7,493.04L310.31,493.96L309.46,496.6L305.82,497.92L302.19,498.45L300.37,500.43L298.92,500.3L296.13,500.03L295.16,501.09L294.19,501.48L288.86,497.92L282.8,486.04Z" fill="#a9b5d9"/>
<path d="M289.83,478.91L292.49,477.59L292.86,474.95L294.19,474.03L297.1,473.9L297.95,475.48L298.79,476.54L297.95,478.12L298.55,479.31L300.73,481.02L300.61,482.21L301.7,483.53L300.85,483.53L300.61,483.53L299.16,484.59L296.98,484.46L293.7,481.82L290.31,480.5L289.83,478.91Z" fill="#6781b8"/>
<path d="M297.1,470.6L299.16,471.65L300.98,470.73L302.07,472.31L304.61,474.82L308.13,474.42L308.13,473.76L310.67,472.71L312.25,472.58L314.67,473.5L316.97,474.69L316.13,478.12L316.49,480.76L317.7,482.08L316.61,483.66L318.91,485.64L319.52,487.62L317.46,489.74L317.1,491.06L312.61,489.74L311.64,488.02L308.25,488.68L304.61,486.96L302.92,483.8L301.7,483.53L300.61,482.21L300.73,481.02L298.55,479.31L297.95,478.12L298.79,476.54L297.95,475.48L297.1,473.9L296.61,472.84L296.37,471.52L297.1,470.6Z" fill="#a9b5d9"/>
<path d="M306.43,467.56L308.25,467.16L310.07,468.48L311.88,468.48L313.7,466.64L315.52,467.3L317.34,468.48L318.55,470.2L320.97,471.65L323.52,472.84L324.97,473.9L325.22,472.18L325.7,470.86L328.25,470.2L328.49,469.01L326.79,468.22L328.85,467.16L327.88,466.37L331.88,465.98L334.31,466.37L338.55,466.5L340,467.3L337.34,468.75L334.91,469.67L332.25,470.46L332.25,472.18L333.58,473.76L331.28,474.29L329.09,475.35L328.85,478.12L327.03,479.44L326.79,480.89L323.4,482.08L323.16,483.53L318.55,484.19L316.61,483.66L317.7,482.08L316.49,480.76L316.13,478.12L316.97,474.69L314.67,473.5L312.25,472.58L310.67,472.71L308.13,473.76L307.64,471.12L306.43,470.2L306.43,467.56Z" fill="#a9b5d9"/>
<path d="M317.46,489.74L319.52,487.62L318.91,485.64L316.61,483.66L318.55,484.19L323.16,483.53L323.4,482.08L326.79,480.89L327.03,479.44L328.85,478.12L329.09,475.35L331.28,474.29L333.58,473.76L334.67,474.42L337.09,476.14L336.12,476.8L332.49,477.2L333.09,479.7L333.22,481.95L331.28,483.53L328.85,486.17L327.64,487.36L328.61,489.08L328.85,490.79L326.19,490.92L325.46,492.11L322.79,491.32L317.1,491.06Z" fill="#6781b8"/>
<path d="M325.46,492.11L326.19,490.92L328.85,490.79L328.61,489.08L327.64,487.36L328.85,486.17L331.28,483.53L333.22,481.95L333.09,479.7L332.49,477.2L336.12,476.8L337.09,476.14L338.55,477.72L338.18,480.1L339.15,482.08L340.97,483.14L340,484.98L343.4,486.7L345.82,487.76L349.46,488.15L349.58,486.17L350.43,486.96L351.64,487.62L354.3,487.49L354.43,486.3L356.73,484.72L359.15,484.19L360.73,485.78L360.36,487.1L358.18,488.02L357.46,490L357.58,491.32L355.88,491.32L355.52,493.7L354.67,491.72L353.33,491.72L354.55,490L351.64,489.6L351.64,488.68L349.94,488.15L349.46,490.4L350.43,492.38L350.67,494.49L350.06,495.94L344.61,504.52L340.49,508.74L338.91,510.99L337.34,513.23L334.91,513.23L330.06,509.8L324.61,496.6L325.46,492.11Z" fill="#a9b5d9"/>
<path d="M332.25,470.46L332.25,472.18L333.58,473.76L334.67,474.42L337.09,476.14L338.55,477.72L338.18,480.1L339.15,482.08L340.97,483.14L344.61,484.85L347.03,486.04L349.58,486.17L350.43,486.96L350.67,485.78L353.7,486.04L354.43,486.3L356.73,484.72L359.15,484.19L360.73,485.78L362.18,486.57L362.42,488.94L361.09,490.66L362.55,491.45L363.03,493.83L365.45,495.02L366.18,493.43L367.03,493.17L368.85,493.04L370.67,492.38L372.12,492.9L372,493.96L373.7,494.62L373.7,499.9L386.42,499.9L386.42,491.32L387.76,491.32L390.66,487.36L393.09,482.08L393.09,470.86L393.57,470.07L395.51,468.22L397.94,467.56L400.12,466.24L401.09,467.03L401.57,466.24L401.81,463.86L404.12,463.47L406.06,460.56L406.18,459.11L403.39,460.04L401.09,458.58L399.75,457.79L397.33,457L395.39,453.17L392.48,452.38L389.45,452.64L388.36,453.57L387.39,456.74L385.57,457.66L384.24,457.26L383.39,458.58L386.42,459.64L388,461.36L385.21,461.62L383.39,462.68L380.6,463.86L378.3,463.6L377.94,465.45L376.12,466.64L372.48,467.03L370.06,468.09L364,466.64L359.76,466.5L357.94,464.52L353.09,463.34L352.85,460.96L349.46,458.98L348.61,458.06L346.67,459.11L346.43,460.83L343.4,460.7L342.55,462.94L339.76,463.6L340.73,465.98L340,467.3L337.34,468.75L334.91,469.67L332.25,470.46Z" fill="#a9b5d9"/>
</g>
<path d="M277.83,468.48L280.74,468.62L283.16,467.56L285.46,467.56L287.4,468.48L289.46,469.01L291.28,468.88L293.22,468.09L293.1,466.77L291.28,465.71L289.46,464.52L288.25,464L287.28,463.34L288.61,462.28L289.46,461.36L290.31,460.7L288.25,460.96L285.83,461.62L285.22,462.54L285.83,463.2L284.98,463.86L283.52,464.39L282.31,463.2L283.4,462.41L281.58,461.88L280.37,461.49L279.16,462.54L278.68,463.6L277.71,464.52L277.34,465.58L276.61,466.5L276.74,467.56L277.83,468.48Z M302.19,461.49L304.61,461.09L306.79,461.49L307.28,463.2L304.98,463.34L304.61,464.26L303.76,464.52L305.22,465.98L306.43,466.64L306.43,468.09L307.64,469.14L306.79,470.2L307.64,471.12L308.01,473.76L306.43,474.42L304.61,474.56L302.79,473.5L302.07,472.31L302.43,471.12L302.79,469.8L302.19,468.48L301.34,467.56L300.37,466.24L300.37,465.18L299.52,464.26L300.37,462.81L302.19,461.49Z" fill="#e9e9e7"/>
</g>
<line x1="286.3" y1="477.8" x2="326.6" y2="519" stroke="#000" stroke-width="1.3"/>
<path d="M214.1,432.1 L214.1,410.5 A21.6,21.6 0 0 1 214.77,410.51 Z" fill="#f3ef4e" stroke="#f3ef4e" stroke-width="0.25"/><path d="M214.1,432.1 L214.77,410.51 A21.6,21.6 0 0 1 225.57,413.8 Z" fill="#deded9" stroke="#deded9" stroke-width="0.25"/><path d="M214.1,432.1 L225.57,413.8 A21.6,21.6 0 0 1 227.23,414.95 Z" fill="#4db8a4" stroke="#4db8a4" stroke-width="0.25"/><path d="M214.1,432.1 L227.23,414.95 A21.6,21.6 0 0 1 229.25,416.71 Z" fill="#8b431a" stroke="#8b431a" stroke-width="0.25"/><path d="M214.1,432.1 L229.25,416.71 A21.6,21.6 0 0 1 230.18,417.68 Z" fill="#d9b154" stroke="#d9b154" stroke-width="0.25"/><path d="M214.1,432.1 L230.18,417.68 A21.6,21.6 0 0 1 233.82,440.91 Z" fill="#5abf36" stroke="#5abf36" stroke-width="0.25"/><path d="M214.1,432.1 L233.82,440.91 A21.6,21.6 0 0 1 233.54,441.52 Z" fill="#f4849a" stroke="#f4849a" stroke-width="0.25"/><path d="M214.1,432.1 L233.54,441.52 A21.6,21.6 0 0 1 200.97,449.25 Z" fill="#4a78c5" stroke="#4a78c5" stroke-width="0.25"/><path d="M214.1,432.1 L200.97,449.25 A21.6,21.6 0 0 1 214.1,410.5 Z" fill="#d5145f" stroke="#d5145f" stroke-width="0.25"/>
<path d="M83,521 L83,499.8 A21.2,21.2 0 0 1 85.09,499.9 Z" fill="#deded9" stroke="#deded9" stroke-width="0.25"/><path d="M83,521 L85.09,499.9 A21.2,21.2 0 0 1 86.14,500.03 Z" fill="#4db8a4" stroke="#4db8a4" stroke-width="0.25"/><path d="M83,521 L86.14,500.03 A21.2,21.2 0 0 1 91.17,501.44 Z" fill="#d9b154" stroke="#d9b154" stroke-width="0.25"/><path d="M83,521 L91.17,501.44 A21.2,21.2 0 0 1 104.19,520.21 Z" fill="#5abf36" stroke="#5abf36" stroke-width="0.25"/><path d="M83,521 L104.19,520.21 A21.2,21.2 0 0 1 104.16,522.31 Z" fill="#4a78c5" stroke="#4a78c5" stroke-width="0.25"/><path d="M83,521 L104.16,522.31 A21.2,21.2 0 1 1 83,499.8 Z" fill="#d5145f" stroke="#d5145f" stroke-width="0.25"/>
<path d="M233.2,564.1 L233.2,542.4 A21.7,21.7 0 0 1 254.33,559.14 Z" fill="#5abf36" stroke="#5abf36" stroke-width="0.25"/><path d="M233.2,564.1 L254.33,559.14 A21.7,21.7 0 1 1 233.2,542.4 Z" fill="#d5145f" stroke="#d5145f" stroke-width="0.25"/>
<path d="M331.6,547.6 L331.6,526.4 A21.2,21.2 0 0 1 335.69,526.8 Z" fill="#4a78c5" stroke="#4a78c5" stroke-width="0.25"/><path d="M331.6,547.6 L335.69,526.8 A21.2,21.2 0 0 1 340.89,528.54 Z" fill="#deded9" stroke="#deded9" stroke-width="0.25"/><path d="M331.6,547.6 L340.89,528.54 A21.2,21.2 0 0 1 343.27,529.9 Z" fill="#5abf36" stroke="#5abf36" stroke-width="0.25"/><path d="M331.6,547.6 L343.27,529.9 A21.2,21.2 0 0 1 344.39,530.69 Z" fill="#c23db5" stroke="#c23db5" stroke-width="0.25"/><path d="M331.6,547.6 L344.39,530.69 A21.2,21.2 0 1 1 331.6,526.4 Z" fill="#d5145f" stroke="#d5145f" stroke-width="0.25"/>
<path d="M456.7,488 L456.7,466.2 A21.8,21.8 0 0 1 464.29,467.56 Z" fill="#deded9" stroke="#deded9" stroke-width="0.25"/><path d="M456.7,488 L464.29,467.56 A21.8,21.8 0 0 1 466.65,468.61 Z" fill="#0a0a0a" stroke="#0a0a0a" stroke-width="0.25"/><path d="M456.7,488 L466.65,468.61 A21.8,21.8 0 0 1 478.49,487.35 Z" fill="#8b431a" stroke="#8b431a" stroke-width="0.25"/><path d="M456.7,488 L478.49,487.35 A21.8,21.8 0 0 1 457.99,509.76 Z" fill="#5abf36" stroke="#5abf36" stroke-width="0.25"/><path d="M456.7,488 L457.99,509.76 A21.8,21.8 0 1 1 456.7,466.2 Z" fill="#d5145f" stroke="#d5145f" stroke-width="0.25"/>
<text x="217" y="408.1" font-size="7.7" text-anchor="middle" font-weight="normal" fill="#111" >Europe</text>
<text x="82.7" y="497.8" font-size="7.7" text-anchor="middle" font-weight="normal" fill="#111" >America</text>
<text x="233.4" y="540.8" font-size="7.7" text-anchor="middle" font-weight="normal" fill="#111" >Africa*</text>
<text x="334.7" y="525.5" font-size="7.7" text-anchor="middle" font-weight="normal" fill="#111" >Middle East</text>
<text x="460.5" y="463.1" font-size="7.7" text-anchor="middle" font-weight="normal" fill="#111" >Asia*</text>
<text x="233.4" y="573.5" font-size="10.1" text-anchor="middle" font-weight="bold" fill="#fff" >Lineage</text>
<text x="18.6" y="459.7" font-size="7.7" text-anchor="end" font-weight="normal" fill="#111" >50</text>
<text x="18.6" y="518.1" font-size="7.7" text-anchor="end" font-weight="normal" fill="#111" >0</text>
<text x="18.6" y="591.6" font-size="7.7" text-anchor="end" font-weight="normal" fill="#111" >-50</text>
<text x="120.8" y="610.5" font-size="7.6" text-anchor="middle" font-weight="normal" fill="#111" >-100</text>
<text x="242.8" y="610.5" font-size="7.6" text-anchor="middle" font-weight="normal" fill="#111" >0</text>
<text x="364" y="610.5" font-size="7.6" text-anchor="middle" font-weight="normal" fill="#111" >100</text>
<text x="243.5" y="620.8" font-size="7.7" text-anchor="middle" font-weight="normal" fill="#111" >Longitude</text>
<text transform="translate(6.2,515.3) rotate(-90)" font-size="7.8" text-anchor="middle" fill="#111">Latitude</text>
<text x="22.4" y="563.4" font-size="7.75" text-anchor="start" font-weight="normal" fill="#111" >No. of isolates</text>
<rect x="25.1" y="568.3" width="12.3" height="6.4" fill="#2b559c"/>
<text x="40.4" y="574.2" font-size="7.7" text-anchor="start" font-weight="normal" fill="#111" >50-150</text>
<rect x="25.1" y="580.8" width="12.3" height="6.4" fill="#6781b8"/>
<text x="40.4" y="586.7" font-size="7.7" text-anchor="start" font-weight="normal" fill="#111" >10-49</text>
<rect x="25.1" y="593.1" width="12.3" height="6.4" fill="#a9b5d9"/>
<text x="40.4" y="599" font-size="7.7" text-anchor="start" font-weight="normal" fill="#111" >1-9</text>
<text x="36" y="377.3" font-size="26.5" text-anchor="start" font-weight="bold" fill="#000" >c</text></g>
<g id="legend"><rect x="490.4" y="383.4" width="194.0" height="223.8" fill="#fff" stroke="#111" stroke-width="1.3"/>
<text x="586.9" y="399.9" font-size="15.45" text-anchor="middle" font-weight="normal" fill="#111" >Legends to panels a,b,c</text>
<text x="494.3" y="419.4" font-size="9" text-anchor="start" font-weight="normal" fill="#111" >Source (SOU)</text>
<rect x="500.2" y="426.5" width="9.2" height="9.2" fill="#fcdba1" stroke="#333" stroke-width="0.6"/>
<text x="517.1" y="434" font-size="8.2" fill="#111">Human <tspan font-size="7.5">(<tspan font-style="italic">n</tspan> = 472)</tspan></text>
<rect x="500.2" y="440.2" width="9.2" height="9.2" fill="#f5821f" stroke="#333" stroke-width="0.6"/>
<text x="517.1" y="447.7" font-size="8.2" fill="#111">Environment <tspan font-size="7.5">(<tspan font-style="italic">n</tspan> = 42)</tspan></text>
<rect x="500.2" y="454.2" width="9.2" height="9.2" fill="#5a8f2e" stroke="#333" stroke-width="0.6"/>
<text x="517.1" y="461.7" font-size="8.2" fill="#111">Animal <tspan font-size="7.5">(<tspan font-style="italic">n</tspan> = 14)</tspan></text>
<rect x="500.2" y="468.2" width="9.2" height="9.2" fill="#e9e70f" stroke="#333" stroke-width="0.6"/>
<text x="517.1" y="475.7" font-size="8.2" fill="#111">Food <tspan font-size="7.5">(<tspan font-style="italic">n</tspan> = 2)</tspan></text>
<rect x="500.2" y="482.8" width="9.2" height="9.2" fill="#ffffff" stroke="#333" stroke-width="0.6"/>
<text x="517.1" y="490.3" font-size="8.2" fill="#111">Unknown <tspan font-size="7.5">(<tspan font-style="italic">n</tspan> = 38)</tspan></text>
<text x="494.6" y="514.8" font-size="9" text-anchor="start" font-weight="normal" fill="#111" >Geographic region (GEO)</text>
<rect x="500.2" y="520.7" width="9.2" height="9.2" fill="#6e6bc0" stroke="#333" stroke-width="0.6"/>
<text x="516.2" y="528.2" font-size="8.2" fill="#111">Africa* <tspan font-size="7.5">(<tspan font-style="italic">n</tspan> = 75)</tspan></text>
<rect x="500.2" y="534.4" width="9.2" height="9.2" fill="#e2a21a" stroke="#333" stroke-width="0.6"/>
<text x="516.2" y="541.9" font-size="8.2" fill="#111">America <tspan font-size="7.5">(<tspan font-style="italic">n</tspan> = 127)</tspan></text>
<rect x="500.2" y="548.8" width="9.2" height="9.2" fill="#56b03f" stroke="#333" stroke-width="0.6"/>
<text x="516.2" y="556.3" font-size="8.2" fill="#111">Asia* <tspan font-size="7.5">(<tspan font-style="italic">n</tspan> = 53)</tspan></text>
<rect x="500.2" y="563.1" width="9.2" height="9.2" fill="#0a0a0a" stroke="#333" stroke-width="0.6"/>
<text x="516.2" y="570.6" font-size="8.2" fill="#111">Europe <tspan font-size="7.5">(<tspan font-style="italic">n</tspan> = 202)</tspan></text>
<rect x="500.2" y="576.8" width="9.2" height="9.2" fill="#dc5a1e" stroke="#333" stroke-width="0.6"/>
<text x="516.2" y="584.3" font-size="8.2" fill="#111">Middle East <tspan font-size="7.5">(<tspan font-style="italic">n</tspan> = 97)</tspan></text>
<rect x="500.2" y="590.8" width="9.2" height="9.2" fill="#ffffff" stroke="#333" stroke-width="0.6"/>
<text x="516.2" y="598.3" font-size="8.2" fill="#111">Unknown <tspan font-size="7.5">(<tspan font-style="italic">n</tspan> = 14)</tspan></text>
<text x="609.1" y="417.4" font-size="9" text-anchor="start" font-weight="normal" fill="#111" >Lineage (LIN)</text>
<rect x="619" y="422" width="9.4" height="9.4" fill="#c23db5" stroke="#333" stroke-width="0.6"/>
<text x="633.3" y="429.6" font-size="8.2" fill="#111">L1 <tspan font-size="7.5">(<tspan font-style="italic">n</tspan> = 3)</tspan></text>
<rect x="619" y="436" width="9.4" height="9.4" fill="#deded9" stroke="#333" stroke-width="0.6"/>
<text x="633.3" y="443.6" font-size="8.2" fill="#111">L2 <tspan font-size="7.5">(<tspan font-style="italic">n</tspan> = 31)</tspan></text>
<rect x="619" y="450.3" width="9.4" height="9.4" fill="#0a0a0a" stroke="#333" stroke-width="0.6"/>
<text x="633.3" y="457.9" font-size="8.2" fill="#111">L3 <tspan font-size="7.5">(<tspan font-style="italic">n</tspan> = 1)</tspan></text>
<rect x="619" y="465.2" width="9.4" height="9.4" fill="#4db8a4" stroke="#333" stroke-width="0.6"/>
<text x="633.3" y="472.8" font-size="8.2" fill="#111">L4 <tspan font-size="7.5">(<tspan font-style="italic">n</tspan> = 5)</tspan></text>
<rect x="619" y="481" width="9.4" height="9.4" fill="#8b431a" stroke="#333" stroke-width="0.6"/>
<text x="633.3" y="488.6" font-size="8.2" fill="#111">L5 <tspan font-size="7.5">(<tspan font-style="italic">n</tspan> = 12)</tspan></text>
<rect x="619" y="495.5" width="9.4" height="9.4" fill="#d9b154" stroke="#333" stroke-width="0.6"/>
<text x="633.3" y="503.1" font-size="8.2" fill="#111">L6 <tspan font-size="7.5">(<tspan font-style="italic">n</tspan> = 7)</tspan></text>
<rect x="619" y="509.5" width="9.4" height="9.4" fill="#5abf36" stroke="#333" stroke-width="0.6"/>
<text x="633.3" y="517.1" font-size="8.2" fill="#111">L7 <tspan font-size="7.5">(<tspan font-style="italic">n</tspan> = 90)</tspan></text>
<rect x="619" y="523.8" width="9.4" height="9.4" fill="#f4849a" stroke="#333" stroke-width="0.6"/>
<text x="633.3" y="531.4" font-size="8.2" fill="#111">L8 <tspan font-size="7.5">(<tspan font-style="italic">n</tspan> = 1)</tspan></text>
<rect x="619" y="538.1" width="9.4" height="9.4" fill="#4a78c5" stroke="#333" stroke-width="0.6"/>
<text x="633.3" y="545.7" font-size="8.2" fill="#111">L9 <tspan font-size="7.5">(<tspan font-style="italic">n</tspan> = 65)</tspan></text>
<rect x="619" y="552.5" width="9.4" height="9.4" fill="#d5145f" stroke="#333" stroke-width="0.6"/>
<text x="633.3" y="560.1" font-size="8.2" fill="#111">L10 <tspan font-size="7.5">(<tspan font-style="italic">n</tspan> = 352)</tspan></text>
<rect x="619" y="566.2" width="9.4" height="9.4" fill="#f3ef4e" stroke="#333" stroke-width="0.6"/>
<text x="633.3" y="573.8" font-size="8.2" fill="#111">L11 <tspan font-size="7.5">(<tspan font-style="italic">n</tspan> = 1)</tspan></text></g>
</svg>
</body></html>
